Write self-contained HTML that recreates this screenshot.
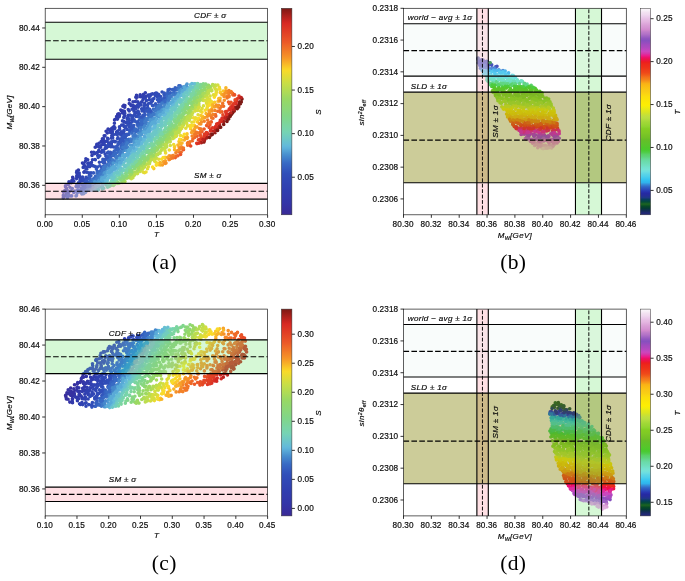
<!DOCTYPE html>
<html><head><meta charset="utf-8"><title>S-T scan: M_W and sin2theta_eff</title>
<style>
html,body{margin:0;padding:0;background:#fff;}
body{width:685px;height:581px;overflow:hidden;font-family:"Liberation Sans", sans-serif;}
svg{display:block;will-change:transform;font-family:"Liberation Sans", sans-serif;fill:#000;}
text{stroke:#000;stroke-width:0.18px;fill:#111;}
text.cap{stroke:none;fill:#000;}
</style></head><body>
<svg width="685" height="581" viewBox="0 0 685 581">
<rect width="685" height="581" fill="#fff"/>
<rect x="45.20" y="8.30" width="222.40" height="206.50" fill="#fff"/>
<g fill="none" stroke-linecap="round" stroke-width="3.60">
<path stroke="#76d4b4" d="M151.7 141.8h0M146.9 144.6h0M164.1 130.3h0M121.5 174.1h0M169.3 118.6h0M128.6 163.4h0M122.1 173.8h0M138.3 154.5h0M114.6 178.1h0M135.9 159.6h0M110.1 183.0h0M195.3 86.5h0M186.3 98.2h0M175.0 112.5h0M181.4 105.4h0M108.2 185.1h0M126.9 168.2h0M111.5 181.2h0M133.8 161.5h0M134.2 161.1h0M128.2 165.8h0M121.9 171.4h0M179.4 107.2h0M125.4 170.4h0M176.9 109.9h0M165.0 126.0h0M170.4 119.9h0M121.8 172.7h0M155.8 137.9h0M172.2 118.1h0M144.3 150.4h0M157.8 135.4h0M168.8 120.8h0M168.3 121.9h0M112.5 181.4h0M109.3 184.7h0M115.9 178.5h0M137.6 158.0h0M144.2 150.2h0M141.3 152.5h0M107.6 187.2h0M149.8 144.3h0M119.0 175.8h0M120.8 172.5h0M115.9 176.6h0M175.0 115.6h0M165.9 123.2h0M157.7 135.9h0M172.2 116.5h0M159.9 131.4h0M193.5 88.5h0M191.1 93.2h0"/>
<path stroke="#4588cc" d="M175.0 95.1h0M99.8 180.8h0M136.7 136.0h0M85.4 192.4h0M158.9 110.1h0M98.2 177.8h0M87.8 189.4h0M159.6 110.2h0M122.2 152.6h0M124.0 150.4h0M137.7 136.9h0M151.4 118.2h0M140.0 133.4h0M123.1 150.6h0M143.0 131.4h0M116.4 160.6h0M181.7 87.2h0M119.3 155.7h0M157.0 111.1h0M154.6 113.9h0M165.8 102.1h0M171.7 98.5h0M126.0 147.5h0M113.8 161.2h0M145.3 129.2h0M162.1 107.5h0M164.8 104.5h0M151.2 120.4h0M99.3 177.9h0M124.7 148.6h0M144.0 124.5h0M119.6 157.5h0M102.8 175.0h0M89.3 190.2h0M143.4 127.2h0M104.7 172.2h0M144.7 125.8h0M87.2 190.6h0M91.9 186.9h0M122.5 151.6h0M83.6 193.7h0M116.1 161.4h0M141.6 127.0h0M103.1 173.7h0M141.0 130.6h0M117.1 157.7h0M137.5 136.0h0M101.0 174.6h0M165.2 103.3h0M144.0 127.1h0M182.8 87.6h0M152.4 117.7h0M112.4 163.2h0M120.2 155.7h0M90.9 186.5h0M155.3 114.7h0M167.5 102.9h0M176.8 93.1h0M168.2 100.9h0M86.6 190.6h0M122.2 154.6h0M133.6 138.2h0M135.1 138.6h0M147.3 119.9h0M126.0 147.1h0M95.3 181.1h0M157.2 113.7h0M138.4 132.5h0M102.8 172.2h0M163.6 106.9h0M95.9 179.6h0M144.4 128.8h0M95.0 183.2h0M110.5 167.3h0M112.3 164.7h0M141.3 131.2h0M109.4 167.0h0M134.9 139.3h0M127.6 147.1h0M118.7 157.1h0"/>
<path stroke="#304eb9" d="M75.0 191.1h0M113.6 147.0h0M95.3 166.6h0M147.7 107.6h0M97.4 167.0h0M129.1 126.7h0M153.9 98.5h0M111.1 146.7h0M89.7 174.3h0M142.0 111.0h0M127.1 129.5h0M123.6 133.0h0M160.6 96.6h0M135.9 116.5h0M129.4 123.8h0M124.8 134.5h0M147.2 108.7h0M151.4 101.7h0M121.3 134.4h0M134.0 119.7h0M138.2 114.9h0M130.6 123.5h0M144.4 111.5h0M83.3 180.9h0M120.3 139.5h0M132.1 121.8h0M107.6 152.7h0M78.8 186.4h0M131.8 120.8h0M137.6 116.4h0M162.1 92.0h0M115.4 141.6h0M144.4 110.3h0M158.3 99.8h0M91.0 172.7h0M96.6 167.8h0M105.9 156.2h0M118.8 142.1h0M144.3 108.3h0M89.2 175.7h0M151.0 103.3h0M139.5 114.2h0M78.4 186.8h0M73.8 192.5h0M129.4 126.8h0M71.7 195.9h0M157.5 97.1h0"/>
<path stroke="#3044b3" d="M92.5 159.7h0M68.2 195.5h0M128.3 115.4h0M87.8 163.6h0M135.7 108.9h0M139.6 103.7h0M79.4 175.8h0M128.0 116.0h0M142.1 102.0h0M112.4 134.0h0M119.5 126.9h0M72.3 188.5h0M148.2 95.1h0M85.9 168.7h0M101.4 152.3h0M98.1 152.1h0M84.4 171.7h0M79.5 175.5h0M68.0 193.2h0M89.5 165.2h0M116.5 132.0h0M86.9 168.9h0M105.5 145.6h0M141.4 102.0h0M108.1 139.2h0M89.9 166.6h0M143.0 99.4h0M134.2 108.4h0M100.6 147.2h0M132.0 109.3h0M111.8 135.8h0M122.5 120.9h0M107.6 138.2h0M136.1 106.2h0M104.2 142.1h0M91.4 162.6h0M145.3 98.1h0M123.7 121.4h0M111.4 138.1h0M70.8 190.7h0M108.6 142.8h0M97.7 155.5h0M112.3 133.1h0M104.5 144.7h0M106.1 141.2h0M138.3 107.1h0M137.9 104.7h0M87.6 166.8h0M127.1 118.5h0"/>
<path stroke="#84d684" d="M168.9 130.6h0M196.3 94.8h0M150.9 150.1h0M197.4 94.3h0M187.6 104.3h0M171.4 126.6h0M143.5 157.9h0M164.3 134.7h0M121.3 178.3h0M120.9 178.8h0M178.4 117.9h0M188.9 102.1h0M136.9 163.7h0M128.0 171.9h0M178.5 116.5h0M113.4 185.4h0M195.1 96.1h0M161.3 140.1h0M167.8 131.9h0M168.0 131.1h0M138.7 162.2h0M193.3 98.1h0M134.6 166.9h0M145.1 157.6h0M152.4 149.0h0M148.6 153.1h0M136.1 165.0h0M199.3 91.5h0M127.6 172.3h0M177.8 118.2h0"/>
<path stroke="#8cd776" d="M165.9 136.4h0M167.3 134.6h0M200.7 93.0h0M160.8 142.4h0M137.2 166.4h0M152.4 151.8h0M182.7 114.4h0M132.1 170.4h0M150.2 154.2h0M134.8 168.4h0M178.9 119.9h0M117.8 183.5h0M130.7 171.8h0M192.4 101.8h0M152.7 150.0h0M145.1 159.2h0M156.1 148.0h0M125.0 176.7h0M171.1 129.7h0M172.0 130.4h0M185.4 112.4h0M194.6 98.5h0M194.1 99.7h0M158.4 144.8h0M204.6 87.7h0M177.2 122.5h0M183.6 114.2h0M158.5 144.8h0M147.9 156.2h0M136.0 167.3h0M129.2 173.2h0M201.4 90.3h0M156.1 147.0h0M201.8 90.2h0"/>
<path stroke="#313bac" d="M68.3 184.5h0M116.8 116.5h0M78.4 170.1h0M106.1 131.3h0M64.9 190.6h0M72.0 180.3h0M76.9 171.0h0M135.8 97.2h0M102.4 138.9h0M82.5 163.1h0M66.4 188.2h0M107.3 133.0h0M124.9 105.5h0M122.5 112.4h0M121.6 111.0h0M136.5 95.4h0M71.3 182.4h0M63.4 192.1h0M108.1 129.0h0M115.4 119.2h0M119.7 114.5h0M69.0 181.8h0M124.7 107.3h0M95.2 147.2h0M104.2 135.8h0M117.7 114.4h0M91.6 152.2h0M122.7 110.9h0M124.4 111.4h0M140.2 94.7h0M116.6 116.6h0M136.5 98.1h0M114.6 119.9h0M73.1 178.7h0M137.1 97.3h0M129.3 103.6h0"/>
<path stroke="#c7de47" d="M143.1 168.2h0M197.5 107.4h0M207.0 94.8h0M179.2 132.5h0M140.4 169.6h0M132.9 177.7h0M214.1 86.7h0M215.4 85.0h0M189.6 119.3h0M190.8 117.4h0M165.5 147.2h0M172.9 138.6h0M156.4 158.3h0M215.4 86.0h0M140.2 171.4h0M195.2 110.6h0M164.8 148.4h0M134.1 175.4h0M190.5 114.7h0M211.1 90.8h0M180.2 130.2h0M199.2 106.5h0M174.0 138.0h0M131.3 178.7h0M192.2 114.6h0M211.3 89.5h0M142.6 169.2h0M208.5 93.5h0M207.0 96.8h0M176.7 135.6h0M205.2 96.6h0M174.7 136.3h0M192.7 112.7h0M203.2 100.5h0M178.9 132.7h0M166.6 146.9h0M183.6 125.0h0M130.6 178.3h0M153.7 159.7h0M154.2 159.4h0M165.0 147.6h0M190.5 116.3h0M170.0 141.8h0M149.5 163.8h0M189.2 120.5h0M137.6 173.6h0"/>
<path stroke="#7dd596" d="M162.9 135.8h0M180.8 110.9h0M136.9 161.6h0M194.9 92.9h0M191.4 98.2h0M198.4 88.4h0M174.5 120.2h0M180.1 112.3h0M186.6 102.7h0M152.0 147.2h0M154.2 145.3h0M184.0 107.5h0M153.8 144.1h0M193.6 94.6h0M159.1 138.6h0M115.2 182.8h0M134.4 164.6h0M200.5 84.6h0M117.7 179.1h0M199.6 85.9h0M119.8 177.9h0M179.2 113.6h0M168.7 127.1h0M178.1 113.2h0M171.2 124.6h0M183.1 108.9h0M173.7 119.8h0M192.4 95.0h0M148.9 150.6h0M151.4 145.9h0M138.1 161.0h0M169.7 125.2h0M188.9 99.3h0M146.6 152.4h0M181.4 109.0h0M162.2 135.2h0M118.3 178.8h0M144.3 155.1h0M140.2 159.3h0M156.8 141.5h0"/>
<path stroke="#3561c0" d="M121.5 144.4h0M109.4 156.1h0M174.4 90.6h0M77.2 193.1h0M121.0 142.7h0M148.8 112.7h0M158.8 105.1h0M133.7 128.3h0M79.0 190.8h0M126.2 135.5h0M110.4 157.5h0M176.7 88.6h0M129.0 134.2h0M89.4 177.3h0M114.3 151.0h0M153.3 105.6h0M160.7 101.0h0M165.8 95.0h0M89.3 177.8h0M138.0 122.5h0M172.4 89.6h0M147.6 110.7h0M103.4 166.6h0M116.9 148.5h0M97.3 171.4h0M169.6 94.0h0M113.4 154.0h0M162.2 99.0h0M167.8 92.4h0M110.3 156.8h0M151.0 111.0h0M86.2 182.8h0M116.0 148.5h0M133.0 130.8h0M130.2 129.8h0M103.8 163.3h0M107.7 157.7h0M78.5 191.2h0M164.2 100.5h0M178.9 85.9h0M139.4 119.7h0M170.4 92.9h0M167.0 94.3h0M121.2 146.5h0M117.0 149.8h0M141.5 119.0h0M115.6 155.4h0M137.2 124.0h0M137.7 125.5h0M113.5 152.6h0M118.1 148.6h0M175.2 87.7h0M160.3 101.4h0M83.6 186.5h0M140.4 124.5h0M139.4 123.5h0M133.5 130.1h0M129.8 132.1h0M118.9 149.5h0M81.4 188.1h0M80.4 189.9h0M125.8 139.1h0M112.9 155.8h0M84.2 184.9h0M90.1 178.7h0M173.7 90.0h0M86.0 182.5h0M144.7 114.6h0M144.2 117.6h0M142.8 119.0h0M108.3 155.7h0M128.8 134.4h0"/>
<path stroke="#386ac4" d="M87.5 185.2h0M98.9 174.0h0M125.3 140.7h0M99.3 171.9h0M108.8 162.0h0M129.0 139.6h0M113.2 154.7h0M106.9 164.9h0M166.3 99.1h0M141.2 122.0h0M89.5 182.4h0M103.4 169.7h0M135.5 132.1h0M93.0 179.3h0M127.2 139.9h0M117.9 152.2h0M76.5 195.6h0M132.0 133.2h0M95.5 176.2h0M156.1 106.2h0M97.5 173.8h0M80.5 192.3h0M134.9 131.2h0M161.3 102.3h0M94.0 178.3h0M124.9 143.5h0M152.7 112.9h0M153.5 109.3h0M135.2 130.4h0M148.1 114.8h0M145.2 118.4h0M115.5 153.1h0M137.1 130.3h0M131.1 140.0h0M163.5 101.7h0M125.0 142.3h0M177.1 89.4h0M149.2 116.0h0M83.7 188.4h0M83.3 190.3h0M149.0 115.3h0M139.0 127.0h0M141.5 124.7h0M123.2 145.4h0M85.9 184.7h0M143.3 122.6h0M135.9 129.0h0M97.1 173.3h0M164.8 101.7h0M86.1 187.6h0M165.2 98.4h0M110.9 160.0h0M91.9 181.3h0M167.6 97.6h0M99.2 172.6h0M156.3 107.9h0M129.3 141.6h0M158.3 105.5h0M141.3 120.3h0M144.5 120.2h0M173.0 93.2h0M138.0 130.1h0M167.2 96.4h0M152.4 114.9h0M122.1 148.6h0M165.6 97.9h0M124.5 143.4h0M110.6 159.3h0M85.1 188.8h0M95.2 177.3h0M128.8 139.2h0M89.9 181.4h0M107.8 160.1h0M128.0 143.0h0M101.2 169.7h0M180.1 85.8h0M173.7 92.5h0M119.8 151.6h0M90.3 181.3h0M149.4 114.1h0M121.3 148.0h0M155.6 109.7h0M129.0 140.9h0M76.0 195.9h0M174.0 93.0h0"/>
<path stroke="#3357bd" d="M117.9 145.3h0M115.9 146.9h0M127.8 134.4h0M121.4 141.2h0M143.0 115.4h0M123.4 135.8h0M110.4 153.8h0M102.5 161.7h0M87.9 178.5h0M105.2 159.6h0M101.3 167.0h0M86.9 180.9h0M168.1 89.9h0M99.8 165.8h0M125.3 136.9h0M102.9 159.3h0M149.7 109.3h0M150.5 111.2h0M126.9 134.2h0M86.2 180.4h0M102.6 162.0h0M144.8 114.7h0M90.9 175.8h0M77.7 189.7h0M164.0 94.6h0M121.9 137.4h0M123.9 137.6h0M85.4 181.9h0M133.8 125.5h0M159.0 98.5h0M157.5 99.8h0M141.7 116.7h0M118.0 144.1h0M164.2 97.5h0M158.7 101.7h0M131.5 128.4h0M130.9 124.7h0M104.2 161.0h0M125.7 136.0h0M146.2 111.1h0M93.5 172.9h0M160.6 99.8h0M164.3 93.0h0M148.3 111.0h0M96.4 169.0h0M155.6 103.7h0M122.9 141.0h0M108.4 152.1h0M152.4 105.6h0M107.1 157.6h0M104.7 162.7h0M137.4 121.7h0M110.4 152.2h0M169.7 89.3h0M119.3 143.6h0M82.3 185.0h0M129.6 130.1h0M132.0 127.0h0M139.7 117.0h0M134.9 121.3h0M121.8 139.2h0"/>
<path stroke="#b2db54" d="M131.4 175.6h0M208.9 89.1h0M194.0 108.8h0M167.1 143.1h0M153.9 156.5h0M189.5 114.1h0M125.0 181.5h0M138.2 170.1h0M194.0 107.8h0M137.2 171.3h0M212.7 84.5h0M201.6 98.2h0M142.1 166.9h0M167.2 142.6h0M132.8 175.1h0M205.9 93.7h0M172.5 136.2h0M148.6 161.2h0M183.1 123.1h0M206.8 92.1h0M151.1 159.3h0M210.4 87.0h0M201.3 99.0h0M170.1 139.8h0M203.0 96.5h0M183.8 122.5h0M184.6 119.5h0M187.4 116.6h0M198.9 100.9h0M150.7 160.0h0M162.2 148.1h0M196.8 104.9h0"/>
<path stroke="#921d18" d="M230.0 116.3h0M204.0 142.1h0M239.2 102.0h0M215.3 130.7h0M238.0 105.0h0M236.0 107.9h0M216.1 130.2h0M234.3 111.1h0M212.0 134.2h0M215.1 132.8h0M220.0 127.5h0M211.1 135.1h0"/>
<path stroke="#71cdbe" d="M166.6 118.8h0M157.2 132.1h0M157.4 136.1h0M182.1 102.0h0M135.3 156.0h0M170.9 116.4h0M126.6 165.1h0M122.6 170.3h0M131.7 162.0h0M140.1 150.3h0M137.8 155.7h0M187.8 94.9h0M161.6 127.1h0M191.6 89.4h0M119.3 174.3h0M107.9 185.3h0M153.3 138.5h0M130.1 163.3h0M188.2 93.0h0M143.2 149.1h0M131.6 160.3h0M145.3 146.7h0M164.7 122.2h0M141.8 148.5h0M184.4 96.6h0M102.2 188.9h0M126.5 165.9h0M159.8 130.4h0M158.7 130.9h0M176.3 108.6h0M134.5 159.2h0M184.2 99.1h0M185.1 97.3h0M154.7 134.7h0M123.4 170.2h0M177.0 105.5h0M174.7 110.0h0M189.0 94.2h0M158.0 130.0h0M123.0 168.7h0M157.8 133.2h0M105.9 185.0h0M165.7 124.4h0M181.0 103.1h0M189.9 91.0h0M103.8 188.3h0M151.3 141.3h0M166.3 121.4h0M159.0 133.0h0M195.5 83.9h0M151.2 139.3h0M172.1 113.9h0M186.5 96.1h0M183.0 99.9h0M165.8 119.6h0M119.0 172.9h0M182.6 100.2h0M117.3 174.0h0M145.1 147.0h0M165.9 121.3h0M145.4 145.0h0M160.8 130.4h0M194.4 84.2h0M163.4 125.1h0M138.3 153.4h0M149.3 145.1h0M191.6 88.9h0M171.1 118.5h0M129.0 164.4h0M169.4 116.9h0M160.3 129.0h0"/>
<path stroke="#95d868" d="M190.3 107.6h0M122.2 181.1h0M172.3 131.9h0M174.5 129.1h0M142.2 162.9h0M159.2 147.1h0M154.3 152.3h0M144.6 160.9h0M146.0 160.2h0M132.0 172.8h0M165.9 138.8h0M205.1 89.9h0M127.9 176.8h0M192.2 105.7h0M208.3 85.4h0M198.2 98.3h0M158.0 148.4h0M196.2 100.0h0M144.4 162.3h0M168.7 136.6h0M194.5 101.3h0M192.7 106.4h0M208.7 85.3h0M189.1 110.7h0M208.6 85.6h0M157.7 148.9h0M138.7 167.0h0M159.8 145.9h0M147.5 159.5h0M193.9 103.2h0M123.7 180.1h0M161.3 144.2h0M148.8 158.5h0M172.9 130.7h0M140.8 165.1h0M204.6 89.4h0"/>
<path stroke="#91d76f" d="M197.6 97.6h0M155.8 150.0h0M186.2 112.7h0M168.1 134.6h0M192.5 102.7h0M127.2 176.0h0M185.4 112.7h0M170.1 132.3h0M181.5 118.0h0M149.7 155.9h0M189.3 107.9h0M199.2 94.2h0M119.1 183.2h0M182.6 116.5h0M192.2 104.0h0M172.9 129.1h0M206.3 85.3h0M151.5 154.3h0M164.7 139.4h0M154.5 151.6h0M149.5 155.8h0M151.4 153.4h0M147.3 158.2h0M202.9 90.6h0M162.6 141.8h0M124.7 178.2h0M132.3 172.6h0M155.1 150.8h0M201.5 93.2h0M165.2 138.5h0M188.0 108.9h0M165.9 136.2h0"/>
<path stroke="#68c0d1" d="M144.9 140.5h0M99.6 187.0h0M109.4 177.3h0M130.6 157.4h0M125.9 161.0h0M165.6 114.8h0M160.7 120.1h0M180.0 96.2h0M143.7 141.3h0M154.4 128.4h0M112.5 175.9h0M104.3 182.9h0M149.7 137.6h0M149.2 133.4h0M97.9 188.7h0M164.7 116.8h0M166.6 111.7h0M187.1 89.6h0M113.3 173.8h0M119.1 168.6h0M148.4 137.4h0M120.8 164.3h0M147.1 134.3h0M172.6 108.7h0M133.0 153.0h0M194.2 83.7h0M182.1 92.9h0M174.8 104.9h0M148.3 136.1h0M176.1 102.2h0M96.1 189.8h0M185.5 92.7h0M147.4 134.6h0M168.8 112.1h0M153.6 128.8h0M183.4 96.1h0M110.2 176.0h0M120.7 167.9h0M107.5 180.4h0M117.9 168.9h0M168.6 114.1h0M188.6 87.7h0M179.7 99.5h0M137.6 149.0h0M112.5 175.6h0M178.7 100.5h0M140.3 144.1h0M97.8 189.1h0M107.2 178.7h0M171.0 107.4h0M125.7 160.0h0M128.0 158.6h0M149.6 134.3h0M154.1 126.6h0M187.0 90.9h0M162.1 119.6h0M147.4 137.6h0M161.7 118.2h0M131.8 153.7h0M105.7 181.1h0M190.3 84.7h0M184.4 92.4h0M143.9 141.4h0M178.0 98.5h0M142.0 144.0h0M170.4 111.2h0M190.3 87.3h0M116.7 172.1h0M169.7 107.8h0M141.1 145.4h0M150.2 136.0h0M105.4 182.9h0M162.6 118.3h0M137.1 149.1h0M185.4 91.3h0M131.9 154.2h0M155.7 129.7h0M119.6 166.7h0M135.7 149.8h0M123.6 163.0h0M168.1 113.5h0M134.8 150.0h0M160.4 122.1h0M164.6 116.5h0M134.7 152.4h0"/>
<path stroke="#ec5b28" d="M197.1 136.2h0M210.0 124.7h0M204.1 129.0h0M222.0 111.7h0M183.5 149.8h0M206.6 125.6h0M200.0 134.3h0M202.0 131.8h0M177.9 155.8h0M233.9 94.5h0M215.8 116.1h0M211.3 121.9h0M175.3 157.6h0M228.5 102.1h0M229.4 103.7h0"/>
<path stroke="#3f79c8" d="M169.6 96.4h0M91.9 182.9h0M122.9 147.5h0M160.7 107.4h0M134.2 135.5h0M168.8 100.0h0M108.9 164.7h0M113.9 160.7h0M127.2 142.9h0M130.9 139.1h0M169.8 98.5h0M103.4 167.5h0M158.5 106.5h0M146.5 119.1h0M81.9 194.0h0M98.0 176.0h0M148.2 118.2h0M93.4 180.8h0M160.6 105.1h0M96.2 179.0h0M88.2 184.6h0M90.2 186.7h0M172.9 94.9h0M102.2 171.0h0M82.1 191.7h0M150.9 115.9h0M145.2 121.0h0M144.8 121.9h0M146.1 123.3h0M100.2 173.9h0M111.4 162.6h0M168.9 98.3h0M155.2 110.8h0M104.1 168.2h0M126.6 144.4h0M178.6 89.6h0M124.9 147.1h0M148.3 117.8h0M132.0 141.0h0M153.5 114.2h0M119.0 155.9h0M106.6 168.4h0M120.5 151.9h0M115.8 157.5h0M89.9 184.4h0M112.6 159.7h0M149.0 119.8h0M120.4 153.9h0M170.9 96.4h0M116.4 156.2h0M176.5 93.6h0M170.9 97.0h0M131.4 141.5h0M162.2 103.3h0M87.9 186.3h0M105.4 166.0h0M104.5 170.4h0M110.6 162.8h0M147.0 123.2h0M134.7 134.6h0M135.3 135.8h0M158.7 108.2h0M157.5 108.5h0M126.2 148.0h0M140.4 127.7h0M89.8 184.7h0M133.1 136.0h0M105.9 166.3h0M179.3 87.4h0"/>
<path stroke="#63b9da" d="M158.6 121.9h0M144.1 138.0h0M146.7 132.9h0M117.9 167.7h0M110.7 173.6h0M135.9 148.7h0M181.7 93.0h0M177.1 98.1h0M150.2 128.8h0M145.3 137.4h0M160.1 117.7h0M176.2 101.0h0M120.9 164.1h0M166.9 108.2h0M155.8 123.8h0M141.4 142.9h0M156.4 125.5h0M155.5 126.9h0M141.9 139.1h0M180.9 95.4h0M140.3 144.7h0M168.0 109.4h0M160.5 117.8h0M130.9 153.7h0M153.2 128.9h0M174.8 101.1h0M167.2 110.5h0M108.6 175.6h0M121.8 162.6h0M149.6 129.3h0M172.2 104.3h0M118.7 164.2h0M154.0 123.9h0M180.5 94.1h0M110.0 174.1h0M162.5 114.6h0M172.5 105.3h0M98.8 185.5h0M105.4 179.9h0M175.4 100.1h0M164.5 111.1h0M165.2 114.5h0M94.4 190.1h0M115.0 170.3h0M159.2 120.6h0M131.4 151.1h0M118.3 165.5h0M104.4 180.9h0M108.7 177.9h0M136.7 145.1h0M163.5 114.3h0M155.0 125.0h0M143.5 139.9h0M138.2 145.7h0M128.2 156.0h0M124.0 159.2h0M139.8 142.9h0M121.8 160.1h0M102.1 182.7h0M103.6 181.0h0M102.2 184.7h0M191.9 83.6h0M127.7 155.6h0M151.9 129.3h0M96.1 186.6h0M187.4 87.5h0M134.2 150.4h0M173.9 102.4h0"/>
<path stroke="#f9c728" d="M197.6 121.9h0M187.0 133.8h0M202.5 116.3h0M212.3 106.8h0M212.7 102.8h0M223.2 91.0h0M208.8 105.3h0M200.8 115.6h0M158.7 164.6h0M186.9 134.5h0M174.5 147.3h0M179.0 141.5h0M190.7 128.8h0M211.9 103.9h0M165.1 157.4h0M174.5 146.5h0M153.8 168.6h0M220.2 92.6h0M198.7 119.7h0M214.7 102.2h0M181.3 139.8h0M194.3 125.3h0"/>
<path stroke="#a7da5b" d="M172.3 135.0h0M183.9 119.6h0M176.8 128.8h0M169.8 138.4h0M188.6 114.5h0M156.3 154.2h0M166.0 142.2h0M163.6 144.8h0M200.6 99.1h0M130.8 175.9h0M134.9 172.1h0M201.8 96.9h0M174.1 130.8h0M141.1 166.8h0M179.6 125.0h0M202.0 95.7h0M200.3 100.3h0M151.3 157.6h0M168.3 140.1h0M143.8 165.0h0M173.1 133.1h0M151.3 156.7h0M191.0 110.8h0M185.3 117.4h0M203.1 93.7h0M204.3 93.3h0M207.7 89.8h0M198.3 100.2h0M190.6 111.5h0M129.0 177.6h0M163.8 144.8h0M194.8 105.3h0M179.0 125.1h0M137.9 170.0h0M191.8 109.1h0M198.8 101.5h0M177.2 129.5h0"/>
<path stroke="#bcdd4d" d="M132.0 176.9h0M144.6 166.9h0M160.0 152.1h0M160.1 153.3h0M151.3 159.6h0M170.0 141.7h0M146.6 164.3h0M161.8 149.4h0M157.9 153.7h0M182.8 125.1h0M195.7 107.3h0M206.4 95.5h0M161.2 150.6h0M182.0 125.6h0M179.5 128.1h0M186.2 120.9h0M141.2 168.5h0M162.9 148.9h0M185.4 121.5h0M187.2 117.7h0M157.7 154.7h0M187.9 118.5h0M155.6 155.8h0M202.9 99.1h0M165.6 146.9h0M189.4 115.2h0M147.1 163.9h0M149.9 161.7h0M135.1 174.3h0M212.9 85.1h0M178.8 130.5h0M175.3 133.5h0M177.7 132.1h0M165.8 144.6h0M208.7 90.9h0M211.9 90.8h0M175.9 132.4h0M175.2 135.3h0M198.9 103.9h0M166.6 145.9h0M187.3 119.0h0M208.3 92.5h0"/>
<path stroke="#ee6928" d="M220.2 112.1h0M189.3 144.1h0M187.7 145.2h0M232.6 93.3h0M199.7 132.6h0M194.7 137.4h0M176.1 156.1h0M192.5 140.7h0M232.8 94.8h0M209.5 122.5h0M192.9 138.7h0M207.9 123.3h0M217.7 111.2h0M201.0 130.7h0M181.2 152.0h0M232.9 94.9h0M213.0 118.2h0M219.2 111.0h0M223.6 106.2h0M215.4 114.6h0M179.0 152.0h0"/>
<path stroke="#fada28" d="M207.3 106.9h0M158.2 163.2h0M156.3 165.1h0M219.8 89.3h0M191.5 125.8h0M179.7 139.2h0M205.2 110.2h0M156.5 165.1h0M161.8 159.1h0M202.0 112.2h0M194.0 121.8h0M183.2 136.4h0M184.3 134.2h0M163.2 157.5h0M207.7 104.8h0M209.6 104.8h0M198.6 118.3h0M215.7 95.1h0M190.2 125.6h0M214.3 97.2h0M152.6 167.1h0M193.0 125.8h0M190.5 127.5h0"/>
<path stroke="#3041b1" d="M113.7 127.1h0M142.6 96.7h0M65.3 196.0h0M94.5 153.8h0M124.8 116.0h0M99.5 146.4h0M146.0 96.3h0M99.0 150.8h0M103.6 142.6h0M114.1 126.6h0M99.1 146.9h0M83.9 172.3h0M83.2 167.4h0M84.9 166.2h0M112.3 131.4h0M114.9 127.8h0M133.7 106.9h0M88.8 163.0h0M79.8 177.5h0M66.4 193.4h0M98.8 150.4h0M137.8 101.9h0M123.8 117.4h0M76.8 176.6h0M133.1 105.5h0M79.2 173.1h0M96.6 152.7h0M110.4 132.4h0M114.5 128.7h0M68.1 191.6h0M105.0 141.7h0M68.7 192.2h0M63.3 197.8h0M129.2 111.0h0M133.4 105.7h0M111.9 130.5h0M101.8 144.7h0M93.7 152.2h0"/>
<path stroke="#7bd5a0" d="M133.1 164.7h0M142.3 156.3h0M191.2 94.5h0M130.3 168.3h0M109.3 186.5h0M160.1 135.1h0M180.6 109.1h0M175.9 116.6h0M110.6 185.6h0M193.6 92.0h0M171.1 122.6h0M146.6 150.1h0M197.4 85.5h0M184.5 104.3h0M165.5 128.7h0M155.4 141.4h0M190.9 97.0h0M128.7 168.4h0M181.2 108.0h0M192.3 94.9h0M196.8 89.6h0M162.6 133.5h0M197.1 87.0h0M136.3 161.6h0M126.5 171.5h0M135.5 162.3h0M128.8 168.3h0M166.1 128.7h0M198.3 87.1h0M141.0 156.6h0M178.9 111.6h0M175.2 117.0h0M151.7 144.1h0M111.7 184.7h0"/>
<path stroke="#9cd961" d="M188.2 113.0h0M153.3 155.3h0M172.1 133.9h0M138.5 168.0h0M200.6 96.4h0M189.2 110.6h0M144.1 163.3h0M166.7 139.5h0M176.6 126.6h0M196.3 102.1h0M176.6 127.8h0M157.0 150.2h0M181.3 120.8h0M179.3 123.2h0M196.5 102.6h0M122.1 182.4h0M170.7 134.2h0M160.7 146.3h0M130.8 174.6h0M180.0 122.9h0M207.7 87.5h0M126.9 178.3h0M168.9 137.1h0M209.8 86.7h0"/>
<path stroke="#f8b428" d="M209.0 110.2h0M218.8 98.6h0M184.3 140.0h0M160.3 162.5h0M206.1 113.6h0M212.8 105.0h0M202.9 118.3h0M174.6 149.7h0M201.1 119.8h0M180.0 143.3h0M221.8 94.6h0M220.1 98.4h0M182.0 143.1h0M194.6 128.7h0M160.3 165.0h0M225.9 87.9h0M218.1 101.3h0M225.3 91.1h0M202.6 117.7h0M177.9 145.0h0"/>
<path stroke="#4e98d2" d="M168.6 104.1h0M150.8 122.0h0M168.2 103.9h0M100.5 181.9h0M178.9 93.0h0M101.5 177.3h0M132.8 145.2h0M184.4 87.5h0M116.5 163.3h0M150.2 119.7h0M113.3 163.0h0M126.6 150.8h0M186.4 85.7h0M147.7 126.4h0M123.0 154.5h0M104.5 172.8h0M105.4 175.6h0M94.7 181.7h0M142.1 133.1h0M98.4 181.0h0M119.4 160.9h0M106.3 171.8h0M131.5 145.5h0M91.2 189.3h0M130.0 148.9h0M162.1 109.7h0M95.3 183.0h0M112.4 168.2h0M93.1 185.8h0M117.3 161.1h0M147.2 128.3h0M130.4 145.0h0M140.1 136.1h0M98.6 181.4h0M183.7 86.7h0M134.6 141.8h0M134.1 141.4h0M158.3 116.7h0M96.0 183.0h0M145.5 130.5h0M108.7 168.9h0M157.1 116.1h0M149.3 124.9h0M186.3 85.4h0M107.9 168.7h0M140.5 134.6h0M181.1 89.8h0M187.0 84.1h0M152.2 120.1h0M161.4 111.5h0M135.8 141.8h0M158.3 114.4h0M134.1 143.9h0M166.8 106.9h0M179.8 90.8h0M137.3 139.2h0M158.5 115.0h0M90.0 189.6h0M158.0 112.9h0M141.7 134.4h0M145.0 129.6h0M154.3 119.2h0M160.4 112.1h0M143.2 131.5h0M92.2 188.9h0M148.5 123.8h0M154.3 118.0h0"/>
<path stroke="#d32722" d="M200.5 141.7h0M221.0 121.0h0M225.9 116.4h0M214.5 127.8h0M226.5 115.5h0M224.9 117.1h0M207.9 133.7h0M215.6 127.1h0M236.0 103.9h0M222.9 118.2h0M239.7 98.0h0M207.2 135.9h0M216.0 127.0h0M219.0 123.7h0M204.8 137.9h0"/>
<path stroke="#78d4aa" d="M187.3 98.3h0M193.4 90.0h0M196.0 87.9h0M148.7 146.6h0M186.5 99.8h0M113.9 181.9h0M183.0 105.7h0M161.0 133.5h0M181.3 104.9h0M143.6 152.1h0M140.6 155.5h0M162.2 132.6h0M154.5 139.6h0M116.1 179.2h0M195.4 87.4h0M168.3 123.6h0M174.9 114.3h0M112.5 183.6h0M184.3 103.3h0M197.7 83.5h0M157.3 137.7h0M147.0 148.5h0M185.5 101.8h0M178.9 110.5h0M130.5 166.7h0M179.2 109.3h0M183.3 105.0h0M177.1 112.6h0M142.7 153.1h0M132.1 164.7h0M115.8 180.2h0M165.6 127.8h0M127.4 169.4h0M169.8 123.0h0"/>
<path stroke="#59aad7" d="M145.2 133.0h0M144.4 136.4h0M109.5 172.4h0M164.1 109.3h0M120.5 162.7h0M184.6 87.5h0M140.5 139.7h0M124.5 156.9h0M114.2 168.2h0M111.8 167.9h0M115.0 167.5h0M143.9 132.1h0M109.8 170.3h0M133.6 148.0h0M105.8 176.0h0M151.9 123.4h0M128.7 150.1h0M128.0 152.6h0M102.5 180.8h0M91.7 190.3h0M102.3 178.0h0M129.8 150.5h0M95.6 187.0h0M128.6 153.1h0M112.7 170.3h0M110.8 170.7h0M182.2 91.1h0M151.6 123.9h0M159.4 115.3h0M97.8 183.7h0M93.2 187.8h0M113.1 166.7h0M115.4 168.2h0M121.5 159.1h0M104.2 177.4h0M148.7 129.1h0M135.3 144.9h0M119.7 158.2h0M167.1 107.5h0M107.4 172.7h0M125.2 154.8h0M116.1 164.9h0M154.0 121.7h0M147.5 130.8h0M122.5 160.0h0M150.1 127.0h0M131.1 147.5h0M95.4 186.7h0M101.4 179.6h0M127.0 153.9h0M107.9 172.2h0M172.8 101.5h0M171.4 102.3h0M140.7 139.4h0M150.9 125.2h0M140.6 138.1h0M177.4 96.1h0M138.8 141.6h0M168.4 106.0h0M113.8 167.1h0M134.9 145.0h0M149.8 131.2h0M175.0 98.4h0M122.6 155.8h0M131.2 148.4h0M128.1 154.6h0M137.8 141.9h0M112.8 170.3h0M160.3 114.6h0M152.5 122.3h0M112.0 171.3h0M119.8 162.7h0M104.8 177.3h0M184.7 89.1h0M169.9 103.7h0M178.2 94.7h0M136.3 141.3h0M163.2 112.5h0M155.3 121.1h0M156.7 119.1h0M125.7 155.8h0M138.3 143.8h0M99.4 183.0h0M172.5 99.3h0M177.7 96.3h0M147.1 131.3h0M155.2 123.0h0"/>
<path stroke="#eddb30" d="M216.0 93.4h0M195.5 119.2h0M146.0 172.0h0M195.5 117.7h0M180.5 135.5h0M216.4 92.2h0M173.7 144.6h0M155.8 162.1h0M169.3 150.0h0M144.5 172.8h0M206.9 108.5h0M193.6 117.9h0M211.4 101.5h0M207.0 103.9h0M165.6 152.9h0M208.8 102.0h0M219.3 87.3h0"/>
<path stroke="#80d68c" d="M125.6 173.6h0M202.4 84.6h0M200.6 87.5h0M139.4 161.5h0M174.8 121.7h0M147.9 151.8h0M203.2 83.7h0M165.6 132.1h0M122.6 175.9h0M142.0 158.9h0M168.2 129.2h0M129.7 170.4h0M190.3 99.9h0M188.9 101.6h0M187.2 105.4h0M148.7 151.2h0M172.2 124.5h0M174.5 121.4h0M197.6 90.9h0M133.0 166.9h0M185.0 107.6h0M160.4 138.8h0M160.7 138.1h0M157.5 141.5h0M158.5 140.8h0M157.7 141.4h0M143.0 156.5h0M164.7 132.0h0M203.4 84.8h0M196.7 91.3h0M185.9 104.5h0M175.3 119.9h0M156.6 143.2h0M182.6 110.6h0"/>
<path stroke="#3047b5" d="M107.6 146.8h0M113.6 134.6h0M131.9 118.2h0M121.7 125.1h0M134.9 113.7h0M82.6 177.1h0M146.5 100.5h0M112.7 137.8h0M122.7 125.1h0M69.1 195.8h0M130.1 115.1h0M102.3 150.2h0M136.3 112.6h0M78.5 182.7h0M155.4 93.2h0M134.0 111.3h0M141.1 105.0h0M82.0 178.1h0M124.1 126.5h0M111.4 143.5h0M128.3 118.3h0M99.8 155.7h0M149.4 99.5h0M82.0 177.6h0M76.1 186.6h0M81.5 180.9h0M68.1 195.7h0M138.0 111.0h0M125.9 122.5h0M106.4 147.9h0M148.9 96.6h0M95.3 159.8h0M126.9 121.9h0M144.7 103.2h0M91.7 165.1h0M105.1 148.5h0M139.1 105.2h0M89.8 165.2h0M70.0 196.0h0M80.0 180.2h0M149.9 94.9h0M76.7 185.1h0M117.6 131.0h0M116.5 134.2h0M102.3 151.8h0M113.5 141.2h0M151.1 94.4h0M152.6 93.9h0M86.5 172.3h0M119.7 129.3h0M128.8 122.4h0M95.0 159.6h0M123.2 124.9h0M150.1 96.3h0"/>
<path stroke="#a8201b" d="M211.0 134.4h0M223.7 121.6h0M227.8 116.8h0M217.4 129.0h0M229.4 114.4h0M218.8 126.4h0M226.4 118.6h0M206.7 137.9h0M204.5 140.5h0M235.0 107.6h0M219.6 124.9h0M201.4 142.7h0M233.4 110.1h0M215.7 130.5h0"/>
<path stroke="#e14125" d="M231.1 106.7h0M206.3 132.6h0M198.4 139.9h0M230.2 108.3h0M233.6 103.7h0M200.8 139.2h0M204.4 134.3h0M201.9 138.0h0M225.6 111.6h0"/>
<path stroke="#7d1914" d="M212.2 134.4h0M230.1 116.2h0M241.3 102.0h0M217.6 130.5h0M236.9 107.3h0M240.4 103.8h0M240.3 102.0h0M226.8 121.3h0M231.3 114.6h0M220.7 127.3h0M237.2 108.8h0M209.5 137.5h0M227.0 121.5h0M242.0 99.1h0M239.7 103.9h0M232.6 112.9h0M223.7 124.4h0M240.0 103.9h0M238.7 106.9h0M228.7 119.0h0"/>
<path stroke="#de3825" d="M212.4 127.7h0M233.8 104.3h0M239.0 96.1h0M206.0 134.4h0M197.0 143.6h0M229.2 109.1h0M227.1 111.3h0M237.2 98.8h0M216.6 124.0h0M226.0 112.9h0M204.1 136.2h0M235.3 101.9h0M200.7 138.8h0M196.7 143.2h0M207.0 132.7h0M230.3 108.0h0M232.4 105.5h0"/>
<path stroke="#303eaf" d="M119.3 116.6h0M96.5 146.5h0M96.8 144.4h0M99.0 143.3h0M133.2 106.1h0M130.7 104.7h0M85.9 158.7h0M105.0 135.9h0M77.3 173.4h0M84.3 165.5h0M92.0 155.4h0M110.4 129.6h0M103.1 141.0h0M67.3 190.5h0M63.5 196.6h0M114.4 123.3h0M109.2 130.2h0M112.9 127.5h0M140.1 96.1h0M63.3 195.3h0M101.2 141.6h0M71.1 182.7h0M131.0 105.6h0M83.9 163.4h0M76.9 175.5h0M145.3 92.7h0M143.6 94.4h0M73.9 181.2h0M124.8 113.2h0M133.0 101.9h0M140.3 96.8h0M135.4 101.5h0M87.7 159.8h0M103.4 139.1h0M69.9 187.2h0M124.0 114.3h0M111.8 128.2h0M128.3 109.5h0M117.5 119.1h0M85.5 161.2h0M76.6 178.6h0M76.6 172.5h0"/>
<path stroke="#f7a128" d="M163.8 162.1h0M197.0 126.9h0M187.1 138.4h0M165.3 160.7h0M195.7 126.9h0M223.2 94.5h0M209.6 112.7h0M185.6 137.9h0M199.4 123.8h0M205.1 117.6h0M211.7 109.2h0M187.5 137.6h0M162.4 164.9h0M169.2 155.8h0M179.1 147.1h0M163.6 161.7h0M214.5 106.9h0M191.6 132.5h0M209.3 111.2h0M167.7 157.4h0M192.5 131.0h0"/>
<path stroke="#e0dc37" d="M209.8 99.6h0M213.4 94.9h0M185.8 128.2h0M200.3 110.9h0M206.4 102.8h0M187.6 125.9h0M191.9 122.3h0M200.9 110.4h0M216.2 90.7h0M147.6 168.8h0M158.8 159.2h0M207.4 100.6h0M143.3 172.3h0M202.1 108.4h0M216.9 89.9h0M148.3 166.8h0M198.1 114.8h0"/>
<path stroke="#6cc7c7" d="M138.3 152.2h0M148.5 139.4h0M132.6 155.1h0M152.3 136.7h0M174.2 108.4h0M168.6 114.9h0M123.7 165.1h0M142.8 147.1h0M149.1 140.8h0M169.2 114.3h0M107.1 183.4h0M140.3 150.5h0M157.6 128.6h0M165.4 118.7h0M160.6 125.3h0M111.3 178.3h0M171.9 109.0h0M153.6 132.4h0M176.6 103.9h0M171.8 112.4h0M127.6 160.8h0M192.6 87.1h0M117.7 172.4h0M115.1 173.2h0M150.9 139.7h0M159.1 125.4h0M114.4 174.3h0M102.4 186.2h0M155.0 130.9h0M174.1 109.8h0M128.0 161.8h0M147.2 141.8h0M129.5 161.3h0M120.2 169.9h0M141.6 147.1h0M158.1 125.3h0M145.4 143.4h0M186.2 92.8h0M128.8 159.9h0M184.0 94.3h0M131.0 156.9h0M133.5 157.4h0M133.2 157.4h0M151.5 134.0h0M114.2 177.3h0M179.7 102.2h0M161.6 123.6h0M180.9 99.8h0M133.9 154.7h0M101.6 187.0h0M180.1 100.8h0M154.3 134.6h0M163.9 118.6h0M147.8 140.1h0M176.6 105.4h0M167.3 116.6h0M183.8 96.6h0M173.8 107.3h0M98.4 190.1h0M153.1 134.7h0M171.3 111.0h0M139.5 149.0h0M138.3 151.6h0M143.6 148.5h0M136.9 153.2h0M156.0 132.8h0M178.3 101.6h0M191.3 86.7h0M124.9 166.8h0M160.5 125.2h0M130.5 159.6h0M113.0 179.1h0M189.6 89.5h0M143.2 146.6h0M161.5 121.6h0"/>
<path stroke="#f59128" d="M169.0 159.7h0M181.3 146.9h0M166.0 163.1h0M224.3 100.3h0M209.8 114.5h0M225.1 93.3h0M200.8 123.9h0M219.9 101.0h0M226.7 91.2h0M201.4 122.3h0M207.5 116.2h0M177.4 150.9h0M179.6 148.7h0M224.1 96.0h0M165.3 163.4h0M227.3 92.9h0M194.6 134.1h0M194.3 131.1h0M212.1 110.9h0M218.7 105.3h0M208.6 114.6h0M224.0 96.4h0M216.4 105.1h0M178.3 150.2h0M217.8 107.0h0"/>
<path stroke="#f38328" d="M194.7 134.2h0M173.0 155.6h0M192.2 136.1h0M175.9 152.8h0M228.9 93.0h0M210.8 116.0h0M169.9 159.1h0M226.9 96.4h0M204.2 121.2h0M212.9 114.6h0M228.9 90.6h0M199.4 128.5h0M173.3 155.6h0M215.0 110.5h0M228.9 93.2h0M180.8 148.5h0M170.9 158.5h0M171.1 156.0h0M231.0 91.5h0"/>
<path stroke="#88d77d" d="M186.6 107.0h0M178.3 120.8h0M203.5 86.4h0M205.8 84.1h0M190.4 103.3h0M137.1 165.3h0M185.1 109.9h0M130.7 171.4h0M176.6 121.9h0M164.0 137.3h0M176.0 123.7h0M123.7 177.7h0M154.4 148.6h0M158.8 143.1h0M125.8 176.0h0M194.1 98.2h0M174.9 125.3h0M140.1 162.6h0M152.6 150.7h0M139.0 163.5h0M120.8 180.0h0M144.0 158.6h0M203.3 87.2h0M198.8 92.9h0M187.6 107.9h0M180.6 115.8h0M141.1 161.4h0M170.3 128.9h0M178.3 118.4h0M176.0 121.8h0M183.3 113.6h0M205.0 84.2h0M114.8 184.2h0M179.9 117.4h0M126.4 175.6h0M162.3 139.7h0M173.8 126.4h0M117.8 182.4h0"/>
<path stroke="#bd241f" d="M241.2 97.5h0M230.8 112.7h0M213.4 131.0h0M221.3 121.5h0M203.0 139.6h0M224.7 118.3h0M233.1 109.4h0"/>
<path stroke="#da2f24" d="M218.0 123.5h0M210.7 129.7h0M236.5 101.2h0M226.7 114.4h0M220.3 120.2h0M198.9 143.2h0M230.3 109.8h0M222.1 118.1h0M232.3 107.3h0M210.4 131.0h0M221.3 120.0h0M220.0 121.9h0M215.9 126.2h0"/>
<path stroke="#304bb7" d="M110.5 146.4h0M124.0 130.3h0M79.3 184.6h0M86.1 177.4h0M121.3 131.9h0M124.0 131.0h0M113.6 141.3h0M79.7 183.4h0M155.3 95.6h0M125.6 127.4h0M144.6 105.4h0M118.9 134.0h0M156.4 94.9h0M134.7 114.7h0M88.7 172.8h0M105.1 154.0h0M107.7 146.5h0M99.4 162.2h0M138.4 112.4h0M152.7 99.3h0M133.0 116.1h0M131.8 115.8h0M144.2 106.6h0M132.3 117.6h0M125.8 126.4h0M158.4 94.3h0M147.5 105.0h0M128.1 122.0h0M152.5 100.9h0M98.3 157.4h0M103.8 151.6h0M117.0 134.6h0M119.0 133.4h0M83.3 179.6h0M111.5 145.6h0M120.8 134.0h0M128.0 124.3h0M117.5 138.6h0M158.7 94.8h0M67.5 197.4h0M111.4 141.8h0M108.5 144.6h0M141.7 108.7h0M93.4 165.9h0M148.8 103.3h0M98.6 156.9h0M114.7 141.6h0M129.2 120.2h0M156.5 93.1h0M118.1 137.9h0"/>
<path stroke="#f17628" d="M190.0 141.7h0M183.4 148.1h0M196.5 132.2h0M173.0 158.0h0M195.6 134.4h0M187.5 143.4h0M188.0 142.6h0M197.5 133.0h0M229.0 96.7h0M221.4 106.4h0M211.7 117.9h0M229.1 95.9h0M188.4 143.4h0M220.0 108.6h0M231.3 92.4h0M227.1 97.9h0M222.7 103.4h0M207.7 120.1h0M201.1 129.1h0"/>
<path stroke="#e95227" d="M231.0 102.2h0M180.6 154.5h0M209.1 127.4h0M200.7 135.8h0M234.6 94.9h0"/>
<path stroke="#d4dd3f" d="M182.6 126.7h0M207.5 98.0h0M197.6 110.4h0M181.6 128.5h0M175.9 136.5h0M186.7 123.4h0M198.8 107.4h0M170.3 145.5h0M204.9 100.3h0M154.5 161.1h0M165.0 150.8h0M195.1 111.0h0M215.0 88.6h0M203.5 105.7h0M210.1 96.1h0M217.8 85.0h0"/>
<path stroke="#3239aa" d="M120.8 110.0h0M64.1 191.7h0M122.9 106.2h0M65.5 185.8h0M118.8 113.7h0M72.7 177.3h0M123.8 105.2h0M65.5 186.7h0M129.4 99.9h0M68.0 184.4h0"/>
<path stroke="#e54926" d="M190.7 146.0h0M235.1 99.9h0M222.9 114.8h0"/>
</g>
<clipPath id="c1"><rect x="45.20" y="22.26" width="222.40" height="36.97"/></clipPath>
<g clip-path="url(#c1)">
<rect x="44.20" y="21.26" width="224.40" height="38.97" fill="#d6f8d6"/>
</g>
<clipPath id="c2"><rect x="45.20" y="183.33" width="222.40" height="15.73"/></clipPath>
<g clip-path="url(#c2)">
<rect x="44.20" y="182.33" width="224.40" height="17.73" fill="#ffe0e5"/>
<g fill="none" stroke-linecap="round" stroke-width="3.60">
<path stroke="#8280c7" d="M75.0 191.1h0M78.8 186.4h0M78.4 186.8h0M73.8 192.5h0M71.7 195.9h0"/>
<path stroke="#8276bc" d="M68.3 184.5h0M64.9 190.6h0M66.4 188.2h0M71.3 182.4h0M63.4 192.1h0M69.0 181.8h0"/>
<path stroke="#858bca" d="M87.5 185.2h0M89.5 182.4h0M76.5 195.6h0M80.5 192.3h0M83.7 188.4h0M83.3 190.3h0M85.9 184.7h0M86.1 187.6h0M85.1 188.8h0M76.0 195.9h0"/>
<path stroke="#929dcb" d="M85.4 192.4h0M87.8 189.4h0M89.3 190.2h0M87.2 190.6h0M91.9 186.9h0M83.6 193.7h0M90.9 186.5h0M86.6 190.6h0M95.0 183.2h0"/>
<path stroke="#8a94cb" d="M91.9 182.9h0M81.9 194.0h0M88.2 184.6h0M90.2 186.7h0M82.1 191.7h0M89.9 184.4h0M87.9 186.3h0M89.8 184.7h0"/>
<path stroke="#98bccb" d="M99.6 187.0h0M104.3 182.9h0M97.9 188.7h0M96.1 189.8h0M97.8 189.1h0M105.4 182.9h0"/>
<path stroke="#837fc2" d="M68.2 195.5h0M72.3 188.5h0M68.0 193.2h0M70.8 190.7h0"/>
<path stroke="#8388c9" d="M77.2 193.1h0M79.0 190.8h0M86.2 182.8h0M78.5 191.2h0M83.6 186.5h0M81.4 188.1h0M80.4 189.9h0M84.2 184.9h0M86.0 182.5h0"/>
<path stroke="#9acca6" d="M109.3 186.5h0M110.6 185.6h0M111.7 184.7h0"/>
<path stroke="#9ca5ca" d="M100.5 181.9h0M94.7 181.7h0M91.2 189.3h0M95.3 183.0h0M93.1 185.8h0M96.0 183.0h0M90.0 189.6h0M92.2 188.9h0"/>
<path stroke="#807bbe" d="M65.3 196.0h0M66.4 193.4h0M68.1 191.6h0M68.7 192.2h0M63.3 197.8h0"/>
<path stroke="#8382c7" d="M79.3 184.6h0M79.7 183.4h0M67.5 197.4h0"/>
<path stroke="#8fc2bc" d="M107.9 185.3h0M102.2 188.9h0M105.9 185.0h0M103.8 188.3h0"/>
<path stroke="#97cbae" d="M113.9 181.9h0M112.5 183.6h0"/>
<path stroke="#90bec4" d="M107.1 183.4h0M102.4 186.2h0M101.6 187.0h0M98.4 190.1h0"/>
<path stroke="#8776be" d="M64.1 191.7h0M65.5 185.8h0M65.5 186.7h0M68.0 184.4h0"/>
<path stroke="#8280c4" d="M69.1 195.8h0M78.5 182.7h0M76.1 186.6h0M68.1 195.7h0M70.0 196.0h0M76.7 185.1h0"/>
<path stroke="#94cab5" d="M110.1 183.0h0M108.2 185.1h0M109.3 184.7h0M107.6 187.2h0"/>
<path stroke="#a9aeca" d="M91.7 190.3h0M95.6 187.0h0M97.8 183.7h0M93.2 187.8h0M95.4 186.7h0M99.4 183.0h0"/>
<path stroke="#9fcea0" d="M115.2 182.8h0"/>
<path stroke="#b0d590" d="M117.8 183.5h0"/>
<path stroke="#b5d68d" d="M119.1 183.2h0"/>
<path stroke="#8078bb" d="M67.3 190.5h0M63.5 196.6h0M63.3 195.3h0M71.1 182.7h0M69.9 187.2h0"/>
<path stroke="#bdd899" d="M122.1 182.4h0"/>
<path stroke="#a7d294" d="M113.4 185.4h0"/>
<path stroke="#8285c8" d="M77.7 189.7h0M85.4 181.9h0M82.3 185.0h0"/>
<path stroke="#a5b8cd" d="M98.8 185.5h0M94.4 190.1h0M102.1 182.7h0M102.2 184.7h0M96.1 186.6h0"/>
<path stroke="#acd492" d="M114.8 184.2h0M117.8 182.4h0"/>
</g>
</g>
<path d="M45.20 22.26H267.60" stroke="#000" stroke-width="1.15"/>
<path d="M45.20 59.24H267.60" stroke="#000" stroke-width="1.15"/>
<path d="M45.20 183.33H267.60" stroke="#000" stroke-width="1.15"/>
<path d="M45.20 199.07H267.60" stroke="#000" stroke-width="1.15"/>
<path d="M45.20 40.75H267.60" stroke="#000" stroke-width="1.15" stroke-dasharray="5.6 2.3"/>
<path d="M45.20 191.20H267.60" stroke="#000" stroke-width="1.15" stroke-dasharray="5.6 2.3"/>
<rect x="45.20" y="8.30" width="222.40" height="206.50" fill="none" stroke="#1a1a1a" stroke-width="0.7"/>
<path d="M45.20 214.80v3.00" stroke="#000" stroke-width="0.8"/>
<text x="44.85" y="226.70" font-size="8.2" text-anchor="middle" letter-spacing="0.12">0.00</text>
<path d="M82.27 214.80v3.00" stroke="#000" stroke-width="0.8"/>
<text x="81.92" y="226.70" font-size="8.2" text-anchor="middle" letter-spacing="0.12">0.05</text>
<path d="M119.33 214.80v3.00" stroke="#000" stroke-width="0.8"/>
<text x="118.98" y="226.70" font-size="8.2" text-anchor="middle" letter-spacing="0.12">0.10</text>
<path d="M156.40 214.80v3.00" stroke="#000" stroke-width="0.8"/>
<text x="156.05" y="226.70" font-size="8.2" text-anchor="middle" letter-spacing="0.12">0.15</text>
<path d="M193.47 214.80v3.00" stroke="#000" stroke-width="0.8"/>
<text x="193.12" y="226.70" font-size="8.2" text-anchor="middle" letter-spacing="0.12">0.20</text>
<path d="M230.53 214.80v3.00" stroke="#000" stroke-width="0.8"/>
<text x="230.18" y="226.70" font-size="8.2" text-anchor="middle" letter-spacing="0.12">0.25</text>
<path d="M267.60 214.80v3.00" stroke="#000" stroke-width="0.8"/>
<text x="267.25" y="226.70" font-size="8.2" text-anchor="middle" letter-spacing="0.12">0.30</text>
<path d="M45.20 185.30h-3.00" stroke="#000" stroke-width="0.8"/>
<text x="40.00" y="188.10" font-size="8.2" text-anchor="end" letter-spacing="0.12">80.36</text>
<path d="M45.20 145.97h-3.00" stroke="#000" stroke-width="0.8"/>
<text x="40.00" y="148.77" font-size="8.2" text-anchor="end" letter-spacing="0.12">80.38</text>
<path d="M45.20 106.63h-3.00" stroke="#000" stroke-width="0.8"/>
<text x="40.00" y="109.43" font-size="8.2" text-anchor="end" letter-spacing="0.12">80.40</text>
<path d="M45.20 67.30h-3.00" stroke="#000" stroke-width="0.8"/>
<text x="40.00" y="70.10" font-size="8.2" text-anchor="end" letter-spacing="0.12">80.42</text>
<path d="M45.20 27.97h-3.00" stroke="#000" stroke-width="0.8"/>
<text x="40.00" y="30.77" font-size="8.2" text-anchor="end" letter-spacing="0.12">80.44</text>
<text x="156.40" y="236.90" font-size="8" text-anchor="middle" font-style="italic">T</text>
<text x="12.20" y="112.40" font-size="8" text-anchor="middle" font-style="italic" letter-spacing="0.3" transform="rotate(-90 12.20 112.40)">M<tspan font-size="5.4" dy="1.6">W</tspan><tspan dy="-1.6">[GeV]</tspan></text>
<text x="194.00" y="18.20" font-size="8.1" text-anchor="start" font-style="italic" letter-spacing="0.3">CDF &#177; &#963;</text>
<text x="194.00" y="177.90" font-size="8.1" text-anchor="start" font-style="italic" letter-spacing="0.3">SM &#177; &#963;</text>
<linearGradient id="cb0" x1="0" y1="0" x2="0" y2="1"><stop offset="0.0000" stop-color="#7d1914"/><stop offset="0.0104" stop-color="#8a1b16"/><stop offset="0.0208" stop-color="#981d18"/><stop offset="0.0312" stop-color="#a5201b"/><stop offset="0.0417" stop-color="#b3221d"/><stop offset="0.0521" stop-color="#c0241f"/><stop offset="0.0625" stop-color="#cd2621"/><stop offset="0.0729" stop-color="#d82a23"/><stop offset="0.0833" stop-color="#da2f24"/><stop offset="0.0938" stop-color="#dc3524"/><stop offset="0.1042" stop-color="#df3a25"/><stop offset="0.1146" stop-color="#e13f25"/><stop offset="0.1250" stop-color="#e34526"/><stop offset="0.1354" stop-color="#e54a26"/><stop offset="0.1458" stop-color="#e85027"/><stop offset="0.1562" stop-color="#ea5528"/><stop offset="0.1667" stop-color="#ec5b28"/><stop offset="0.1771" stop-color="#ee6428"/><stop offset="0.1875" stop-color="#ef6c28"/><stop offset="0.1979" stop-color="#f07428"/><stop offset="0.2083" stop-color="#f27d28"/><stop offset="0.2188" stop-color="#f38528"/><stop offset="0.2292" stop-color="#f58d28"/><stop offset="0.2396" stop-color="#f69628"/><stop offset="0.2500" stop-color="#f7a128"/><stop offset="0.2604" stop-color="#f7ad28"/><stop offset="0.2708" stop-color="#f8b928"/><stop offset="0.2812" stop-color="#f9c528"/><stop offset="0.2917" stop-color="#f9d128"/><stop offset="0.3021" stop-color="#f8da29"/><stop offset="0.3125" stop-color="#f0db2e"/><stop offset="0.3229" stop-color="#e8db33"/><stop offset="0.3333" stop-color="#e0dc37"/><stop offset="0.3438" stop-color="#d8dd3c"/><stop offset="0.3542" stop-color="#d0dd41"/><stop offset="0.3646" stop-color="#c8de46"/><stop offset="0.3750" stop-color="#c2dd4a"/><stop offset="0.3854" stop-color="#bbdc4e"/><stop offset="0.3958" stop-color="#b4dc52"/><stop offset="0.4062" stop-color="#aedb57"/><stop offset="0.4167" stop-color="#a7da5b"/><stop offset="0.4271" stop-color="#a0d95f"/><stop offset="0.4375" stop-color="#9ad863"/><stop offset="0.4479" stop-color="#96d867"/><stop offset="0.4583" stop-color="#93d86c"/><stop offset="0.4688" stop-color="#90d770"/><stop offset="0.4792" stop-color="#8ed775"/><stop offset="0.4896" stop-color="#8bd779"/><stop offset="0.5000" stop-color="#88d77d"/><stop offset="0.5104" stop-color="#85d682"/><stop offset="0.5208" stop-color="#82d686"/><stop offset="0.5312" stop-color="#80d68b"/><stop offset="0.5417" stop-color="#7ed691"/><stop offset="0.5521" stop-color="#7dd597"/><stop offset="0.5625" stop-color="#7bd59e"/><stop offset="0.5729" stop-color="#7ad5a4"/><stop offset="0.5833" stop-color="#78d4aa"/><stop offset="0.5938" stop-color="#77d4b0"/><stop offset="0.6042" stop-color="#75d2b6"/><stop offset="0.6146" stop-color="#72cebc"/><stop offset="0.6250" stop-color="#6fcac2"/><stop offset="0.6354" stop-color="#6cc6c8"/><stop offset="0.6458" stop-color="#69c2ce"/><stop offset="0.6562" stop-color="#66bed4"/><stop offset="0.6667" stop-color="#63b9da"/><stop offset="0.6771" stop-color="#5db1da"/><stop offset="0.6875" stop-color="#57a6d6"/><stop offset="0.6979" stop-color="#509bd2"/><stop offset="0.7083" stop-color="#4990cf"/><stop offset="0.7188" stop-color="#4486cc"/><stop offset="0.7292" stop-color="#407dc9"/><stop offset="0.7396" stop-color="#3c73c7"/><stop offset="0.7500" stop-color="#386ac4"/><stop offset="0.7604" stop-color="#3664c2"/><stop offset="0.7708" stop-color="#355ebf"/><stop offset="0.7812" stop-color="#3358bd"/><stop offset="0.7917" stop-color="#3153bb"/><stop offset="0.8021" stop-color="#304eb9"/><stop offset="0.8125" stop-color="#304cb7"/><stop offset="0.8229" stop-color="#3049b6"/><stop offset="0.8333" stop-color="#3047b5"/><stop offset="0.8438" stop-color="#3045b4"/><stop offset="0.8542" stop-color="#3043b2"/><stop offset="0.8646" stop-color="#3041b1"/><stop offset="0.8750" stop-color="#303fb0"/><stop offset="0.8854" stop-color="#303dae"/><stop offset="0.8958" stop-color="#313cad"/><stop offset="0.9062" stop-color="#323aac"/><stop offset="0.9167" stop-color="#3239aa"/><stop offset="0.9271" stop-color="#3337a9"/><stop offset="0.9375" stop-color="#3336a8"/><stop offset="0.9479" stop-color="#3434a6"/><stop offset="0.9583" stop-color="#3532a3"/><stop offset="0.9688" stop-color="#3630a0"/><stop offset="0.9792" stop-color="#372e9d"/><stop offset="0.9896" stop-color="#392c99"/><stop offset="1.0000" stop-color="#3a2a96"/></linearGradient>
<rect x="281.40" y="8.30" width="10.50" height="206.50" fill="url(#cb0)" stroke="#333" stroke-width="0.5"/>
<path d="M291.90 177.23h3.00" stroke="#000" stroke-width="0.8"/>
<text x="297.50" y="180.03" font-size="8.2" text-anchor="start" letter-spacing="0.12">0.05</text>
<path d="M291.90 133.65h3.00" stroke="#000" stroke-width="0.8"/>
<text x="297.50" y="136.45" font-size="8.2" text-anchor="start" letter-spacing="0.12">0.10</text>
<path d="M291.90 90.06h3.00" stroke="#000" stroke-width="0.8"/>
<text x="297.50" y="92.86" font-size="8.2" text-anchor="start" letter-spacing="0.12">0.15</text>
<path d="M291.90 46.48h3.00" stroke="#000" stroke-width="0.8"/>
<text x="297.50" y="49.28" font-size="8.2" text-anchor="start" letter-spacing="0.12">0.20</text>
<text x="321.10" y="112.05" font-size="8" text-anchor="middle" font-style="italic" transform="rotate(-90 321.10 112.05)">S</text>
<text x="164.50" y="269.20" font-size="21.5" text-anchor="middle" class='cap' letter-spacing='0.4' font-family='Liberation Serif, serif'>(a)</text>
<rect x="45.20" y="309.10" width="222.40" height="206.80" fill="#fff"/>
<g fill="none" stroke-linecap="round" stroke-width="3.60">
<path stroke="#e54926" d="M232.0 349.5h0M204.6 382.5h0M201.4 382.4h0M241.6 336.5h0M216.9 368.1h0M233.3 347.4h0M224.6 358.5h0M217.9 365.0h0M229.9 352.4h0M202.7 382.9h0M206.9 377.3h0M244.5 338.0h0M238.7 339.5h0M212.0 369.5h0M243.3 337.6h0M208.5 377.0h0M200.1 383.9h0M227.1 357.3h0M210.9 369.8h0M202.4 384.7h0M207.9 375.5h0M203.3 382.3h0M237.3 341.3h0M241.6 338.4h0M202.6 384.5h0M236.8 346.9h0M204.0 380.3h0M222.1 361.4h0"/>
<path stroke="#a7da5b" d="M165.5 365.7h0M168.8 363.6h0M191.7 334.2h0M185.5 341.4h0M141.8 399.5h0M178.8 350.8h0M143.1 398.6h0M194.1 330.3h0M180.0 349.9h0M177.7 353.9h0M162.6 372.3h0M187.3 340.1h0M162.5 371.7h0M160.6 375.6h0M188.2 339.6h0M146.5 393.9h0M171.7 359.2h0M151.0 389.8h0M195.7 328.1h0M163.8 370.7h0M156.5 380.0h0M150.3 388.0h0"/>
<path stroke="#da2f24" d="M237.4 360.5h0M239.5 352.2h0M232.7 357.8h0M226.1 366.5h0M234.0 357.4h0M244.5 348.8h0M222.6 370.0h0M224.4 369.8h0M211.7 383.2h0M226.4 366.3h0M213.6 380.6h0M224.5 368.3h0M233.4 357.2h0M216.5 379.3h0M214.8 380.9h0M240.7 350.0h0M231.5 363.3h0M229.5 365.4h0M228.3 363.5h0"/>
<path stroke="#3044b3" d="M88.2 394.7h0M97.8 381.2h0M86.1 402.7h0M110.3 359.6h0M108.4 366.3h0M97.0 384.3h0M125.8 340.7h0M96.8 385.4h0M105.6 367.7h0M82.7 404.6h0M103.1 373.5h0M113.8 354.9h0M96.8 377.1h0M112.3 361.1h0M123.3 343.1h0M94.0 384.9h0M107.0 369.0h0M88.1 399.0h0M108.2 362.6h0M100.2 375.8h0M92.9 386.7h0M115.7 355.5h0M104.0 370.5h0M117.0 352.3h0M93.2 388.8h0M106.3 370.3h0M104.7 368.9h0M104.4 373.4h0M101.2 375.8h0M121.6 344.7h0M112.9 358.5h0"/>
<path stroke="#7dd596" d="M134.8 388.8h0M139.5 381.1h0M153.8 361.7h0M150.9 366.2h0M127.4 398.9h0M142.7 377.5h0M161.9 350.6h0M155.4 358.7h0M147.1 370.8h0M139.1 381.2h0M177.8 328.8h0M154.7 360.6h0M164.5 348.3h0M168.8 340.4h0M125.3 403.2h0M164.1 346.6h0M125.9 401.1h0M156.2 359.2h0M148.9 367.0h0M135.1 387.9h0M157.3 357.6h0M129.8 395.7h0M159.4 353.8h0M150.3 364.5h0M137.4 383.4h0M156.7 355.9h0M165.9 343.0h0M134.2 388.5h0M149.7 368.9h0M146.2 372.4h0M178.1 328.4h0"/>
<path stroke="#3357bd" d="M140.2 336.0h0M134.1 348.1h0M134.0 347.2h0M126.9 356.2h0M137.2 344.6h0M127.8 356.4h0M108.3 382.5h0M130.2 352.0h0M96.0 402.9h0M119.0 369.3h0M95.5 406.2h0M138.7 338.3h0M101.8 395.8h0M111.8 375.9h0M105.3 390.0h0M125.4 359.4h0M120.6 364.4h0M127.9 354.9h0M131.6 350.9h0M96.7 403.2h0M103.3 394.7h0M102.9 387.4h0M125.1 361.3h0M103.8 389.9h0M102.6 391.9h0M133.5 342.9h0M91.9 407.1h0M109.8 382.6h0M126.8 353.0h0M122.0 363.6h0M119.1 370.2h0M142.4 335.0h0M102.6 394.5h0M108.4 386.1h0M137.8 340.1h0M128.5 354.8h0M123.0 362.8h0M140.0 337.9h0M122.6 360.6h0M138.0 340.0h0M107.9 386.7h0M133.5 346.9h0M112.9 375.7h0M111.2 380.4h0M114.1 375.9h0M97.0 400.9h0M139.1 336.3h0M120.2 364.6h0M111.1 378.5h0M117.8 373.7h0"/>
<path stroke="#f17628" d="M231.5 332.4h0M194.3 377.2h0M229.6 338.0h0M224.7 340.5h0M208.7 358.7h0M188.0 386.2h0M186.1 384.5h0M197.9 373.9h0M195.7 378.9h0M186.7 390.0h0M200.6 368.8h0M196.9 377.8h0M181.2 391.1h0M207.0 359.4h0M198.2 373.9h0M217.1 348.8h0M228.3 339.1h0M189.6 382.5h0M186.6 387.5h0M223.5 343.7h0M207.0 365.5h0M183.8 388.0h0M212.7 355.7h0M190.3 382.1h0M185.7 390.3h0M207.0 360.8h0M187.6 387.9h0"/>
<path stroke="#4e98d2" d="M138.4 357.5h0M105.5 406.8h0M142.9 352.5h0M114.2 392.2h0M137.0 358.3h0M139.9 350.9h0M157.5 330.5h0M104.3 406.8h0M148.9 341.3h0M115.3 389.3h0M127.1 374.3h0M105.0 406.5h0M151.5 337.7h0M141.9 352.0h0M147.3 342.8h0M125.3 374.9h0M128.3 370.3h0M125.5 372.3h0M151.6 339.0h0M120.6 385.0h0M145.0 346.9h0M117.2 386.8h0M108.0 402.3h0M124.6 375.5h0M138.8 352.7h0M133.4 361.9h0M135.0 363.0h0M144.3 349.7h0M129.8 368.0h0M122.5 378.3h0M133.0 364.8h0M152.9 337.8h0M155.8 331.7h0M135.1 360.4h0M153.7 334.0h0M118.2 386.5h0M137.9 355.3h0M153.2 335.7h0M109.3 398.6h0M129.4 367.4h0M145.1 345.1h0M125.5 378.2h0M108.2 400.3h0M139.2 353.6h0M122.8 379.0h0M132.0 364.9h0M136.1 360.8h0M142.5 346.3h0M115.7 390.0h0M129.0 370.0h0M105.4 405.6h0M142.6 349.7h0"/>
<path stroke="#3f79c8" d="M116.5 379.4h0M138.6 348.0h0M140.1 348.0h0M147.9 337.4h0M127.9 366.9h0M130.9 359.1h0M123.4 370.6h0M106.8 395.7h0M104.0 401.8h0M110.5 388.8h0M125.2 368.1h0M106.9 394.4h0M102.3 405.0h0M101.4 406.2h0M135.1 355.5h0M118.7 379.3h0M140.7 343.8h0M117.4 380.6h0M101.9 402.2h0M111.6 390.3h0M106.6 397.0h0M131.4 360.8h0M100.6 404.4h0M145.1 339.4h0M151.1 332.3h0M149.7 333.3h0M118.1 380.7h0M131.9 358.3h0M119.6 377.6h0M141.3 345.1h0M107.3 393.7h0M130.6 361.3h0M140.1 346.5h0M112.0 386.2h0M102.9 403.0h0M128.8 364.8h0M121.2 374.7h0M127.6 364.7h0M114.6 385.6h0"/>
<path stroke="#76d4b4" d="M129.9 388.0h0M133.1 379.4h0M146.2 361.0h0M142.7 368.7h0M150.4 354.2h0M171.7 329.4h0M141.9 369.3h0M166.4 334.0h0M129.8 385.6h0M162.1 341.3h0M148.1 361.1h0M147.4 361.4h0M135.7 378.9h0M137.1 375.6h0M153.1 353.8h0M167.8 334.7h0M159.4 344.9h0M136.3 377.5h0M157.2 343.9h0M149.4 359.3h0M133.0 381.3h0M127.2 390.2h0M145.2 364.6h0M150.1 354.8h0M170.6 329.0h0M157.6 346.9h0M169.9 330.3h0M134.2 379.5h0M126.3 395.0h0M151.5 353.7h0M160.5 342.0h0M159.2 343.3h0M145.0 364.0h0M130.0 387.5h0M172.5 328.7h0M119.5 401.1h0M155.7 350.5h0M149.8 357.0h0M142.1 368.7h0M153.2 350.5h0M139.8 373.3h0M141.0 370.8h0"/>
<path stroke="#3561c0" d="M115.6 376.7h0M126.8 358.1h0M96.3 402.8h0M97.6 404.8h0M133.6 352.1h0M142.0 339.2h0M102.2 399.1h0M144.0 335.9h0M99.8 398.5h0M111.6 382.7h0M117.3 371.7h0M114.4 381.3h0M122.7 366.2h0M105.4 391.6h0M102.9 397.9h0M135.1 347.9h0M117.2 372.9h0M127.9 357.8h0M95.9 405.8h0M120.3 372.1h0M110.3 382.2h0M95.2 406.2h0M113.2 381.1h0M110.2 384.6h0M97.8 403.7h0M135.6 349.5h0M143.4 334.0h0M138.3 341.5h0M131.5 355.3h0M134.9 346.8h0M144.7 332.4h0M114.9 374.7h0M119.6 367.9h0M132.1 350.6h0M113.9 377.9h0M129.8 351.7h0M139.6 339.1h0M101.3 399.0h0M121.6 365.5h0M100.6 401.0h0M125.2 363.5h0M118.8 372.8h0M105.3 393.2h0"/>
<path stroke="#3047b5" d="M93.5 393.7h0M125.9 348.8h0M125.4 341.1h0M117.7 357.5h0M112.2 363.8h0M95.8 389.1h0M95.0 389.4h0M125.0 344.8h0M100.9 381.1h0M97.6 386.3h0M96.7 387.7h0M95.9 390.7h0M86.0 406.2h0M100.5 382.4h0M110.1 370.7h0M92.1 391.8h0M91.9 393.7h0M106.0 374.5h0M128.0 339.9h0M118.7 353.5h0M130.8 337.0h0M116.8 354.4h0M109.1 368.4h0M90.8 395.7h0M85.1 403.3h0M131.8 336.0h0M128.2 339.5h0M128.6 337.9h0M102.8 377.0h0M100.1 381.0h0M99.3 384.4h0M116.7 353.8h0M102.6 381.0h0M123.5 345.1h0M102.5 384.3h0M103.5 379.0h0M92.3 395.2h0"/>
<path stroke="#91d76f" d="M152.0 377.7h0M167.7 357.0h0M187.0 330.8h0M157.3 369.4h0M166.9 358.7h0M168.6 355.8h0M145.3 387.0h0M164.0 360.7h0M189.9 329.4h0M139.5 395.5h0M179.9 340.0h0M171.6 350.6h0M151.2 379.2h0M186.5 331.7h0M179.7 341.0h0M134.7 402.1h0M184.9 334.2h0M150.3 381.0h0M144.6 386.7h0M146.0 386.3h0M170.2 352.0h0M167.7 355.7h0M160.4 366.6h0M151.1 379.1h0"/>
<path stroke="#f38328" d="M219.1 341.6h0M182.8 384.6h0M187.9 380.2h0M226.3 337.4h0M196.8 370.8h0M204.5 358.3h0M180.5 389.4h0M217.7 345.5h0M182.9 391.6h0M215.5 351.0h0M190.4 377.4h0M204.3 363.9h0M222.6 342.8h0M201.3 362.9h0M187.2 382.5h0M179.1 391.8h0M225.3 337.6h0M202.7 366.7h0M201.6 365.8h0M208.0 357.0h0M228.5 334.2h0"/>
<path stroke="#b2db54" d="M149.1 393.6h0M175.7 358.4h0M153.0 388.7h0M165.5 371.9h0M194.2 336.2h0M144.1 397.3h0M161.7 379.0h0M145.0 399.1h0M154.0 386.6h0M167.8 366.6h0M170.1 364.9h0M196.2 329.8h0M169.5 365.3h0M185.9 344.3h0M182.8 347.6h0M199.6 326.6h0M194.1 334.9h0M175.9 354.4h0M195.6 333.9h0M168.8 366.5h0M198.6 329.0h0M192.3 337.6h0M146.8 397.8h0M202.4 324.6h0M153.0 386.2h0M182.5 349.8h0M182.3 348.6h0M178.3 355.3h0"/>
<path stroke="#3336a8" d="M100.9 353.3h0M92.6 368.2h0M72.5 398.8h0M103.5 351.9h0M90.3 368.2h0M83.5 377.3h0M83.5 383.4h0M96.3 359.3h0M96.3 360.4h0M87.3 372.2h0M100.2 355.6h0M99.0 358.8h0M83.3 381.7h0M77.6 391.3h0M76.7 390.2h0M78.8 387.8h0M86.3 376.4h0M74.4 393.9h0M89.1 369.0h0M100.6 358.0h0"/>
<path stroke="#88d77d" d="M142.8 385.2h0M185.6 327.0h0M144.0 383.5h0M143.9 383.9h0M131.2 402.2h0M132.2 400.5h0M152.9 369.8h0M139.3 388.0h0M186.9 327.2h0M162.7 357.2h0M165.5 354.5h0M168.2 350.0h0M159.4 362.2h0M176.3 341.6h0M172.0 344.8h0M172.0 344.8h0M132.0 399.2h0M153.6 370.1h0M134.9 396.3h0M138.1 392.9h0M171.1 347.6h0M176.9 337.5h0M163.3 357.3h0M174.2 343.4h0M149.4 376.6h0"/>
<path stroke="#303eaf" d="M107.9 356.5h0M111.4 351.4h0M90.8 380.8h0M88.0 390.0h0M110.9 356.7h0M84.3 390.8h0M111.9 350.9h0M97.4 373.5h0M104.2 360.4h0M113.1 348.6h0M101.2 366.9h0M86.8 387.4h0M82.1 397.3h0M89.3 383.4h0M79.6 403.7h0M103.9 363.1h0M84.8 394.2h0M116.8 342.2h0M114.2 346.3h0M92.5 379.4h0M96.8 373.7h0M91.1 384.5h0M86.1 390.1h0M98.6 370.4h0M109.5 355.7h0M95.1 373.4h0M86.7 390.0h0M82.0 398.6h0M105.1 361.3h0M92.8 379.2h0M105.6 357.3h0"/>
<path stroke="#8cd776" d="M166.9 354.0h0M187.6 327.4h0M190.1 324.8h0M162.7 359.9h0M173.5 344.5h0M147.3 382.6h0M163.8 356.7h0M185.3 330.3h0M170.9 347.4h0M147.7 381.9h0M174.0 344.7h0M161.0 364.9h0M180.4 338.0h0M175.6 344.4h0M179.7 337.4h0M155.7 369.2h0M139.2 393.1h0M139.5 390.5h0M163.2 361.4h0M173.6 346.6h0M176.7 342.4h0M180.8 337.9h0M152.7 374.1h0"/>
<path stroke="#de3825" d="M237.5 352.4h0M243.0 345.8h0M213.8 377.5h0M224.1 364.4h0M210.0 380.6h0M230.7 357.2h0M231.7 359.5h0M225.8 363.7h0M235.5 352.2h0M215.7 372.9h0M238.0 351.3h0M229.2 359.0h0M231.7 355.4h0M209.8 382.6h0M245.3 341.1h0M218.6 369.7h0M239.4 348.2h0M234.3 354.2h0M217.1 373.7h0M228.8 359.5h0M207.5 384.5h0M212.6 377.1h0M217.5 373.0h0M217.1 374.6h0M218.7 371.4h0M211.1 380.6h0M241.5 347.9h0M219.3 371.4h0M223.1 367.4h0M227.3 362.7h0M227.2 359.9h0M239.3 348.2h0M213.9 377.4h0M210.2 383.7h0"/>
<path stroke="#6cc7c7" d="M144.9 358.1h0M131.6 375.9h0M123.8 389.4h0M124.7 388.6h0M134.4 372.0h0M112.5 407.2h0M137.1 368.1h0M163.7 332.2h0M138.5 368.2h0M160.6 336.7h0M119.8 395.0h0M129.0 380.9h0M162.0 334.9h0M160.9 335.8h0M135.9 372.0h0M120.6 394.0h0M166.8 328.5h0M114.9 401.7h0M146.9 357.3h0M161.4 338.1h0M139.5 365.9h0M118.1 398.6h0M155.0 345.4h0M127.9 383.6h0M129.6 380.9h0M116.6 399.0h0M125.2 387.0h0M157.7 341.2h0M141.5 366.6h0M153.4 346.5h0M133.9 376.2h0M116.2 400.1h0M118.8 396.0h0M122.8 392.8h0M128.0 383.6h0M143.3 359.5h0M130.6 380.6h0M133.5 375.5h0M150.4 352.3h0M138.8 367.9h0M116.3 401.3h0M127.4 384.4h0M146.3 357.4h0M142.7 362.7h0M113.1 406.8h0M141.9 364.3h0M132.8 377.8h0"/>
<path stroke="#71cdbe" d="M121.6 397.2h0M156.4 343.1h0M129.9 382.7h0M123.5 392.0h0M126.6 388.7h0M139.4 369.5h0M127.3 387.3h0M163.7 335.7h0M139.9 370.5h0M122.8 392.6h0M120.5 398.6h0M154.9 347.3h0M132.7 378.7h0M148.9 358.2h0M149.2 355.7h0M122.7 397.2h0M124.4 390.5h0M168.9 330.4h0M115.8 406.2h0M167.1 331.3h0M163.2 336.5h0M158.0 345.7h0M161.2 339.5h0M130.4 382.6h0M117.3 403.6h0M153.4 349.5h0M115.3 404.8h0M158.7 341.5h0M157.3 345.5h0M131.7 381.2h0M142.9 366.1h0M145.8 360.9h0M137.8 371.7h0M168.6 332.5h0M135.0 375.2h0M165.3 334.0h0M116.0 403.6h0M121.0 395.6h0M154.9 349.4h0M166.3 335.6h0M137.5 373.5h0M119.5 400.5h0M121.8 394.9h0M165.6 330.7h0M150.1 354.3h0M152.3 350.2h0"/>
<path stroke="#e0dc37" d="M201.2 337.3h0M206.2 332.5h0M202.9 336.4h0M167.1 379.4h0M181.8 363.0h0M157.8 395.2h0M173.0 371.6h0M176.0 369.9h0M204.9 334.0h0M161.8 388.3h0M168.4 378.3h0M194.1 348.7h0M153.6 397.9h0M178.0 370.9h0M163.8 385.7h0M185.0 361.4h0M200.9 339.2h0M196.5 344.3h0M185.6 358.0h0M166.9 382.7h0M205.3 335.8h0M194.8 346.6h0M171.5 381.1h0M208.9 330.3h0M190.2 351.6h0"/>
<path stroke="#f9c728" d="M169.9 390.4h0M173.3 383.4h0M183.4 373.8h0M168.7 387.9h0M175.8 382.4h0M214.1 333.7h0M198.7 353.9h0M179.5 375.6h0M187.4 368.8h0M185.5 370.6h0M207.0 342.5h0M218.1 330.4h0M190.6 359.3h0M194.6 359.1h0M188.7 364.5h0M219.6 328.8h0M193.0 359.2h0M215.7 331.2h0M177.3 380.9h0M179.8 378.8h0M193.7 358.6h0M160.4 398.2h0M159.6 399.8h0M168.1 394.4h0"/>
<path stroke="#e14125" d="M233.8 351.5h0M236.6 349.9h0M206.7 380.3h0M220.8 368.3h0M213.2 373.4h0M224.9 359.1h0M237.1 344.5h0M210.4 375.8h0M223.3 364.5h0M213.1 371.0h0M208.4 382.7h0M241.9 342.0h0M239.7 343.0h0M218.0 367.0h0M227.2 358.5h0M240.9 343.4h0M210.6 377.9h0M214.8 375.0h0M232.1 353.2h0M234.3 349.7h0M218.6 366.3h0M220.2 365.8h0M242.3 344.9h0M210.7 373.7h0M243.3 340.9h0M242.6 341.4h0M209.6 378.1h0M220.3 364.5h0M240.3 345.7h0M215.6 371.3h0M209.1 380.6h0M212.3 375.4h0"/>
<path stroke="#eddb30" d="M162.8 390.8h0M205.5 336.9h0M209.8 329.9h0M161.7 393.8h0M173.2 375.2h0M176.3 373.3h0M199.6 343.5h0M157.6 399.1h0M191.5 353.7h0M191.1 353.1h0M211.0 331.8h0M167.0 385.2h0M154.4 400.6h0M210.1 330.8h0M164.9 387.8h0M157.3 397.1h0M166.5 384.1h0M173.0 380.1h0M184.0 363.0h0M178.1 370.5h0M206.4 336.2h0M180.0 366.2h0"/>
<path stroke="#68c0d1" d="M125.5 380.6h0M157.9 337.2h0M157.7 338.1h0M130.6 376.9h0M134.8 370.3h0M121.6 390.3h0M122.3 388.6h0M151.0 348.8h0M155.6 340.1h0M124.1 385.9h0M158.1 337.4h0M142.6 357.8h0M151.4 346.7h0M145.8 353.7h0M137.0 366.5h0M159.4 336.1h0M151.9 343.7h0M126.4 382.5h0M109.7 407.6h0M146.2 354.4h0M152.3 347.5h0M111.7 404.8h0M155.7 342.1h0M155.6 341.8h0M115.7 398.8h0M141.9 361.3h0M116.3 396.0h0M136.9 368.2h0M144.4 359.6h0M135.8 369.8h0M113.6 403.1h0M150.4 347.2h0M148.0 351.7h0M125.1 386.6h0M154.3 341.6h0M161.9 330.9h0M140.2 361.7h0M159.7 335.3h0M153.2 344.1h0M147.7 348.3h0M124.3 384.5h0M142.0 359.5h0M131.8 372.7h0M164.0 330.8h0M135.9 366.3h0M167.9 327.2h0M160.4 332.2h0M119.0 393.8h0M123.4 387.1h0M157.3 339.4h0M160.4 334.3h0M129.4 378.9h0M163.4 330.4h0M118.5 396.0h0M164.6 327.6h0M117.7 395.4h0"/>
<path stroke="#78d4aa" d="M118.5 405.9h0M123.2 397.9h0M156.3 353.5h0M166.7 337.4h0M137.0 378.5h0M165.3 339.2h0M151.1 361.0h0M126.6 392.8h0M145.3 367.3h0M145.2 368.6h0M126.7 392.8h0M149.8 361.0h0M165.6 338.3h0M147.3 366.2h0M174.3 328.8h0M120.8 403.0h0M169.8 330.6h0M157.4 350.0h0M141.4 373.3h0M163.9 343.8h0M125.3 395.1h0M144.8 366.0h0M161.5 343.5h0M138.5 377.4h0M153.3 353.6h0M157.6 349.8h0M148.7 364.6h0M130.6 387.6h0M139.8 374.8h0M164.6 341.2h0M153.2 357.5h0M139.2 375.5h0M136.9 378.7h0M131.1 388.2h0M121.9 400.3h0M171.0 333.3h0M122.1 400.5h0M160.7 346.6h0M154.2 355.4h0"/>
<path stroke="#313bac" d="M92.0 378.9h0M111.8 348.3h0M85.8 383.5h0M111.3 347.2h0M84.3 389.8h0M78.5 398.7h0M77.4 400.7h0M77.5 399.2h0M81.0 395.9h0M114.2 345.2h0M100.2 368.5h0M82.3 391.6h0M87.6 382.9h0M102.6 361.1h0M100.8 357.6h0M109.0 348.2h0M101.2 365.5h0M105.8 355.9h0M93.9 376.6h0M101.0 364.0h0M94.9 376.7h0M107.5 350.7h0"/>
<path stroke="#3434a6" d="M76.9 387.6h0M80.1 382.5h0M69.1 392.9h0M81.4 378.6h0M92.5 363.8h0M71.9 395.7h0M87.8 369.9h0M92.7 365.4h0M77.7 382.6h0M72.4 398.9h0M69.8 402.1h0M73.9 393.2h0M84.2 373.5h0M74.3 395.4h0M95.8 360.3h0"/>
<path stroke="#fada28" d="M175.8 374.6h0M185.4 362.9h0M177.0 376.8h0M208.8 334.4h0M183.9 367.5h0M190.2 361.0h0M168.4 386.6h0M183.4 370.0h0M199.7 347.3h0M175.2 378.8h0M163.9 390.8h0M210.0 332.0h0M163.7 393.2h0M172.2 382.5h0M183.5 365.7h0M217.4 329.0h0M162.3 393.7h0M212.1 334.3h0"/>
<path stroke="#f7a128" d="M221.4 334.5h0M182.1 381.7h0M178.9 384.6h0M180.3 384.2h0M206.7 349.0h0M189.1 372.9h0M185.6 377.5h0M223.3 328.2h0M193.2 365.1h0M170.9 395.7h0M201.2 355.4h0M210.6 343.3h0M204.2 353.1h0M193.8 367.7h0M175.9 386.0h0M206.8 351.2h0M209.7 347.8h0M213.6 342.8h0M221.0 334.2h0M214.4 341.7h0M191.1 370.1h0M188.1 371.3h0M177.1 385.4h0M190.9 366.8h0M222.0 332.5h0M188.1 372.2h0M179.9 383.1h0M183.8 381.3h0M197.2 364.8h0"/>
<path stroke="#304eb9" d="M107.6 382.9h0M136.8 337.6h0M119.5 365.5h0M137.8 335.6h0M130.0 346.8h0M111.4 371.9h0M121.3 359.2h0M97.0 398.0h0M126.3 351.7h0M122.5 357.2h0M107.1 380.3h0M129.0 346.9h0M97.5 393.4h0M92.5 405.7h0M117.9 366.8h0M114.3 370.4h0M100.5 391.7h0M92.4 402.6h0M128.3 348.6h0M128.8 346.2h0M126.8 351.7h0M101.7 390.6h0M116.4 368.4h0M128.9 348.8h0M109.8 378.0h0M105.2 383.0h0M99.4 389.9h0M131.7 343.2h0M116.9 364.4h0M109.5 376.1h0M122.7 356.2h0M116.1 368.5h0M104.9 383.1h0M135.9 340.3h0M121.1 359.1h0M90.9 405.0h0M130.4 345.1h0M132.4 344.9h0M115.4 371.9h0M108.6 380.2h0M127.9 350.5h0M94.7 397.7h0M121.5 361.7h0M121.2 362.8h0M109.9 375.6h0"/>
<path stroke="#95d868" d="M155.4 375.1h0M188.4 333.2h0M137.0 401.5h0M159.2 368.2h0M184.1 337.8h0M188.8 331.0h0M143.1 390.8h0M158.3 373.7h0M192.5 325.7h0M156.3 373.3h0M193.9 327.9h0M179.9 343.0h0M160.2 371.2h0M151.1 380.6h0M173.9 350.6h0M153.5 377.3h0M189.4 334.1h0M142.1 394.1h0M153.2 378.5h0M173.8 351.0h0M171.4 354.2h0"/>
<path stroke="#63b9da" d="M139.0 363.0h0M147.6 348.2h0M113.6 401.1h0M158.9 330.5h0M151.6 344.7h0M147.3 351.5h0M144.3 353.6h0M155.9 336.1h0M127.5 377.6h0M110.7 404.5h0M113.6 396.9h0M161.6 331.8h0M150.0 342.1h0M129.4 374.7h0M137.8 362.9h0M155.6 339.7h0M123.6 384.0h0M116.5 393.3h0M128.9 378.2h0M120.0 389.2h0M146.5 352.9h0M112.4 399.9h0M136.7 362.9h0M112.9 401.6h0M145.9 348.8h0M162.5 329.6h0M113.6 396.9h0M157.3 335.1h0M142.9 355.3h0M159.6 331.5h0M122.5 385.7h0M126.0 380.9h0M118.8 390.1h0M107.2 406.3h0M137.8 362.4h0M109.6 405.1h0M132.9 370.9h0M139.7 358.9h0"/>
<path stroke="#c7de47" d="M175.4 365.0h0M182.8 356.7h0M158.2 386.0h0M158.3 390.1h0M204.2 328.9h0M206.1 328.7h0M150.9 396.9h0M157.3 390.0h0M196.0 337.0h0M184.8 353.8h0M151.7 394.6h0M187.3 349.3h0M160.8 383.1h0M202.6 331.1h0M189.8 344.3h0M190.1 346.8h0M160.6 386.7h0M202.1 328.4h0M160.6 383.3h0M159.5 384.2h0M200.4 334.8h0M156.3 388.1h0M181.7 353.6h0M147.8 400.0h0M201.7 330.2h0M171.8 366.8h0M204.2 328.6h0M177.4 359.2h0M179.1 357.7h0M194.8 339.5h0"/>
<path stroke="#3041b1" d="M118.5 346.4h0M118.8 341.5h0M98.8 376.7h0M80.5 404.4h0M85.4 397.2h0M116.1 348.6h0M83.1 398.7h0M117.7 350.3h0M108.4 359.5h0M88.9 391.0h0M117.0 349.8h0M124.6 338.9h0M81.9 402.6h0M119.4 344.3h0M112.7 353.5h0M85.5 399.2h0M101.6 374.3h0M95.6 379.5h0M98.1 378.9h0M107.5 363.5h0M89.8 387.8h0M110.8 359.3h0M90.8 387.9h0M88.2 393.4h0M120.6 346.2h0M91.2 383.8h0M102.4 368.6h0M86.3 392.4h0M89.6 390.2h0"/>
<path stroke="#4588cc" d="M149.6 337.2h0M154.8 331.7h0M129.6 364.2h0M143.7 344.2h0M151.4 337.4h0M125.8 370.5h0M155.5 330.0h0M135.6 356.5h0M117.3 384.7h0M111.0 393.6h0M109.1 395.7h0M151.3 332.4h0M138.9 350.7h0M121.8 380.6h0M122.5 375.4h0M121.1 375.9h0M135.9 354.7h0M152.6 332.1h0M139.1 350.2h0M127.8 367.9h0M152.2 333.9h0M144.9 343.2h0M125.8 372.0h0M109.4 393.7h0M143.2 345.6h0M133.7 358.5h0M123.0 372.7h0M105.0 401.4h0M147.2 335.7h0M104.5 403.4h0M126.5 370.2h0M131.0 363.5h0M138.8 350.6h0M119.3 381.0h0M118.8 383.7h0M123.6 376.6h0M151.0 334.2h0M134.0 356.3h0M113.5 390.5h0M112.5 387.8h0M136.7 353.6h0M147.5 343.1h0M127.8 366.8h0M146.5 340.7h0M105.4 400.9h0M111.5 391.9h0M115.2 386.9h0"/>
<path stroke="#7bd5a0" d="M140.6 377.6h0M132.4 387.6h0M135.1 382.6h0M154.0 357.0h0M175.5 329.0h0M143.4 372.2h0M174.1 331.7h0M129.4 395.1h0M121.1 404.2h0M175.8 329.8h0M169.0 335.5h0M151.1 361.2h0M149.4 365.6h0M167.4 338.3h0M120.9 403.8h0M169.9 337.5h0M161.7 346.3h0M167.6 341.6h0M173.6 333.8h0M147.1 368.0h0M151.8 357.9h0M135.6 382.2h0M176.7 326.7h0M160.7 348.5h0M148.4 368.2h0M143.1 372.9h0M172.0 334.4h0M158.9 352.1h0M131.0 391.6h0M153.1 359.0h0"/>
<path stroke="#84d684" d="M150.1 372.6h0M156.6 365.5h0M144.9 380.5h0M153.7 366.2h0M147.9 375.5h0M166.0 349.9h0M137.7 389.7h0M155.6 363.3h0M163.4 353.6h0M140.9 383.7h0M161.0 356.3h0M152.3 370.7h0M163.8 353.7h0M165.4 352.0h0M156.3 362.8h0M133.6 398.9h0M151.5 371.4h0M132.6 397.0h0"/>
<path stroke="#386ac4" d="M128.8 360.8h0M147.5 334.4h0M112.3 384.3h0M109.7 391.6h0M138.0 345.9h0M129.8 360.9h0M138.0 348.6h0M109.5 386.5h0M114.9 379.0h0M122.8 370.4h0M143.6 337.9h0M107.0 392.1h0M144.2 339.4h0M137.8 345.2h0M148.2 333.2h0M107.7 392.0h0M134.5 352.2h0M100.1 401.1h0M145.4 336.3h0M109.2 387.0h0M99.2 405.1h0M104.2 397.1h0M141.8 341.3h0M118.8 376.0h0M115.6 380.6h0M120.4 373.8h0M146.2 334.6h0M113.8 383.4h0M130.4 357.1h0M141.9 339.5h0M106.1 395.7h0M140.7 342.9h0M127.5 360.8h0M143.6 337.7h0M131.5 357.2h0M131.9 351.9h0M102.3 400.6h0M108.4 387.9h0M120.7 371.9h0M109.3 390.0h0M125.5 365.9h0M128.9 361.3h0M135.8 351.8h0M145.7 333.9h0M141.1 340.6h0M133.8 354.5h0"/>
<path stroke="#d4dd3f" d="M163.2 383.8h0M201.2 335.6h0M158.7 387.9h0M181.9 357.5h0M154.9 391.4h0M196.3 342.7h0M185.5 356.0h0M198.8 337.6h0M178.3 361.7h0M196.5 343.2h0M152.1 397.3h0M205.6 327.1h0M205.5 332.1h0M154.2 398.7h0M169.3 374.8h0M177.4 366.7h0M180.1 358.9h0M151.8 400.0h0M169.1 375.7h0M195.1 343.6h0M189.0 352.4h0M153.5 394.8h0M181.0 358.6h0M188.4 351.7h0M150.5 401.0h0M156.1 394.4h0M176.6 365.4h0M175.4 369.0h0M184.4 357.6h0M177.2 365.6h0"/>
<path stroke="#3239aa" d="M72.3 401.4h0M104.9 351.9h0M101.9 357.2h0M79.4 393.8h0M79.3 396.0h0M97.7 362.9h0M72.5 402.8h0M89.6 373.8h0M79.5 391.2h0M84.5 386.6h0M93.2 371.1h0M94.8 369.9h0M96.6 366.7h0M100.2 362.8h0M77.6 397.1h0M103.3 352.1h0M104.4 351.8h0M90.6 377.2h0M87.6 381.2h0M85.8 383.0h0M109.4 346.6h0M75.6 397.1h0M79.1 394.5h0M96.0 368.7h0M108.3 348.4h0M82.6 388.4h0M96.9 365.6h0"/>
<path stroke="#59aad7" d="M135.0 362.7h0M116.7 391.6h0M144.3 351.8h0M136.7 360.7h0M111.1 396.6h0M134.4 366.5h0M127.8 375.2h0M120.5 384.8h0M142.3 353.7h0M125.6 373.3h0M131.9 369.2h0M108.3 404.7h0M151.7 342.8h0M146.3 344.5h0M148.0 344.6h0M139.4 355.6h0M117.8 386.8h0M111.8 398.0h0M121.0 386.9h0M108.0 406.2h0M115.3 392.0h0M156.2 332.6h0M138.8 355.8h0M111.0 402.6h0M145.8 348.3h0M156.1 333.4h0M129.6 373.2h0M110.1 398.4h0M144.3 350.2h0M135.4 361.0h0M122.9 380.9h0M152.3 341.3h0M132.6 368.6h0M118.1 389.8h0M123.1 378.3h0M148.1 345.4h0M113.8 393.9h0M130.8 371.8h0M122.5 382.4h0M110.2 399.9h0M109.3 404.3h0M113.6 395.5h0"/>
<path stroke="#ec5b28" d="M230.1 342.8h0M197.5 382.5h0M225.0 348.8h0M220.4 356.9h0M215.0 362.1h0M234.6 338.0h0M215.6 360.9h0M224.1 348.6h0M228.1 344.9h0M218.3 356.9h0M194.5 384.3h0M204.4 370.9h0"/>
<path stroke="#9cd961" d="M184.8 338.2h0M159.6 371.9h0M172.8 353.9h0M192.2 332.0h0M162.6 367.1h0M164.3 367.8h0M145.7 393.5h0M193.4 329.1h0M183.0 341.6h0M188.7 335.6h0M136.2 403.2h0M180.8 342.9h0M139.0 403.1h0M137.4 400.4h0M192.4 330.9h0M148.4 387.8h0M175.6 350.8h0M146.1 390.0h0M149.4 386.4h0M157.4 375.5h0M147.7 390.3h0M168.8 360.3h0"/>
<path stroke="#304bb7" d="M101.5 386.6h0M96.7 396.9h0M126.9 342.8h0M101.8 378.4h0M133.0 339.8h0M112.3 367.7h0M119.6 355.6h0M104.6 381.2h0M100.3 385.0h0M124.9 348.3h0M120.6 354.2h0M119.2 360.0h0M123.5 350.8h0M96.0 396.2h0M127.9 344.6h0M117.1 362.7h0M90.0 396.5h0M99.1 393.5h0M125.1 349.0h0M133.1 336.0h0M129.5 343.8h0M133.5 339.5h0M105.3 377.6h0M88.7 404.6h0M105.4 382.4h0M97.4 394.7h0M111.6 368.4h0M118.3 357.2h0M94.8 399.0h0M114.0 365.5h0"/>
<path stroke="#d32722" d="M238.6 363.2h0M223.7 374.0h0M230.7 371.4h0M246.4 349.2h0M235.1 361.6h0M233.4 367.3h0M237.7 355.6h0M245.6 350.3h0M235.6 363.4h0M232.7 363.1h0M231.3 367.8h0M246.6 352.0h0M244.7 347.5h0M238.2 358.8h0M244.6 348.8h0M236.5 358.4h0M220.6 375.0h0M216.7 381.2h0M237.1 357.2h0M217.2 378.1h0M227.1 368.6h0M232.4 362.0h0M233.1 366.1h0M228.0 366.6h0M230.1 365.8h0M238.6 359.6h0M216.2 380.0h0M245.5 346.2h0M221.2 378.7h0M242.6 354.3h0M226.1 367.4h0M230.4 362.6h0M224.0 373.5h0"/>
<path stroke="#80d68c" d="M182.1 326.8h0M167.8 345.7h0M138.1 385.7h0M166.4 346.9h0M151.1 369.3h0M127.8 400.2h0M153.5 364.5h0M180.7 327.4h0M169.8 342.9h0M158.2 359.3h0M178.0 331.6h0M145.0 376.4h0M183.1 325.5h0M142.1 380.9h0M174.1 337.8h0M142.7 379.4h0M138.3 387.3h0M163.4 349.8h0M137.9 386.5h0M154.3 365.5h0M159.1 355.7h0M169.8 343.6h0M134.2 391.7h0M168.0 344.5h0M161.4 352.9h0M146.5 373.9h0"/>
<path stroke="#e95227" d="M216.2 362.2h0M228.4 352.4h0M228.1 351.7h0M213.0 365.4h0M231.5 345.0h0M234.6 343.4h0M235.2 342.8h0M240.7 335.9h0M224.1 355.7h0M200.0 385.1h0M200.2 381.9h0M221.2 358.7h0M241.5 334.8h0M213.6 365.7h0M229.2 348.2h0M204.6 376.4h0"/>
<path stroke="#f59128" d="M190.9 375.8h0M186.0 379.2h0M223.9 334.1h0M183.1 382.6h0M197.7 367.6h0M211.6 348.5h0M192.4 370.1h0M176.1 391.9h0M188.3 378.7h0M203.4 358.5h0M228.2 330.6h0M215.8 339.1h0M181.2 387.0h0M210.2 350.1h0M171.1 395.3h0M197.7 364.5h0M200.8 359.7h0M184.9 378.7h0M212.6 345.4h0M204.9 355.7h0"/>
<path stroke="#f8b428" d="M196.2 356.4h0M166.1 395.2h0M192.0 364.3h0M216.8 334.6h0M223.6 330.1h0M178.1 385.6h0M209.2 346.4h0M201.5 351.9h0M218.4 333.6h0M161.7 399.3h0M209.4 343.0h0M215.9 336.8h0M173.8 389.1h0M200.9 351.9h0M168.7 396.2h0M203.8 352.2h0M167.7 392.4h0M176.1 386.1h0M210.5 344.9h0"/>
<path stroke="#bcdd4d" d="M182.5 352.0h0M184.4 347.5h0M147.6 397.3h0M183.9 349.8h0M149.3 395.6h0M182.9 350.8h0M197.5 333.1h0M172.4 365.2h0M147.2 401.0h0M189.4 343.7h0M193.3 340.3h0M145.3 402.0h0M172.3 363.1h0M190.2 341.4h0M175.7 356.9h0M203.1 325.6h0M156.4 385.4h0M195.3 333.7h0"/>
<path stroke="#ee6928" d="M237.5 332.4h0M234.3 334.3h0M210.1 364.8h0M218.5 351.9h0M236.3 333.5h0M235.6 335.4h0M214.5 356.2h0M192.1 381.1h0M222.7 351.8h0M231.2 338.0h0M207.0 367.1h0M216.6 353.7h0M191.1 383.5h0M214.4 359.1h0M206.9 367.9h0"/>
<path stroke="#bd241f" d="M244.5 357.9h0M243.7 355.3h0M227.4 375.0h0M226.9 374.2h0M225.9 370.6h0M242.0 358.0h0M235.6 364.7h0M245.2 356.0h0M225.0 373.3h0M240.6 361.8h0M231.9 366.9h0M223.3 377.3h0M234.1 368.8h0M233.6 369.3h0M244.2 354.7h0M241.7 355.3h0"/>
<path stroke="#382d9b" d="M66.9 392.9h0M70.5 394.5h0M65.6 395.4h0M65.7 396.0h0M66.0 397.1h0M70.7 388.0h0"/>
<path stroke="#3631a1" d="M70.4 395.1h0M74.5 384.7h0M80.9 381.0h0M83.0 376.2h0M67.7 393.8h0M68.2 389.9h0M68.1 399.2h0M85.6 371.5h0M83.1 374.1h0M70.1 393.6h0M74.1 391.0h0M77.3 384.1h0M72.2 395.1h0M66.4 398.9h0M72.4 393.0h0M70.8 391.1h0M82.4 377.1h0M73.8 388.7h0"/>
</g>
<clipPath id="c3"><rect x="45.20" y="339.85" width="222.40" height="33.81"/></clipPath>
<g clip-path="url(#c3)">
<rect x="44.20" y="338.85" width="224.40" height="35.81" fill="#d6f8d6"/>
<g fill="none" stroke-linecap="round" stroke-width="3.60">
<path stroke="#cd8440" d="M232.0 349.5h0M216.9 368.1h0M233.3 347.4h0M224.6 358.5h0M217.9 365.0h0M229.9 352.4h0M238.7 339.5h0M212.0 369.5h0M227.1 357.3h0M210.9 369.8h0M237.3 341.3h0M241.6 338.4h0M236.8 346.9h0M222.1 361.4h0"/>
<path stroke="#97d681" d="M165.5 365.7h0M168.8 363.6h0M185.5 341.4h0M178.8 350.8h0M180.0 349.9h0M177.7 353.9h0M162.6 372.3h0M187.3 340.1h0M162.5 371.7h0M188.2 339.6h0M171.7 359.2h0M163.8 370.7h0"/>
<path stroke="#bb623b" d="M237.4 360.5h0M239.5 352.2h0M232.7 357.8h0M226.1 366.5h0M234.0 357.4h0M244.5 348.8h0M222.6 370.0h0M224.4 369.8h0M226.4 366.3h0M224.5 368.3h0M233.4 357.2h0M240.7 350.0h0M231.5 363.3h0M229.5 365.4h0M228.3 363.5h0"/>
<path stroke="#62aeb9" d="M138.4 357.5h0M142.9 352.5h0M137.0 358.3h0M139.9 350.9h0M148.9 341.3h0M127.1 374.3h0M141.9 352.0h0M147.3 342.8h0M125.3 374.9h0M128.3 370.3h0M125.5 372.3h0M151.6 339.0h0M145.0 346.9h0M138.8 352.7h0M133.4 361.9h0M135.0 363.0h0M144.3 349.7h0M129.8 368.0h0M133.0 364.8h0M135.1 360.4h0M137.9 355.3h0M129.4 367.4h0M145.1 345.1h0M139.2 353.6h0M132.0 364.9h0M136.1 360.8h0M142.5 346.3h0M129.0 370.0h0M142.6 349.7h0"/>
<path stroke="#3c86c7" d="M134.1 348.1h0M134.0 347.2h0M126.9 356.2h0M137.2 344.6h0M127.8 356.4h0M130.2 352.0h0M119.0 369.3h0M138.7 338.3h0M125.4 359.4h0M120.6 364.4h0M127.9 354.9h0M131.6 350.9h0M125.1 361.3h0M133.5 342.9h0M126.8 353.0h0M122.0 363.6h0M119.1 370.2h0M137.8 340.1h0M128.5 354.8h0M123.0 362.8h0M122.6 360.6h0M138.0 340.0h0M133.5 346.9h0M120.2 364.6h0M117.8 373.7h0"/>
<path stroke="#d4ac41" d="M219.1 341.6h0M196.8 370.8h0M204.5 358.3h0M217.7 345.5h0M215.5 351.0h0M204.3 363.9h0M222.6 342.8h0M201.3 362.9h0M202.7 366.7h0M201.6 365.8h0M208.0 357.0h0"/>
<path stroke="#4465b1" d="M100.9 353.3h0M92.6 368.2h0M103.5 351.9h0M90.3 368.2h0M96.3 359.3h0M96.3 360.4h0M87.3 372.2h0M100.2 355.6h0M99.0 358.8h0M89.1 369.0h0M100.6 358.0h0"/>
<path stroke="#4669b0" d="M107.9 356.5h0M111.4 351.4h0M110.9 356.7h0M111.9 350.9h0M97.4 373.5h0M104.2 360.4h0M113.1 348.6h0M101.2 366.9h0M103.9 363.1h0M116.8 342.2h0M114.2 346.3h0M96.8 373.7h0M98.6 370.4h0M109.5 355.7h0M95.1 373.4h0M105.1 361.3h0M105.6 357.3h0"/>
<path stroke="#8ad47c" d="M166.9 354.0h0M162.7 359.9h0M173.5 344.5h0M163.8 356.7h0M170.9 347.4h0M174.0 344.7h0M161.0 364.9h0M175.6 344.4h0M155.7 369.2h0M163.2 361.4h0M173.6 346.6h0M176.7 342.4h0M152.7 374.1h0"/>
<path stroke="#c26f3b" d="M237.5 352.4h0M243.0 345.8h0M224.1 364.4h0M230.7 357.2h0M231.7 359.5h0M225.8 363.7h0M235.5 352.2h0M215.7 372.9h0M238.0 351.3h0M229.2 359.0h0M231.7 355.4h0M245.3 341.1h0M218.6 369.7h0M239.4 348.2h0M234.3 354.2h0M217.1 373.7h0M228.8 359.5h0M217.5 373.0h0M217.1 374.6h0M218.7 371.4h0M241.5 347.9h0M219.3 371.4h0M223.1 367.4h0M227.3 362.7h0M227.2 359.9h0M239.3 348.2h0"/>
<path stroke="#7bc4b1" d="M144.9 358.1h0M134.4 372.0h0M137.1 368.1h0M138.5 368.2h0M135.9 372.0h0M146.9 357.3h0M161.4 338.1h0M139.5 365.9h0M155.0 345.4h0M157.7 341.2h0M141.5 366.6h0M153.4 346.5h0M143.3 359.5h0M150.4 352.3h0M138.8 367.9h0M146.3 357.4h0M142.7 362.7h0M141.9 364.3h0"/>
<path stroke="#398dc8" d="M126.8 358.1h0M133.6 352.1h0M142.0 339.2h0M117.3 371.7h0M122.7 366.2h0M135.1 347.9h0M117.2 372.9h0M127.9 357.8h0M120.3 372.1h0M135.6 349.5h0M138.3 341.5h0M131.5 355.3h0M134.9 346.8h0M114.9 374.7h0M119.6 367.9h0M132.1 350.6h0M129.8 351.7h0M139.6 339.1h0M121.6 365.5h0M125.2 363.5h0M118.8 372.8h0"/>
<path stroke="#ca7a3e" d="M233.8 351.5h0M236.6 349.9h0M220.8 368.3h0M213.2 373.4h0M224.9 359.1h0M237.1 344.5h0M223.3 364.5h0M213.1 371.0h0M241.9 342.0h0M239.7 343.0h0M218.0 367.0h0M227.2 358.5h0M240.9 343.4h0M214.8 375.0h0M232.1 353.2h0M234.3 349.7h0M218.6 366.3h0M220.2 365.8h0M242.3 344.9h0M210.7 373.7h0M243.3 340.9h0M242.6 341.4h0M220.3 364.5h0M240.3 345.7h0M215.6 371.3h0M212.3 375.4h0"/>
<path stroke="#4678bd" d="M125.9 348.8h0M125.4 341.1h0M117.7 357.5h0M112.2 363.8h0M125.0 344.8h0M110.1 370.7h0M106.0 374.5h0M128.0 339.9h0M118.7 353.5h0M116.8 354.4h0M109.1 368.4h0M128.2 339.5h0M116.7 353.8h0M123.5 345.1h0"/>
<path stroke="#d5e949" d="M175.8 374.6h0M185.4 362.9h0M183.9 367.5h0M190.2 361.0h0M183.4 370.0h0M199.7 347.3h0M183.5 365.7h0"/>
<path stroke="#4668b0" d="M111.8 348.3h0M111.3 347.2h0M114.2 345.2h0M100.2 368.5h0M102.6 361.1h0M100.8 357.6h0M109.0 348.2h0M101.2 365.5h0M105.8 355.9h0M101.0 364.0h0M107.5 350.7h0"/>
<path stroke="#8fd67d" d="M155.4 375.1h0M159.2 368.2h0M158.3 373.7h0M156.3 373.3h0M179.9 343.0h0M160.2 371.2h0M173.9 350.6h0M173.8 351.0h0M171.4 354.2h0"/>
<path stroke="#87beb5" d="M139.0 363.0h0M147.6 348.2h0M151.6 344.7h0M147.3 351.5h0M144.3 353.6h0M150.0 342.1h0M129.4 374.7h0M137.8 362.9h0M155.6 339.7h0M146.5 352.9h0M136.7 362.9h0M145.9 348.8h0M142.9 355.3h0M137.8 362.4h0M132.9 370.9h0M139.7 358.9h0"/>
<path stroke="#a4d36e" d="M175.4 365.0h0M182.8 356.7h0M184.8 353.8h0M187.3 349.3h0M189.8 344.3h0M190.1 346.8h0M181.7 353.6h0M171.8 366.8h0M177.4 359.2h0M179.1 357.7h0M194.8 339.5h0"/>
<path stroke="#456cb3" d="M118.5 346.4h0M118.8 341.5h0M116.1 348.6h0M117.7 350.3h0M108.4 359.5h0M117.0 349.8h0M124.6 338.9h0M119.4 344.3h0M112.7 353.5h0M101.6 374.3h0M107.5 363.5h0M110.8 359.3h0M120.6 346.2h0M102.4 368.6h0"/>
<path stroke="#8cd57a" d="M167.7 357.0h0M157.3 369.4h0M166.9 358.7h0M168.6 355.8h0M164.0 360.7h0M179.9 340.0h0M171.6 350.6h0M179.7 341.0h0M170.2 352.0h0M167.7 355.7h0M160.4 366.6h0"/>
<path stroke="#85d382" d="M150.1 372.6h0M156.6 365.5h0M153.7 366.2h0M166.0 349.9h0M155.6 363.3h0M163.4 353.6h0M161.0 356.3h0M152.3 370.7h0M163.8 353.7h0M165.4 352.0h0M156.3 362.8h0M151.5 371.4h0"/>
<path stroke="#3593c8" d="M128.8 360.8h0M138.0 345.9h0M129.8 360.9h0M138.0 348.6h0M122.8 370.4h0M144.2 339.4h0M137.8 345.2h0M134.5 352.2h0M141.8 341.3h0M120.4 373.8h0M130.4 357.1h0M141.9 339.5h0M140.7 342.9h0M127.5 360.8h0M131.5 357.2h0M131.9 351.9h0M120.7 371.9h0M125.5 365.9h0M128.9 361.3h0M135.8 351.8h0M141.1 340.6h0M133.8 354.5h0"/>
<path stroke="#3e7ec4" d="M119.5 365.5h0M130.0 346.8h0M111.4 371.9h0M121.3 359.2h0M126.3 351.7h0M122.5 357.2h0M129.0 346.9h0M117.9 366.8h0M114.3 370.4h0M128.3 348.6h0M128.8 346.2h0M126.8 351.7h0M116.4 368.4h0M128.9 348.8h0M131.7 343.2h0M116.9 364.4h0M122.7 356.2h0M116.1 368.5h0M135.9 340.3h0M121.1 359.1h0M130.4 345.1h0M132.4 344.9h0M115.4 371.9h0M127.9 350.5h0M121.5 361.7h0M121.2 362.8h0"/>
<path stroke="#7ed09d" d="M156.3 353.5h0M165.3 339.2h0M151.1 361.0h0M145.3 367.3h0M145.2 368.6h0M149.8 361.0h0M165.6 338.3h0M147.3 366.2h0M157.4 350.0h0M141.4 373.3h0M163.9 343.8h0M144.8 366.0h0M161.5 343.5h0M153.3 353.6h0M157.6 349.8h0M148.7 364.6h0M139.8 374.8h0M164.6 341.2h0M153.2 357.5h0M160.7 346.6h0M154.2 355.4h0"/>
<path stroke="#4768b1" d="M104.9 351.9h0M101.9 357.2h0M97.7 362.9h0M89.6 373.8h0M93.2 371.1h0M94.8 369.9h0M96.6 366.7h0M100.2 362.8h0M103.3 352.1h0M104.4 351.8h0M109.4 346.6h0M96.0 368.7h0M108.3 348.4h0M96.9 365.6h0"/>
<path stroke="#81b5b4" d="M135.0 362.7h0M144.3 351.8h0M136.7 360.7h0M134.4 366.5h0M127.8 375.2h0M142.3 353.7h0M125.6 373.3h0M131.9 369.2h0M151.7 342.8h0M146.3 344.5h0M148.0 344.6h0M139.4 355.6h0M138.8 355.8h0M145.8 348.3h0M129.6 373.2h0M144.3 350.2h0M135.4 361.0h0M152.3 341.3h0M132.6 368.6h0M148.1 345.4h0M130.8 371.8h0"/>
<path stroke="#82d28f" d="M153.8 361.7h0M150.9 366.2h0M161.9 350.6h0M155.4 358.7h0M147.1 370.8h0M154.7 360.6h0M164.5 348.3h0M168.8 340.4h0M164.1 346.6h0M156.2 359.2h0M148.9 367.0h0M157.3 357.6h0M159.4 353.8h0M150.3 364.5h0M156.7 355.9h0M165.9 343.0h0M149.7 368.9h0M146.2 372.4h0"/>
<path stroke="#d39142" d="M230.1 342.8h0M225.0 348.8h0M220.4 356.9h0M215.0 362.1h0M215.6 360.9h0M224.1 348.6h0M228.1 344.9h0M218.3 356.9h0M204.4 370.9h0"/>
<path stroke="#47a8c1" d="M129.6 364.2h0M143.7 344.2h0M125.8 370.5h0M135.6 356.5h0M138.9 350.7h0M122.5 375.4h0M135.9 354.7h0M139.1 350.2h0M127.8 367.9h0M144.9 343.2h0M125.8 372.0h0M143.2 345.6h0M133.7 358.5h0M123.0 372.7h0M126.5 370.2h0M131.0 363.5h0M138.8 350.6h0M134.0 356.3h0M136.7 353.6h0M147.5 343.1h0M127.8 366.8h0M146.5 340.7h0"/>
<path stroke="#92d680" d="M184.8 338.2h0M159.6 371.9h0M172.8 353.9h0M162.6 367.1h0M164.3 367.8h0M183.0 341.6h0M180.8 342.9h0M175.6 350.8h0M157.4 375.5h0M168.8 360.3h0"/>
<path stroke="#9dd57d" d="M175.7 358.4h0M165.5 371.9h0M167.8 366.6h0M170.1 364.9h0M169.5 365.3h0M185.9 344.3h0M182.8 347.6h0M175.9 354.4h0M168.8 366.5h0M182.5 349.8h0M182.3 348.6h0M178.3 355.3h0"/>
<path stroke="#b45d3a" d="M238.6 363.2h0M223.7 374.0h0M230.7 371.4h0M246.4 349.2h0M235.1 361.6h0M233.4 367.3h0M237.7 355.6h0M245.6 350.3h0M235.6 363.4h0M232.7 363.1h0M231.3 367.8h0M246.6 352.0h0M244.7 347.5h0M238.2 358.8h0M244.6 348.8h0M236.5 358.4h0M220.6 375.0h0M237.1 357.2h0M227.1 368.6h0M232.4 362.0h0M233.1 366.1h0M228.0 366.6h0M230.1 365.8h0M238.6 359.6h0M245.5 346.2h0M242.6 354.3h0M226.1 367.4h0M230.4 362.6h0M224.0 373.5h0"/>
<path stroke="#7dd0a5" d="M146.2 361.0h0M142.7 368.7h0M150.4 354.2h0M141.9 369.3h0M162.1 341.3h0M148.1 361.1h0M147.4 361.4h0M153.1 353.8h0M159.4 344.9h0M157.2 343.9h0M149.4 359.3h0M145.2 364.6h0M150.1 354.8h0M157.6 346.9h0M151.5 353.7h0M160.5 342.0h0M159.2 343.3h0M145.0 364.0h0M155.7 350.5h0M149.8 357.0h0M142.1 368.7h0M153.2 350.5h0M139.8 373.3h0M141.0 370.8h0"/>
<path stroke="#379ec6" d="M138.6 348.0h0M140.1 348.0h0M127.9 366.9h0M130.9 359.1h0M123.4 370.6h0M125.2 368.1h0M135.1 355.5h0M140.7 343.8h0M131.4 360.8h0M145.1 339.4h0M131.9 358.3h0M141.3 345.1h0M130.6 361.3h0M140.1 346.5h0M128.8 364.8h0M121.2 374.7h0M127.6 364.7h0"/>
<path stroke="#d08c41" d="M216.2 362.2h0M228.4 352.4h0M228.1 351.7h0M213.0 365.4h0M231.5 345.0h0M234.6 343.4h0M235.2 342.8h0M224.1 355.7h0M221.2 358.7h0M213.6 365.7h0M229.2 348.2h0"/>
<path stroke="#82c2b5" d="M157.7 338.1h0M134.8 370.3h0M151.0 348.8h0M155.6 340.1h0M142.6 357.8h0M151.4 346.7h0M145.8 353.7h0M137.0 366.5h0M151.9 343.7h0M146.2 354.4h0M152.3 347.5h0M155.7 342.1h0M155.6 341.8h0M141.9 361.3h0M136.9 368.2h0M144.4 359.6h0M135.8 369.8h0M150.4 347.2h0M148.0 351.7h0M154.3 341.6h0M140.2 361.7h0M153.2 344.1h0M147.7 348.3h0M142.0 359.5h0M131.8 372.7h0M135.9 366.3h0M157.3 339.4h0"/>
<path stroke="#79c8ab" d="M156.4 343.1h0M139.4 369.5h0M139.9 370.5h0M154.9 347.3h0M148.9 358.2h0M149.2 355.7h0M158.0 345.7h0M161.2 339.5h0M153.4 349.5h0M158.7 341.5h0M157.3 345.5h0M142.9 366.1h0M145.8 360.9h0M137.8 371.7h0M135.0 375.2h0M154.9 349.4h0M137.5 373.5h0M150.1 354.3h0M152.3 350.2h0"/>
<path stroke="#d4da4c" d="M183.4 373.8h0M198.7 353.9h0M187.4 368.8h0M185.5 370.6h0M207.0 342.5h0M190.6 359.3h0M194.6 359.1h0M188.7 364.5h0M193.0 359.2h0M193.7 358.6h0"/>
<path stroke="#4773b9" d="M110.3 359.6h0M108.4 366.3h0M125.8 340.7h0M105.6 367.7h0M103.1 373.5h0M113.8 354.9h0M112.3 361.1h0M123.3 343.1h0M107.0 369.0h0M108.2 362.6h0M115.7 355.5h0M104.0 370.5h0M117.0 352.3h0M106.3 370.3h0M104.7 368.9h0M104.4 373.4h0M121.6 344.7h0M112.9 358.5h0"/>
<path stroke="#d5ce4b" d="M196.2 356.4h0M192.0 364.3h0M209.2 346.4h0M201.5 351.9h0M209.4 343.0h0M200.9 351.9h0M203.8 352.2h0M210.5 344.9h0"/>
<path stroke="#83d287" d="M167.8 345.7h0M166.4 346.9h0M151.1 369.3h0M153.5 364.5h0M169.8 342.9h0M158.2 359.3h0M163.4 349.8h0M154.3 365.5h0M159.1 355.7h0M169.8 343.6h0M168.0 344.5h0M161.4 352.9h0M146.5 373.9h0"/>
<path stroke="#a0d377" d="M182.5 352.0h0M184.4 347.5h0M183.9 349.8h0M182.9 350.8h0M172.4 365.2h0M189.4 343.7h0M193.3 340.3h0M172.3 363.1h0M190.2 341.4h0M175.7 356.9h0"/>
<path stroke="#acd163" d="M181.9 357.5h0M196.3 342.7h0M185.5 356.0h0M178.3 361.7h0M196.5 343.2h0M169.3 374.8h0M177.4 366.7h0M180.1 358.9h0M195.1 343.6h0M189.0 352.4h0M181.0 358.6h0M188.4 351.7h0M176.6 365.4h0M175.4 369.0h0M184.4 357.6h0M177.2 365.6h0"/>
<path stroke="#d5c145" d="M206.7 349.0h0M189.1 372.9h0M193.2 365.1h0M201.2 355.4h0M210.6 343.3h0M204.2 353.1h0M193.8 367.7h0M206.8 351.2h0M209.7 347.8h0M213.6 342.8h0M214.4 341.7h0M191.1 370.1h0M188.1 371.3h0M190.9 366.8h0M188.1 372.2h0M197.2 364.8h0"/>
<path stroke="#a75c3a" d="M244.5 357.9h0M243.7 355.3h0M227.4 375.0h0M226.9 374.2h0M225.9 370.6h0M242.0 358.0h0M235.6 364.7h0M245.2 356.0h0M225.0 373.3h0M240.6 361.8h0M231.9 366.9h0M234.1 368.8h0M233.6 369.3h0M244.2 354.7h0M241.7 355.3h0"/>
<path stroke="#d4a342" d="M224.7 340.5h0M208.7 358.7h0M197.9 373.9h0M200.6 368.8h0M207.0 359.4h0M198.2 373.9h0M217.1 348.8h0M228.3 339.1h0M223.5 343.7h0M207.0 365.5h0M212.7 355.7h0M207.0 360.8h0"/>
<path stroke="#457bc2" d="M126.9 342.8h0M133.0 339.8h0M112.3 367.7h0M119.6 355.6h0M124.9 348.3h0M120.6 354.2h0M119.2 360.0h0M123.5 350.8h0M127.9 344.6h0M117.1 362.7h0M125.1 349.0h0M129.5 343.8h0M133.5 339.5h0M111.6 368.4h0M118.3 357.2h0M114.0 365.5h0"/>
<path stroke="#88d47f" d="M152.9 369.8h0M162.7 357.2h0M165.5 354.5h0M168.2 350.0h0M159.4 362.2h0M176.3 341.6h0M172.0 344.8h0M172.0 344.8h0M153.6 370.1h0M171.1 347.6h0M163.3 357.3h0M174.2 343.4h0"/>
<path stroke="#7fd195" d="M154.0 357.0h0M143.4 372.2h0M151.1 361.2h0M149.4 365.6h0M167.4 338.3h0M161.7 346.3h0M167.6 341.6h0M147.1 368.0h0M151.8 357.9h0M160.7 348.5h0M148.4 368.2h0M143.1 372.9h0M158.9 352.1h0M153.1 359.0h0"/>
<path stroke="#bbd659" d="M181.8 363.0h0M173.0 371.6h0M176.0 369.9h0M194.1 348.7h0M178.0 370.9h0M185.0 361.4h0M200.9 339.2h0M196.5 344.3h0M185.6 358.0h0M194.8 346.6h0M190.2 351.6h0"/>
<path stroke="#c8df4b" d="M173.2 375.2h0M176.3 373.3h0M199.6 343.5h0M191.5 353.7h0M191.1 353.1h0M184.0 363.0h0M178.1 370.5h0M180.0 366.2h0"/>
<path stroke="#3e61af" d="M92.5 363.8h0M87.8 369.9h0M92.7 365.4h0M84.2 373.5h0M95.8 360.3h0"/>
<path stroke="#d49c42" d="M210.1 364.8h0M218.5 351.9h0M214.5 356.2h0M222.7 351.8h0M207.0 367.1h0M216.6 353.7h0M214.4 359.1h0M206.9 367.9h0"/>
<path stroke="#d6b442" d="M197.7 367.6h0M211.6 348.5h0M192.4 370.1h0M203.4 358.5h0M215.8 339.1h0M210.2 350.1h0M197.7 364.5h0M200.8 359.7h0M212.6 345.4h0M204.9 355.7h0"/>
<path stroke="#405ea9" d="M85.6 371.5h0M83.1 374.1h0"/>
</g>
</g>
<clipPath id="c4"><rect x="45.20" y="487.13" width="222.40" height="14.39"/></clipPath>
<g clip-path="url(#c4)">
<rect x="44.20" y="486.13" width="224.40" height="16.39" fill="#ffe0e5"/>
</g>
<path d="M45.20 339.85H267.60" stroke="#000" stroke-width="1.15"/>
<path d="M45.20 373.66H267.60" stroke="#000" stroke-width="1.15"/>
<path d="M45.20 487.13H267.60" stroke="#000" stroke-width="1.15"/>
<path d="M45.20 501.51H267.60" stroke="#000" stroke-width="1.15"/>
<path d="M45.20 356.75H267.60" stroke="#000" stroke-width="1.15" stroke-dasharray="5.6 2.3"/>
<path d="M45.20 494.32H267.60" stroke="#000" stroke-width="1.15" stroke-dasharray="5.6 2.3"/>
<rect x="45.20" y="309.10" width="222.40" height="206.80" fill="none" stroke="#1a1a1a" stroke-width="0.7"/>
<path d="M45.20 515.90v3.00" stroke="#000" stroke-width="0.8"/>
<text x="44.85" y="527.80" font-size="8.2" text-anchor="middle" letter-spacing="0.12">0.10</text>
<path d="M76.97 515.90v3.00" stroke="#000" stroke-width="0.8"/>
<text x="76.62" y="527.80" font-size="8.2" text-anchor="middle" letter-spacing="0.12">0.15</text>
<path d="M108.74 515.90v3.00" stroke="#000" stroke-width="0.8"/>
<text x="108.39" y="527.80" font-size="8.2" text-anchor="middle" letter-spacing="0.12">0.20</text>
<path d="M140.51 515.90v3.00" stroke="#000" stroke-width="0.8"/>
<text x="140.16" y="527.80" font-size="8.2" text-anchor="middle" letter-spacing="0.12">0.25</text>
<path d="M172.29 515.90v3.00" stroke="#000" stroke-width="0.8"/>
<text x="171.94" y="527.80" font-size="8.2" text-anchor="middle" letter-spacing="0.12">0.30</text>
<path d="M204.06 515.90v3.00" stroke="#000" stroke-width="0.8"/>
<text x="203.71" y="527.80" font-size="8.2" text-anchor="middle" letter-spacing="0.12">0.35</text>
<path d="M235.83 515.90v3.00" stroke="#000" stroke-width="0.8"/>
<text x="235.48" y="527.80" font-size="8.2" text-anchor="middle" letter-spacing="0.12">0.40</text>
<path d="M267.60 515.90v3.00" stroke="#000" stroke-width="0.8"/>
<text x="267.25" y="527.80" font-size="8.2" text-anchor="middle" letter-spacing="0.12">0.45</text>
<path d="M45.20 488.93h-3.00" stroke="#000" stroke-width="0.8"/>
<text x="40.00" y="491.73" font-size="8.2" text-anchor="end" letter-spacing="0.12">80.36</text>
<path d="M45.20 452.96h-3.00" stroke="#000" stroke-width="0.8"/>
<text x="40.00" y="455.76" font-size="8.2" text-anchor="end" letter-spacing="0.12">80.38</text>
<path d="M45.20 417.00h-3.00" stroke="#000" stroke-width="0.8"/>
<text x="40.00" y="419.80" font-size="8.2" text-anchor="end" letter-spacing="0.12">80.40</text>
<path d="M45.20 381.03h-3.00" stroke="#000" stroke-width="0.8"/>
<text x="40.00" y="383.83" font-size="8.2" text-anchor="end" letter-spacing="0.12">80.42</text>
<path d="M45.20 345.07h-3.00" stroke="#000" stroke-width="0.8"/>
<text x="40.00" y="347.87" font-size="8.2" text-anchor="end" letter-spacing="0.12">80.44</text>
<path d="M45.20 309.10h-3.00" stroke="#000" stroke-width="0.8"/>
<text x="40.00" y="311.90" font-size="8.2" text-anchor="end" letter-spacing="0.12">80.46</text>
<text x="156.40" y="537.90" font-size="8" text-anchor="middle" font-style="italic">T</text>
<text x="12.20" y="413.00" font-size="8" text-anchor="middle" font-style="italic" letter-spacing="0.3" transform="rotate(-90 12.20 413.00)">M<tspan font-size="5.4" dy="1.6">W</tspan><tspan dy="-1.6">[GeV]</tspan></text>
<text x="108.70" y="336.20" font-size="8.1" text-anchor="start" font-style="italic" letter-spacing="0.3">CDF &#177; &#963;</text>
<text x="108.70" y="482.20" font-size="8.1" text-anchor="start" font-style="italic" letter-spacing="0.3">SM &#177; &#963;</text>
<linearGradient id="cb2" x1="0" y1="0" x2="0" y2="1"><stop offset="0.0000" stop-color="#7d1914"/><stop offset="0.0104" stop-color="#8a1b16"/><stop offset="0.0208" stop-color="#981d18"/><stop offset="0.0312" stop-color="#a5201b"/><stop offset="0.0417" stop-color="#b3221d"/><stop offset="0.0521" stop-color="#c0241f"/><stop offset="0.0625" stop-color="#cd2621"/><stop offset="0.0729" stop-color="#d82a23"/><stop offset="0.0833" stop-color="#da2f24"/><stop offset="0.0938" stop-color="#dc3524"/><stop offset="0.1042" stop-color="#df3a25"/><stop offset="0.1146" stop-color="#e13f25"/><stop offset="0.1250" stop-color="#e34526"/><stop offset="0.1354" stop-color="#e54a26"/><stop offset="0.1458" stop-color="#e85027"/><stop offset="0.1562" stop-color="#ea5528"/><stop offset="0.1667" stop-color="#ec5b28"/><stop offset="0.1771" stop-color="#ee6428"/><stop offset="0.1875" stop-color="#ef6c28"/><stop offset="0.1979" stop-color="#f07428"/><stop offset="0.2083" stop-color="#f27d28"/><stop offset="0.2188" stop-color="#f38528"/><stop offset="0.2292" stop-color="#f58d28"/><stop offset="0.2396" stop-color="#f69628"/><stop offset="0.2500" stop-color="#f7a128"/><stop offset="0.2604" stop-color="#f7ad28"/><stop offset="0.2708" stop-color="#f8b928"/><stop offset="0.2812" stop-color="#f9c528"/><stop offset="0.2917" stop-color="#f9d128"/><stop offset="0.3021" stop-color="#f8da29"/><stop offset="0.3125" stop-color="#f0db2e"/><stop offset="0.3229" stop-color="#e8db33"/><stop offset="0.3333" stop-color="#e0dc37"/><stop offset="0.3438" stop-color="#d8dd3c"/><stop offset="0.3542" stop-color="#d0dd41"/><stop offset="0.3646" stop-color="#c8de46"/><stop offset="0.3750" stop-color="#c2dd4a"/><stop offset="0.3854" stop-color="#bbdc4e"/><stop offset="0.3958" stop-color="#b4dc52"/><stop offset="0.4062" stop-color="#aedb57"/><stop offset="0.4167" stop-color="#a7da5b"/><stop offset="0.4271" stop-color="#a0d95f"/><stop offset="0.4375" stop-color="#9ad863"/><stop offset="0.4479" stop-color="#96d867"/><stop offset="0.4583" stop-color="#93d86c"/><stop offset="0.4688" stop-color="#90d770"/><stop offset="0.4792" stop-color="#8ed775"/><stop offset="0.4896" stop-color="#8bd779"/><stop offset="0.5000" stop-color="#88d77d"/><stop offset="0.5104" stop-color="#85d682"/><stop offset="0.5208" stop-color="#82d686"/><stop offset="0.5312" stop-color="#80d68b"/><stop offset="0.5417" stop-color="#7ed691"/><stop offset="0.5521" stop-color="#7dd597"/><stop offset="0.5625" stop-color="#7bd59e"/><stop offset="0.5729" stop-color="#7ad5a4"/><stop offset="0.5833" stop-color="#78d4aa"/><stop offset="0.5938" stop-color="#77d4b0"/><stop offset="0.6042" stop-color="#75d2b6"/><stop offset="0.6146" stop-color="#72cebc"/><stop offset="0.6250" stop-color="#6fcac2"/><stop offset="0.6354" stop-color="#6cc6c8"/><stop offset="0.6458" stop-color="#69c2ce"/><stop offset="0.6562" stop-color="#66bed4"/><stop offset="0.6667" stop-color="#63b9da"/><stop offset="0.6771" stop-color="#5db1da"/><stop offset="0.6875" stop-color="#57a6d6"/><stop offset="0.6979" stop-color="#509bd2"/><stop offset="0.7083" stop-color="#4990cf"/><stop offset="0.7188" stop-color="#4486cc"/><stop offset="0.7292" stop-color="#407dc9"/><stop offset="0.7396" stop-color="#3c73c7"/><stop offset="0.7500" stop-color="#386ac4"/><stop offset="0.7604" stop-color="#3664c2"/><stop offset="0.7708" stop-color="#355ebf"/><stop offset="0.7812" stop-color="#3358bd"/><stop offset="0.7917" stop-color="#3153bb"/><stop offset="0.8021" stop-color="#304eb9"/><stop offset="0.8125" stop-color="#304cb7"/><stop offset="0.8229" stop-color="#3049b6"/><stop offset="0.8333" stop-color="#3047b5"/><stop offset="0.8438" stop-color="#3045b4"/><stop offset="0.8542" stop-color="#3043b2"/><stop offset="0.8646" stop-color="#3041b1"/><stop offset="0.8750" stop-color="#303fb0"/><stop offset="0.8854" stop-color="#303dae"/><stop offset="0.8958" stop-color="#313cad"/><stop offset="0.9062" stop-color="#323aac"/><stop offset="0.9167" stop-color="#3239aa"/><stop offset="0.9271" stop-color="#3337a9"/><stop offset="0.9375" stop-color="#3336a8"/><stop offset="0.9479" stop-color="#3434a6"/><stop offset="0.9583" stop-color="#3532a3"/><stop offset="0.9688" stop-color="#3630a0"/><stop offset="0.9792" stop-color="#372e9d"/><stop offset="0.9896" stop-color="#392c99"/><stop offset="1.0000" stop-color="#3a2a96"/></linearGradient>
<rect x="281.40" y="309.10" width="10.50" height="206.80" fill="url(#cb2)" stroke="#333" stroke-width="0.5"/>
<path d="M291.90 508.41h3.00" stroke="#000" stroke-width="0.8"/>
<text x="297.50" y="511.21" font-size="8.2" text-anchor="start" letter-spacing="0.12">0.00</text>
<path d="M291.90 479.37h3.00" stroke="#000" stroke-width="0.8"/>
<text x="297.50" y="482.17" font-size="8.2" text-anchor="start" letter-spacing="0.12">0.05</text>
<path d="M291.90 450.33h3.00" stroke="#000" stroke-width="0.8"/>
<text x="297.50" y="453.13" font-size="8.2" text-anchor="start" letter-spacing="0.12">0.10</text>
<path d="M291.90 421.30h3.00" stroke="#000" stroke-width="0.8"/>
<text x="297.50" y="424.10" font-size="8.2" text-anchor="start" letter-spacing="0.12">0.15</text>
<path d="M291.90 392.26h3.00" stroke="#000" stroke-width="0.8"/>
<text x="297.50" y="395.06" font-size="8.2" text-anchor="start" letter-spacing="0.12">0.20</text>
<path d="M291.90 363.22h3.00" stroke="#000" stroke-width="0.8"/>
<text x="297.50" y="366.02" font-size="8.2" text-anchor="start" letter-spacing="0.12">0.25</text>
<path d="M291.90 334.19h3.00" stroke="#000" stroke-width="0.8"/>
<text x="297.50" y="336.99" font-size="8.2" text-anchor="start" letter-spacing="0.12">0.30</text>
<text x="321.10" y="413.00" font-size="8" text-anchor="middle" font-style="italic" transform="rotate(-90 321.10 413.00)">S</text>
<text x="164.30" y="569.90" font-size="21.5" text-anchor="middle" class='cap' letter-spacing='0.4' font-family='Liberation Serif, serif'>(c)</text>
<rect x="403.50" y="8.30" width="222.80" height="206.50" fill="#fff"/>
<g fill="none" stroke-linecap="round" stroke-width="3.60">
<path stroke="#fbd611" d="M510.1 113.8h0M555.6 115.2h0M543.9 115.4h0M506.6 114.1h0M555.6 116.5h0M539.3 115.8h0M525.4 113.9h0M522.3 114.5h0M520.2 113.3h0"/>
<path stroke="#ed241a" d="M542.6 126.8h0M541.6 126.3h0M536.2 127.3h0M551.9 128.0h0M557.0 128.0h0M530.2 126.4h0M521.0 127.0h0M553.5 127.5h0M516.5 126.7h0M557.4 128.1h0M549.4 128.0h0M538.9 127.1h0M557.6 128.3h0M514.3 126.6h0M549.9 128.1h0M525.6 126.7h0M542.6 127.8h0M552.0 126.5h0M514.8 126.6h0M543.7 128.4h0"/>
<path stroke="#44cbee" d="M508.1 74.2h0M502.9 73.0h0M489.9 74.2h0M501.5 74.4h0M497.0 74.3h0M495.7 74.5h0M487.9 73.9h0M490.9 74.2h0M504.0 74.2h0M495.1 74.3h0M504.6 75.9h0M483.4 73.8h0"/>
<path stroke="#4bca2c" d="M524.1 87.4h0M507.0 87.1h0M514.9 88.2h0M492.9 86.8h0M508.1 86.8h0M518.3 87.2h0M535.2 88.2h0M491.8 86.5h0M498.6 86.1h0M491.7 86.5h0M526.0 87.6h0M532.4 88.5h0"/>
<path stroke="#a84bbf" d="M541.9 134.9h0M522.0 134.1h0M552.7 135.1h0M544.3 134.9h0M542.8 135.3h0M521.1 134.4h0M557.3 135.0h0M524.5 134.1h0"/>
<path stroke="#f7a817" d="M515.6 119.1h0M542.4 120.8h0M514.6 119.6h0M553.2 120.6h0M524.6 119.1h0M521.8 119.5h0M526.4 120.1h0M512.4 119.2h0M523.8 119.9h0M549.9 120.5h0M528.4 119.6h0"/>
<path stroke="#c9e233" d="M526.3 104.9h0M526.2 106.7h0M544.7 106.4h0M512.5 105.7h0M530.6 106.3h0M516.7 104.8h0M506.5 106.1h0M546.6 107.4h0M532.9 106.6h0M541.4 106.7h0M515.9 105.6h0M534.3 105.8h0M528.6 106.9h0M538.1 106.3h0M541.7 106.0h0"/>
<path stroke="#e5bbe2" d="M545.1 146.5h0M541.9 144.4h0M548.8 145.8h0M545.0 145.4h0M546.2 145.8h0M534.6 145.5h0M542.2 145.7h0M545.7 146.3h0M539.9 146.0h0M537.8 147.8h0"/>
<path stroke="#84ce23" d="M499.7 95.6h0M524.4 97.8h0M517.6 98.5h0M539.4 99.6h0M512.7 97.2h0M538.9 98.0h0M536.7 97.8h0M499.2 95.9h0M548.7 99.1h0M498.3 96.4h0M516.1 96.9h0M515.4 98.8h0M515.1 99.2h0M529.2 98.5h0M538.8 97.7h0M531.1 97.9h0M506.2 97.7h0M532.9 97.5h0M534.4 96.6h0M530.4 95.5h0M546.6 98.0h0"/>
<path stroke="#6adba5" d="M524.0 83.7h0M497.4 81.5h0M505.9 81.9h0M513.4 83.0h0M519.4 83.4h0M527.1 84.1h0M510.4 82.6h0M497.1 81.7h0M505.4 82.6h0M493.0 80.8h0M487.7 81.1h0"/>
<path stroke="#9dd735" d="M544.2 101.5h0M523.4 99.8h0M529.4 102.8h0M508.0 100.1h0M510.8 100.9h0M527.3 102.4h0M524.9 100.9h0M530.4 102.4h0M537.9 101.4h0M532.8 100.7h0M534.3 100.9h0M518.4 101.5h0M548.9 101.5h0M527.1 100.5h0M520.1 101.5h0M538.5 101.4h0M509.2 101.9h0M533.0 101.4h0M522.2 100.2h0M512.9 101.1h0M504.8 99.2h0M543.3 101.5h0M504.3 101.3h0M550.0 101.9h0M497.8 99.4h0M542.9 103.1h0M527.4 101.1h0M510.8 100.9h0M497.9 100.8h0M507.4 101.0h0M505.6 100.8h0"/>
<path stroke="#f9ce15" d="M507.6 116.9h0M521.8 115.5h0M531.3 116.0h0M549.2 116.1h0M554.0 117.1h0M519.2 116.1h0M510.2 116.2h0M528.9 116.3h0M538.7 117.4h0M541.4 116.2h0M525.3 115.7h0M514.9 116.0h0M508.3 115.7h0M523.3 115.7h0"/>
<path stroke="#ee0f76" d="M516.2 128.6h0M523.6 129.4h0M554.8 130.2h0M546.6 129.7h0M540.6 129.9h0M533.5 129.8h0M548.6 130.3h0M553.2 130.4h0M521.9 128.5h0M528.0 129.9h0M544.0 131.0h0M552.5 131.1h0M538.9 130.0h0M539.0 129.5h0M519.9 129.1h0M518.4 128.3h0M538.5 129.8h0M521.9 129.3h0M546.8 131.0h0M557.8 129.8h0"/>
<path stroke="#2c50bc" d="M492.7 68.0h0M495.6 66.8h0M488.1 67.8h0M484.6 65.3h0M495.9 66.7h0M486.8 68.6h0M483.6 67.4h0M480.3 68.3h0"/>
<path stroke="#b9de42" d="M524.4 104.6h0M522.4 105.5h0M550.3 105.1h0M535.7 105.3h0M503.8 101.1h0M546.6 104.8h0M514.9 103.6h0M527.6 104.7h0M520.2 104.5h0M501.5 102.5h0M506.0 104.9h0M551.4 106.1h0M547.9 105.4h0M505.8 104.2h0M527.8 105.0h0M508.9 105.3h0M500.0 102.7h0M522.9 104.8h0M545.4 104.5h0"/>
<path stroke="#6cddb4" d="M517.5 82.0h0M515.2 81.4h0M493.3 81.1h0M515.4 82.5h0M520.5 81.5h0M488.6 80.1h0M511.6 81.5h0M495.5 81.1h0M503.4 81.2h0M514.2 81.0h0M486.9 79.9h0M509.6 81.6h0M521.3 81.2h0M513.6 79.9h0M522.3 81.3h0"/>
<path stroke="#57d3e9" d="M506.3 74.6h0M498.0 76.4h0M499.5 76.0h0M512.1 75.4h0M508.7 75.9h0M504.0 74.4h0M486.2 75.8h0"/>
<path stroke="#e9ea15" d="M521.8 107.6h0M535.2 108.3h0M541.2 109.8h0M506.8 108.9h0M532.6 108.1h0M536.2 108.0h0M503.2 108.6h0M512.6 107.5h0M536.1 109.8h0M554.0 110.2h0M510.6 110.2h0M544.2 109.1h0"/>
<path stroke="#66bf28" d="M509.0 90.8h0M539.3 92.4h0M529.6 91.9h0M502.2 91.2h0M493.6 90.1h0M497.4 91.6h0M527.5 91.7h0M536.9 91.9h0M535.2 90.8h0M541.9 92.7h0M511.3 91.1h0"/>
<path stroke="#fbbb13" d="M543.2 119.2h0M535.7 119.2h0M526.9 117.5h0M517.1 117.6h0M519.8 117.7h0M548.3 119.4h0M531.5 117.7h0M557.1 119.8h0M533.0 119.4h0M522.8 119.1h0M554.4 119.5h0M542.0 119.7h0M541.6 118.8h0M522.2 118.7h0M511.4 116.9h0M510.2 118.1h0"/>
<path stroke="#ee2e19" d="M520.3 124.6h0M544.4 126.3h0M549.3 125.2h0M527.3 124.7h0M534.8 126.3h0M538.4 125.8h0M532.6 125.7h0M524.5 126.4h0M524.2 126.2h0M546.6 126.1h0M513.3 124.9h0M553.7 126.2h0M534.7 125.8h0M523.1 125.0h0M529.3 125.4h0M556.0 126.4h0"/>
<path stroke="#fbe00a" d="M541.5 114.0h0M512.1 114.1h0M528.1 113.5h0M516.2 114.1h0M536.7 114.1h0M545.8 115.5h0M528.9 113.8h0M520.3 113.9h0M525.9 114.0h0M539.6 113.7h0M549.6 113.6h0M514.4 113.4h0M534.3 114.2h0M541.9 114.1h0M512.8 113.8h0M552.3 115.3h0M516.1 113.7h0M530.5 114.1h0M524.1 113.7h0M538.7 114.6h0M521.4 112.6h0M548.9 113.9h0M541.6 113.7h0"/>
<path stroke="#d99fd6" d="M538.7 143.0h0M532.5 143.1h0M532.4 143.1h0M540.7 142.6h0M536.9 143.5h0"/>
<path stroke="#5ad16a" d="M494.8 84.1h0M493.6 84.2h0M498.7 84.4h0M512.1 85.5h0M490.7 84.9h0M497.6 84.9h0M524.0 85.8h0M531.2 85.2h0M510.6 85.0h0M498.7 84.2h0M501.4 84.8h0M512.5 84.0h0M501.9 85.5h0"/>
<path stroke="#61d584" d="M505.0 84.0h0M496.6 81.5h0M489.8 83.1h0M507.5 83.5h0M515.5 83.5h0M492.1 83.3h0M503.0 83.4h0M513.8 84.9h0M519.5 83.3h0M526.1 84.8h0M500.9 82.7h0M524.5 83.2h0"/>
<path stroke="#dce620" d="M549.4 108.7h0M516.8 106.8h0M505.2 106.7h0M542.0 108.4h0M530.1 108.6h0M517.5 105.9h0M509.9 107.4h0M508.4 105.7h0M506.9 106.3h0M514.4 105.9h0M548.4 107.4h0M548.5 108.2h0M510.2 108.6h0M528.9 108.7h0M553.3 108.0h0M501.8 106.7h0M531.7 107.3h0M524.0 107.7h0M537.7 107.7h0M520.5 107.0h0"/>
<path stroke="#3471cb" d="M491.7 70.4h0M495.5 68.1h0M486.1 70.4h0M498.8 69.8h0M486.6 69.0h0M503.0 70.5h0M494.8 69.2h0M501.0 71.2h0M490.6 69.1h0M481.5 68.5h0M491.7 68.2h0"/>
<path stroke="#81ca24" d="M507.1 96.0h0M519.3 96.9h0M522.1 95.6h0M495.4 95.6h0M510.1 95.6h0M496.8 93.9h0M524.6 96.4h0M497.8 94.3h0M524.8 95.3h0M519.9 96.2h0M528.4 94.3h0M523.0 97.5h0M517.1 97.2h0M527.3 95.6h0M516.3 95.4h0M503.6 95.1h0M540.1 97.8h0M542.7 96.2h0M540.7 96.5h0M508.6 95.1h0M525.4 94.7h0M544.9 98.3h0M540.6 96.0h0M506.2 95.5h0M509.0 95.5h0M512.3 96.0h0M532.2 95.7h0M530.4 94.8h0"/>
<path stroke="#73c126" d="M535.0 93.3h0M504.8 91.9h0M517.4 91.9h0M523.2 92.5h0M522.8 92.1h0M495.2 91.7h0M495.6 90.4h0M515.5 91.4h0M492.4 90.9h0M521.9 93.3h0M509.4 92.2h0M530.7 93.3h0M526.8 92.9h0M523.9 93.0h0M492.9 92.1h0"/>
<path stroke="#fbed05" d="M538.8 109.6h0M532.5 110.1h0M546.9 110.2h0M542.2 109.9h0M515.7 109.2h0M530.5 110.0h0M532.9 110.6h0M503.6 109.1h0M511.4 109.4h0M523.6 110.3h0M552.7 110.8h0M542.4 110.9h0"/>
<path stroke="#ee3619" d="M541.6 124.9h0M552.8 124.7h0M537.7 125.0h0M520.0 123.8h0M525.2 124.2h0M555.1 126.0h0M535.5 124.8h0M557.1 125.4h0M538.6 124.9h0M555.8 124.6h0M528.4 125.0h0M537.2 124.7h0M512.8 124.3h0M548.2 125.9h0"/>
<path stroke="#93d430" d="M543.8 101.2h0M546.9 100.2h0M508.0 99.3h0M532.5 99.1h0M536.5 99.9h0M516.0 98.9h0M511.3 98.4h0M540.7 100.3h0M533.5 98.8h0M500.3 98.9h0M547.0 100.0h0M534.9 99.8h0M502.4 98.5h0M519.1 98.1h0M520.4 99.1h0M526.5 99.7h0M512.6 98.7h0M506.9 99.1h0M497.0 97.6h0M513.0 101.0h0M502.1 97.9h0"/>
<path stroke="#b272c7" d="M537.4 139.7h0M526.2 138.9h0M546.0 139.4h0M558.5 141.0h0M525.3 138.5h0M552.0 139.3h0M534.5 138.7h0M542.3 140.4h0M547.3 139.7h0M536.8 139.5h0M555.5 139.9h0M533.4 139.3h0M543.7 140.8h0M549.1 139.1h0M550.0 139.8h0"/>
<path stroke="#76e3d7" d="M509.3 77.1h0M493.2 77.6h0M503.0 77.6h0M489.5 77.4h0M492.8 78.0h0M507.2 78.6h0M511.8 78.0h0M513.8 77.9h0M500.9 78.0h0M488.3 78.2h0M489.9 77.7h0M508.5 78.2h0M510.0 78.8h0M500.4 79.0h0M491.3 77.1h0"/>
<path stroke="#8650be" d="M559.2 138.2h0M540.3 137.5h0M528.4 137.1h0M554.4 138.4h0M555.4 136.7h0M545.6 136.2h0M547.6 137.3h0M557.5 137.3h0M542.2 137.0h0M554.5 137.8h0M527.2 136.7h0M544.0 137.5h0M533.8 136.2h0"/>
<path stroke="#9b60c2" d="M528.7 138.9h0M531.1 139.2h0M536.4 138.9h0M537.6 138.3h0M543.7 138.2h0M528.6 138.6h0M547.7 139.5h0M555.4 138.8h0M558.1 138.4h0M526.6 137.2h0"/>
<path stroke="#fceb04" d="M545.7 112.3h0M509.0 110.1h0M518.5 110.4h0M526.4 111.6h0M534.4 112.1h0M520.1 111.9h0M506.2 110.0h0M508.1 110.1h0M529.3 111.9h0M543.9 112.2h0M554.2 112.1h0M537.9 111.2h0M519.8 110.4h0M553.3 111.8h0M550.4 111.6h0M523.1 110.7h0M507.8 109.8h0"/>
<path stroke="#7bc526" d="M506.7 92.5h0M505.7 93.4h0M514.8 94.1h0M510.4 93.6h0M495.1 93.6h0M542.0 94.1h0M518.3 95.8h0M502.0 93.0h0M515.3 94.8h0M541.6 93.7h0M536.0 94.0h0M526.5 94.0h0M534.2 93.4h0M538.2 94.9h0M502.8 92.7h0M533.4 94.1h0M498.7 94.2h0M518.4 93.8h0"/>
<path stroke="#f05418" d="M517.8 123.0h0M523.7 122.3h0M528.7 122.6h0M539.0 122.7h0M515.4 122.1h0M552.3 122.9h0M535.7 123.2h0M545.0 123.1h0M542.6 122.5h0M530.2 122.8h0M555.9 123.1h0M518.6 122.5h0M529.9 122.8h0M527.3 122.8h0M549.0 123.8h0"/>
<path stroke="#c581cb" d="M543.6 140.8h0M544.5 140.6h0M552.1 141.1h0M551.4 141.3h0M547.7 141.0h0M533.3 140.7h0M538.7 140.8h0M547.8 141.2h0M530.4 141.2h0M539.5 141.2h0"/>
<path stroke="#4dcc3f" d="M507.8 86.3h0M492.2 84.8h0M531.4 87.3h0M520.8 86.5h0M505.2 86.3h0M514.3 86.3h0M494.7 85.5h0M528.0 87.0h0M533.3 87.4h0M529.0 86.2h0M516.7 86.4h0M523.2 86.8h0M502.7 87.4h0"/>
<path stroke="#ebcceb" d="M551.6 147.9h0M547.9 148.0h0M545.0 148.1h0M542.0 147.9h0M550.3 146.9h0M547.0 148.3h0M549.1 147.6h0"/>
<path stroke="#72e0c5" d="M498.0 78.7h0M498.6 79.7h0M510.5 80.1h0M503.4 79.6h0M517.3 79.7h0M521.2 80.7h0M494.2 79.1h0M501.9 80.0h0M491.5 79.4h0M500.5 79.6h0M487.3 78.4h0M508.6 79.6h0M507.1 80.5h0M517.4 81.1h0"/>
<path stroke="#b649bf" d="M552.8 134.8h0M539.4 133.5h0M540.1 133.7h0M552.1 133.0h0M531.4 133.7h0M534.1 134.0h0M555.8 134.0h0M552.0 133.8h0M550.8 133.7h0M525.9 133.6h0"/>
<path stroke="#fac515" d="M514.1 117.4h0M556.6 118.6h0M516.9 116.6h0M530.2 117.7h0M543.2 117.7h0M549.9 119.1h0M521.0 117.0h0M532.5 117.3h0M546.7 117.9h0M535.4 116.6h0M539.8 117.9h0M547.7 118.0h0"/>
<path stroke="#fce508" d="M517.8 112.3h0M551.5 113.2h0M520.2 112.1h0M553.8 113.6h0M543.0 112.4h0M507.6 111.8h0M528.1 112.2h0M513.6 111.7h0M537.9 112.9h0M510.6 111.9h0M518.8 112.4h0M550.6 113.6h0M532.7 112.4h0"/>
<path stroke="#252d99" d="M478.3 62.9h0M481.6 59.8h0M477.9 59.2h0M483.0 60.0h0M483.4 61.3h0M483.6 62.1h0M486.5 61.4h0M478.9 61.6h0M478.8 62.5h0M481.3 60.1h0"/>
<path stroke="#56c62b" d="M518.5 88.9h0M529.1 88.0h0M521.4 88.9h0M515.1 88.5h0M519.0 86.8h0M497.4 88.7h0M515.4 88.8h0M502.9 88.9h0M510.5 89.2h0M506.2 88.1h0M499.3 88.3h0M503.7 88.9h0M510.3 88.2h0M494.5 88.0h0"/>
<path stroke="#db2e9f" d="M529.8 130.7h0M542.4 131.7h0M524.9 129.7h0M559.1 131.7h0M532.4 130.5h0M543.7 131.7h0M530.0 131.4h0M524.0 131.1h0M523.4 132.2h0M559.0 130.8h0M535.2 130.3h0M544.1 131.7h0M536.9 131.3h0M526.9 131.2h0M518.9 130.2h0M520.8 130.4h0"/>
<path stroke="#5cc32a" d="M536.6 90.1h0M532.0 90.5h0M522.9 90.1h0M524.6 90.4h0M530.5 90.3h0M539.8 91.2h0M511.7 90.4h0M497.2 89.9h0M517.8 90.8h0M520.2 90.2h0M499.7 89.6h0M514.2 90.6h0M526.7 90.3h0M531.0 90.1h0M501.9 89.4h0M512.2 90.5h0"/>
<path stroke="#2832b1" d="M483.9 65.9h0M483.9 66.6h0M489.5 63.0h0M482.7 64.8h0M488.6 65.1h0M482.2 66.8h0M487.3 64.1h0M491.7 64.8h0M497.0 66.3h0M485.6 64.3h0M491.6 65.1h0M487.4 62.1h0M481.1 63.4h0M486.8 66.8h0M488.9 64.5h0M485.4 63.7h0M489.4 63.7h0M479.8 65.4h0"/>
<path stroke="#944dbf" d="M536.1 135.0h0M533.7 135.2h0M554.4 136.5h0M549.0 136.3h0M538.7 136.4h0M529.5 135.3h0M528.1 135.4h0M548.3 135.8h0M539.1 135.7h0M534.7 135.5h0"/>
<path stroke="#f3711b" d="M510.6 121.2h0M546.0 122.9h0M513.9 121.6h0M554.7 122.7h0M550.9 122.2h0M532.0 122.2h0M514.1 120.9h0M534.7 121.3h0M543.8 122.6h0"/>
<path stroke="#addb3c" d="M533.9 102.7h0M532.0 101.7h0M547.9 103.0h0M541.5 103.0h0M514.3 102.7h0M523.6 103.3h0M540.8 103.0h0M518.2 103.4h0M551.1 104.0h0M536.5 104.0h0M505.5 101.2h0M513.0 102.3h0M510.8 103.4h0M530.6 103.8h0M501.3 103.2h0M509.5 102.9h0M517.3 102.0h0M538.2 104.4h0M539.8 102.8h0M499.2 100.6h0"/>
<path stroke="#e0afdd" d="M535.7 144.4h0M551.9 145.0h0M549.7 144.8h0M554.8 144.1h0M553.2 146.1h0M540.8 146.0h0M538.0 145.2h0"/>
<path stroke="#34a4e4" d="M496.1 70.8h0M495.5 71.1h0M498.8 70.4h0M508.6 72.8h0M482.7 70.5h0M505.2 71.0h0M488.1 71.0h0M489.3 70.6h0M482.1 70.4h0M493.5 70.4h0"/>
<path stroke="#6cdee1" d="M513.3 75.6h0M487.5 76.8h0M489.9 75.6h0M505.3 76.4h0M496.2 76.8h0M515.5 77.6h0M493.1 76.1h0M505.8 77.5h0M486.6 75.9h0M501.1 76.3h0"/>
<path stroke="#31c0f0" d="M485.6 70.9h0M502.8 71.9h0M499.5 72.4h0M500.7 72.4h0M491.8 71.8h0M494.8 73.4h0M487.1 73.5h0M485.6 72.2h0M505.6 73.8h0"/>
<path stroke="#cc46bd" d="M534.8 131.4h0M554.3 132.5h0M527.3 132.4h0M559.2 133.7h0M528.5 132.4h0M521.4 132.3h0M538.5 132.3h0M520.5 131.6h0"/>
<path stroke="#ef4419" d="M557.1 123.6h0M546.9 123.5h0M517.0 122.7h0M512.9 122.9h0M524.6 123.1h0M518.5 123.4h0M540.7 123.9h0"/>
<path stroke="#f5891c" d="M549.5 122.0h0M528.9 119.7h0M538.7 121.1h0M534.7 121.3h0M513.3 120.0h0M517.3 119.7h0M542.8 120.9h0M547.1 121.6h0M520.0 120.6h0M532.8 121.0h0M544.2 121.1h0M522.5 121.2h0M536.6 121.0h0M509.5 119.2h0M537.8 121.3h0M531.8 120.6h0"/>
<path stroke="#d493d1" d="M553.5 143.0h0M531.7 141.0h0M553.3 142.5h0M557.1 142.9h0M558.1 141.5h0M548.9 142.7h0M534.1 141.9h0M555.3 141.4h0M532.2 141.1h0"/>
<path stroke="#ed1443" d="M533.8 128.1h0M531.8 128.7h0M516.4 128.4h0M530.0 128.6h0M527.8 128.0h0M524.3 128.5h0M547.0 128.1h0M541.1 128.0h0"/>
<path stroke="#f0d9ef" d="M543.1 148.6h0"/>
<path stroke="#1f3787" d="M478.1 58.1h0"/>
</g>
<clipPath id="c5"><rect x="403.50" y="23.71" width="73.38" height="52.42"/></clipPath>
<g clip-path="url(#c5)">
<rect x="402.50" y="22.71" width="75.38" height="54.42" fill="#f9fcfb"/>
<g fill="none" stroke-linecap="round" stroke-width="3.60">
<path stroke="#4050aa" d="M478.3 62.9h0M477.9 59.2h0"/>
<path stroke="#375aa0" d="M478.1 58.1h0"/>
</g>
</g>
<clipPath id="c6"><rect x="403.50" y="92.17" width="73.38" height="90.54"/></clipPath>
<g clip-path="url(#c6)">
<rect x="402.50" y="91.17" width="75.38" height="92.54" fill="#cccc99"/>
</g>
<clipPath id="c7"><rect x="476.88" y="8.30" width="11.42" height="15.41"/></clipPath>
<g clip-path="url(#c7)">
<rect x="475.88" y="7.30" width="13.42" height="17.41" fill="#ffe0e5"/>
</g>
<clipPath id="c8"><rect x="476.88" y="23.71" width="11.42" height="52.42"/></clipPath>
<g clip-path="url(#c8)">
<rect x="475.88" y="22.71" width="13.42" height="54.42" fill="#f9e4e8"/>
<g fill="none" stroke-linecap="round" stroke-width="3.60">
<path stroke="#99addd" d="M486.1 70.4h0M486.6 69.0h0M481.5 68.5h0"/>
<path stroke="#968bc6" d="M478.3 62.9h0M481.6 59.8h0M477.9 59.2h0M483.0 60.0h0M483.4 61.3h0M483.6 62.1h0M486.5 61.4h0M478.9 61.6h0M478.8 62.5h0M481.3 60.1h0"/>
<path stroke="#948bcd" d="M483.9 65.9h0M483.9 66.6h0M489.5 63.0h0M482.7 64.8h0M488.6 65.1h0M482.2 66.8h0M487.3 64.1h0M485.6 64.3h0M487.4 62.1h0M481.1 63.4h0M486.8 66.8h0M488.9 64.5h0M485.4 63.7h0M489.4 63.7h0M479.8 65.4h0"/>
<path stroke="#989ed6" d="M488.1 67.8h0M484.6 65.3h0M486.8 68.6h0M483.6 67.4h0M480.3 68.3h0"/>
<path stroke="#98cfe7" d="M485.6 70.9h0M487.1 73.5h0M485.6 72.2h0"/>
<path stroke="#99d4e7" d="M489.9 74.2h0M487.9 73.9h0M483.4 73.8h0"/>
<path stroke="#a2dbe0" d="M487.5 76.8h0M489.9 75.6h0M486.6 75.9h0"/>
<path stroke="#a6dcd9" d="M489.5 77.4h0M489.9 77.7h0"/>
<path stroke="#99c3e4" d="M482.7 70.5h0M488.1 71.0h0M489.3 70.6h0M482.1 70.4h0"/>
<path stroke="#9893bb" d="M478.1 58.1h0"/>
<path stroke="#9dd8e6" d="M486.2 75.8h0"/>
</g>
</g>
<clipPath id="c9"><rect x="476.88" y="76.13" width="11.42" height="16.04"/></clipPath>
<g clip-path="url(#c9)">
<rect x="475.88" y="75.13" width="13.42" height="18.04" fill="#ffe0e5"/>
<g fill="none" stroke-linecap="round" stroke-width="3.60">
<path stroke="#8dd4dc" d="M487.5 76.8h0M489.9 75.6h0M486.6 75.9h0"/>
<path stroke="#91d6d2" d="M489.5 77.4h0M488.3 78.2h0M489.9 77.7h0"/>
<path stroke="#8fd1a2" d="M489.8 83.1h0"/>
<path stroke="#90d3bc" d="M488.6 80.1h0M486.9 79.9h0"/>
<path stroke="#91d5c7" d="M487.3 78.4h0"/>
<path stroke="#86cfe1" d="M486.2 75.8h0"/>
<path stroke="#91d3b4" d="M487.7 81.1h0"/>
</g>
</g>
<clipPath id="c10"><rect x="476.88" y="92.17" width="11.42" height="90.54"/></clipPath>
<g clip-path="url(#c10)">
<rect x="475.88" y="91.17" width="13.42" height="92.54" fill="#ccb989"/>
</g>
<clipPath id="c11"><rect x="476.88" y="182.71" width="11.42" height="32.09"/></clipPath>
<g clip-path="url(#c11)">
<rect x="475.88" y="181.71" width="13.42" height="34.09" fill="#ffe0e5"/>
</g>
<clipPath id="c12"><rect x="488.30" y="23.71" width="87.17" height="52.42"/></clipPath>
<g clip-path="url(#c12)">
<rect x="487.30" y="22.71" width="89.17" height="54.42" fill="#f9fcfb"/>
<g fill="none" stroke-linecap="round" stroke-width="3.60">
<path stroke="#65d0ea" d="M508.1 74.2h0M502.9 73.0h0M489.9 74.2h0M501.5 74.4h0M497.0 74.3h0M495.7 74.5h0M487.9 73.9h0M490.9 74.2h0M504.0 74.2h0M495.1 74.3h0M504.6 75.9h0"/>
<path stroke="#4e73cb" d="M492.7 68.0h0M495.6 66.8h0M488.1 67.8h0M495.9 66.7h0M486.8 68.6h0"/>
<path stroke="#71d7e6" d="M506.3 74.6h0M498.0 76.4h0M499.5 76.0h0M512.1 75.4h0M508.7 75.9h0M504.0 74.4h0"/>
<path stroke="#508dd7" d="M491.7 70.4h0M495.5 68.1h0M498.8 69.8h0M486.6 69.0h0M503.0 70.5h0M494.8 69.2h0M501.0 71.2h0M490.6 69.1h0M491.7 68.2h0"/>
<path stroke="#88e3d8" d="M509.3 77.1h0M493.2 77.6h0M503.0 77.6h0M489.5 77.4h0M489.9 77.7h0M491.3 77.1h0"/>
<path stroke="#4db8ec" d="M496.1 70.8h0M495.5 71.1h0M498.8 70.4h0M508.6 72.8h0M505.2 71.0h0M488.1 71.0h0M489.3 70.6h0M493.5 70.4h0"/>
<path stroke="#7fdfe1" d="M513.3 75.6h0M487.5 76.8h0M489.9 75.6h0M505.3 76.4h0M496.2 76.8h0M515.5 77.6h0M493.1 76.1h0M505.8 77.5h0M486.6 75.9h0M501.1 76.3h0"/>
<path stroke="#55c9ee" d="M502.8 71.9h0M499.5 72.4h0M500.7 72.4h0M491.8 71.8h0M494.8 73.4h0M487.1 73.5h0M505.6 73.8h0"/>
<path stroke="#4652bb" d="M489.5 63.0h0M488.6 65.1h0M487.3 64.1h0M491.7 64.8h0M497.0 66.3h0M491.6 65.1h0M487.4 62.1h0M486.8 66.8h0M488.9 64.5h0M489.4 63.7h0"/>
</g>
</g>
<clipPath id="c13"><rect x="488.30" y="92.17" width="87.17" height="90.54"/></clipPath>
<g clip-path="url(#c13)">
<rect x="487.30" y="91.17" width="89.17" height="92.54" fill="#cccc99"/>
<g fill="none" stroke-linecap="round" stroke-width="3.60">
<path stroke="#cbb50b" d="M510.1 113.8h0M555.6 115.2h0M543.9 115.4h0M506.6 114.1h0M555.6 116.5h0M539.3 115.8h0M525.4 113.9h0M522.3 114.5h0M520.2 113.3h0"/>
<path stroke="#d04318" d="M542.6 126.8h0M541.6 126.3h0M536.2 127.3h0M551.9 128.0h0M557.0 128.0h0M530.2 126.4h0M521.0 127.0h0M553.5 127.5h0M516.5 126.7h0M557.4 128.1h0M549.4 128.0h0M538.9 127.1h0M557.6 128.3h0M514.3 126.6h0M549.9 128.1h0M525.6 126.7h0M542.6 127.8h0M552.0 126.5h0M514.8 126.6h0M543.7 128.4h0"/>
<path stroke="#a94492" d="M541.9 134.9h0M522.0 134.1h0M552.7 135.1h0M544.3 134.9h0M542.8 135.3h0M521.1 134.4h0M557.3 135.0h0M524.5 134.1h0"/>
<path stroke="#cb9a13" d="M515.6 119.1h0M542.4 120.8h0M514.6 119.6h0M553.2 120.6h0M524.6 119.1h0M521.8 119.5h0M526.4 120.1h0M512.4 119.2h0M523.8 119.9h0M549.9 120.5h0M528.4 119.6h0"/>
<path stroke="#aac728" d="M526.3 104.9h0M526.2 106.7h0M544.7 106.4h0M512.5 105.7h0M530.6 106.3h0M516.7 104.8h0M506.5 106.1h0M546.6 107.4h0M532.9 106.6h0M541.4 106.7h0M515.9 105.6h0M534.3 105.8h0M528.6 106.9h0M538.1 106.3h0M541.7 106.0h0"/>
<path stroke="#c6a193" d="M545.1 146.5h0M541.9 144.4h0M548.8 145.8h0M545.0 145.4h0M546.2 145.8h0M534.6 145.5h0M542.2 145.7h0M545.7 146.3h0M539.9 146.0h0M537.8 147.8h0"/>
<path stroke="#82be23" d="M499.7 95.6h0M524.4 97.8h0M517.6 98.5h0M539.4 99.6h0M512.7 97.2h0M538.9 98.0h0M536.7 97.8h0M499.2 95.9h0M548.7 99.1h0M498.3 96.4h0M516.1 96.9h0M515.4 98.8h0M515.1 99.2h0M529.2 98.5h0M538.8 97.7h0M531.1 97.9h0M506.2 97.7h0M532.9 97.5h0M534.4 96.6h0M530.4 95.5h0M546.6 98.0h0"/>
<path stroke="#90c327" d="M544.2 101.5h0M523.4 99.8h0M529.4 102.8h0M508.0 100.1h0M510.8 100.9h0M527.3 102.4h0M524.9 100.9h0M530.4 102.4h0M537.9 101.4h0M532.8 100.7h0M534.3 100.9h0M518.4 101.5h0M548.9 101.5h0M527.1 100.5h0M520.1 101.5h0M538.5 101.4h0M509.2 101.9h0M533.0 101.4h0M522.2 100.2h0M512.9 101.1h0M504.8 99.2h0M543.3 101.5h0M504.3 101.3h0M550.0 101.9h0M497.8 99.4h0M542.9 103.1h0M527.4 101.1h0M510.8 100.9h0M497.9 100.8h0M507.4 101.0h0M505.6 100.8h0"/>
<path stroke="#cbb00f" d="M507.6 116.9h0M521.8 115.5h0M531.3 116.0h0M549.2 116.1h0M554.0 117.1h0M519.2 116.1h0M510.2 116.2h0M528.9 116.3h0M538.7 117.4h0M541.4 116.2h0M525.3 115.7h0M514.9 116.0h0M508.3 115.7h0M523.3 115.7h0"/>
<path stroke="#cc344a" d="M516.2 128.6h0M523.6 129.4h0M554.8 130.2h0M546.6 129.7h0M540.6 129.9h0M533.5 129.8h0M548.6 130.3h0M553.2 130.4h0M521.9 128.5h0M528.0 129.9h0M544.0 131.0h0M552.5 131.1h0M538.9 130.0h0M539.0 129.5h0M519.9 129.1h0M518.4 128.3h0M538.5 129.8h0M521.9 129.3h0M546.8 131.0h0M557.8 129.8h0"/>
<path stroke="#a1c62a" d="M524.4 104.6h0M522.4 105.5h0M550.3 105.1h0M535.7 105.3h0M503.8 101.1h0M546.6 104.8h0M514.9 103.6h0M527.6 104.7h0M520.2 104.5h0M501.5 102.5h0M506.0 104.9h0M551.4 106.1h0M547.9 105.4h0M505.8 104.2h0M527.8 105.0h0M508.9 105.3h0M500.0 102.7h0M522.9 104.8h0M545.4 104.5h0"/>
<path stroke="#bfcb1a" d="M521.8 107.6h0M535.2 108.3h0M541.2 109.8h0M506.8 108.9h0M532.6 108.1h0M536.2 108.0h0M503.2 108.6h0M512.6 107.5h0M536.1 109.8h0M554.0 110.2h0M510.6 110.2h0M544.2 109.1h0"/>
<path stroke="#6fb325" d="M509.0 90.8h0M539.3 92.4h0M529.6 91.9h0M502.2 91.2h0M497.4 91.6h0M527.5 91.7h0M536.9 91.9h0M535.2 90.8h0M541.9 92.7h0M511.3 91.1h0"/>
<path stroke="#cca513" d="M543.2 119.2h0M535.7 119.2h0M526.9 117.5h0M517.1 117.6h0M519.8 117.7h0M548.3 119.4h0M531.5 117.7h0M557.1 119.8h0M533.0 119.4h0M522.8 119.1h0M554.4 119.5h0M542.0 119.7h0M541.6 118.8h0M522.2 118.7h0M511.4 116.9h0M510.2 118.1h0"/>
<path stroke="#ce4d17" d="M520.3 124.6h0M544.4 126.3h0M549.3 125.2h0M527.3 124.7h0M534.8 126.3h0M538.4 125.8h0M532.6 125.7h0M524.5 126.4h0M524.2 126.2h0M546.6 126.1h0M513.3 124.9h0M553.7 126.2h0M534.7 125.8h0M523.1 125.0h0M529.3 125.4h0M556.0 126.4h0"/>
<path stroke="#cbba0d" d="M541.5 114.0h0M512.1 114.1h0M528.1 113.5h0M516.2 114.1h0M536.7 114.1h0M545.8 115.5h0M528.9 113.8h0M520.3 113.9h0M525.9 114.0h0M539.6 113.7h0M549.6 113.6h0M514.4 113.4h0M534.3 114.2h0M541.9 114.1h0M512.8 113.8h0M552.3 115.3h0M516.1 113.7h0M530.5 114.1h0M524.1 113.7h0M538.7 114.6h0M521.4 112.6h0M548.9 113.9h0M541.6 113.7h0"/>
<path stroke="#c38e91" d="M538.7 143.0h0M532.5 143.1h0M532.4 143.1h0M540.7 142.6h0M536.9 143.5h0"/>
<path stroke="#b6c921" d="M549.4 108.7h0M516.8 106.8h0M505.2 106.7h0M542.0 108.4h0M530.1 108.6h0M517.5 105.9h0M509.9 107.4h0M508.4 105.7h0M506.9 106.3h0M514.4 105.9h0M548.4 107.4h0M548.5 108.2h0M510.2 108.6h0M528.9 108.7h0M553.3 108.0h0M501.8 106.7h0M531.7 107.3h0M524.0 107.7h0M537.7 107.7h0M520.5 107.0h0"/>
<path stroke="#80bb23" d="M507.1 96.0h0M519.3 96.9h0M522.1 95.6h0M495.4 95.6h0M510.1 95.6h0M496.8 93.9h0M524.6 96.4h0M497.8 94.3h0M524.8 95.3h0M519.9 96.2h0M528.4 94.3h0M523.0 97.5h0M517.1 97.2h0M527.3 95.6h0M516.3 95.4h0M503.6 95.1h0M540.1 97.8h0M542.7 96.2h0M540.7 96.5h0M508.6 95.1h0M525.4 94.7h0M544.9 98.3h0M540.6 96.0h0M506.2 95.5h0M509.0 95.5h0M512.3 96.0h0M532.2 95.7h0M530.4 94.8h0"/>
<path stroke="#78b323" d="M535.0 93.3h0M504.8 91.9h0M517.4 91.9h0M523.2 92.5h0M522.8 92.1h0M495.2 91.7h0M495.6 90.4h0M515.5 91.4h0M492.4 90.9h0M521.9 93.3h0M509.4 92.2h0M530.7 93.3h0M526.8 92.9h0M523.9 93.0h0M492.9 92.1h0"/>
<path stroke="#c8c90f" d="M538.8 109.6h0M532.5 110.1h0M546.9 110.2h0M542.2 109.9h0M515.7 109.2h0M530.5 110.0h0M532.9 110.6h0M503.6 109.1h0M511.4 109.4h0M523.6 110.3h0M552.7 110.8h0M542.4 110.9h0"/>
<path stroke="#cd5417" d="M541.6 124.9h0M552.8 124.7h0M537.7 125.0h0M520.0 123.8h0M525.2 124.2h0M555.1 126.0h0M535.5 124.8h0M557.1 125.4h0M538.6 124.9h0M555.8 124.6h0M528.4 125.0h0M537.2 124.7h0M512.8 124.3h0M548.2 125.9h0"/>
<path stroke="#89c225" d="M543.8 101.2h0M546.9 100.2h0M508.0 99.3h0M532.5 99.1h0M536.5 99.9h0M516.0 98.9h0M511.3 98.4h0M540.7 100.3h0M533.5 98.8h0M500.3 98.9h0M547.0 100.0h0M534.9 99.8h0M502.4 98.5h0M519.1 98.1h0M520.4 99.1h0M526.5 99.7h0M512.6 98.7h0M506.9 99.1h0M497.0 97.6h0M513.0 101.0h0M502.1 97.9h0"/>
<path stroke="#af6e92" d="M537.4 139.7h0M526.2 138.9h0M546.0 139.4h0M558.5 141.0h0M525.3 138.5h0M552.0 139.3h0M534.5 138.7h0M542.3 140.4h0M547.3 139.7h0M536.8 139.5h0M555.5 139.9h0M533.4 139.3h0M543.7 140.8h0M549.1 139.1h0M550.0 139.8h0"/>
<path stroke="#905395" d="M559.2 138.2h0M540.3 137.5h0M528.4 137.1h0M554.4 138.4h0M555.4 136.7h0M545.6 136.2h0M547.6 137.3h0M557.5 137.3h0M542.2 137.0h0M554.5 137.8h0M527.2 136.7h0M544.0 137.5h0M533.8 136.2h0"/>
<path stroke="#a06093" d="M528.7 138.9h0M531.1 139.2h0M536.4 138.9h0M537.6 138.3h0M543.7 138.2h0M528.6 138.6h0M547.7 139.5h0M555.4 138.8h0M558.1 138.4h0M526.6 137.2h0"/>
<path stroke="#cbc50d" d="M545.7 112.3h0M509.0 110.1h0M518.5 110.4h0M526.4 111.6h0M534.4 112.1h0M520.1 111.9h0M506.2 110.0h0M508.1 110.1h0M529.3 111.9h0M543.9 112.2h0M554.2 112.1h0M537.9 111.2h0M519.8 110.4h0M553.3 111.8h0M550.4 111.6h0M523.1 110.7h0M507.8 109.8h0"/>
<path stroke="#7bb723" d="M506.7 92.5h0M505.7 93.4h0M514.8 94.1h0M510.4 93.6h0M495.1 93.6h0M542.0 94.1h0M518.3 95.8h0M502.0 93.0h0M515.3 94.8h0M541.6 93.7h0M536.0 94.0h0M526.5 94.0h0M534.2 93.4h0M538.2 94.9h0M502.8 92.7h0M533.4 94.1h0M498.7 94.2h0M518.4 93.8h0"/>
<path stroke="#cc6815" d="M517.8 123.0h0M523.7 122.3h0M528.7 122.6h0M539.0 122.7h0M515.4 122.1h0M552.3 122.9h0M535.7 123.2h0M545.0 123.1h0M542.6 122.5h0M530.2 122.8h0M555.9 123.1h0M518.6 122.5h0M529.9 122.8h0M527.3 122.8h0M549.0 123.8h0"/>
<path stroke="#b97990" d="M543.6 140.8h0M544.5 140.6h0M552.1 141.1h0M551.4 141.3h0M547.7 141.0h0M533.3 140.7h0M538.7 140.8h0M547.8 141.2h0M530.4 141.2h0M539.5 141.2h0"/>
<path stroke="#c7ac95" d="M551.6 147.9h0M547.9 148.0h0M545.0 148.1h0M542.0 147.9h0M550.3 146.9h0M547.0 148.3h0M549.1 147.6h0"/>
<path stroke="#b43e91" d="M552.8 134.8h0M539.4 133.5h0M540.1 133.7h0M552.1 133.0h0M531.4 133.7h0M534.1 134.0h0M555.8 134.0h0M552.0 133.8h0M550.8 133.7h0M525.9 133.6h0"/>
<path stroke="#ccab12" d="M514.1 117.4h0M556.6 118.6h0M516.9 116.6h0M530.2 117.7h0M543.2 117.7h0M549.9 119.1h0M521.0 117.0h0M532.5 117.3h0M546.7 117.9h0M535.4 116.6h0M539.8 117.9h0M547.7 118.0h0"/>
<path stroke="#ccbf0c" d="M517.8 112.3h0M551.5 113.2h0M520.2 112.1h0M553.8 113.6h0M543.0 112.4h0M507.6 111.8h0M528.1 112.2h0M513.6 111.7h0M537.9 112.9h0M510.6 111.9h0M518.8 112.4h0M550.6 113.6h0M532.7 112.4h0"/>
<path stroke="#ca3375" d="M529.8 130.7h0M542.4 131.7h0M524.9 129.7h0M559.1 131.7h0M532.4 130.5h0M543.7 131.7h0M530.0 131.4h0M524.0 131.1h0M523.4 132.2h0M559.0 130.8h0M535.2 130.3h0M544.1 131.7h0M536.9 131.3h0M526.9 131.2h0M518.9 130.2h0M520.8 130.4h0"/>
<path stroke="#63b727" d="M532.0 90.5h0M524.6 90.4h0M539.8 91.2h0M511.7 90.4h0M517.8 90.8h0M514.2 90.6h0M512.2 90.5h0"/>
<path stroke="#9b4c95" d="M536.1 135.0h0M533.7 135.2h0M554.4 136.5h0M549.0 136.3h0M538.7 136.4h0M529.5 135.3h0M528.1 135.4h0M548.3 135.8h0M539.1 135.7h0M534.7 135.5h0"/>
<path stroke="#cb7913" d="M510.6 121.2h0M546.0 122.9h0M513.9 121.6h0M554.7 122.7h0M550.9 122.2h0M532.0 122.2h0M514.1 120.9h0M534.7 121.3h0M543.8 122.6h0"/>
<path stroke="#99c529" d="M533.9 102.7h0M532.0 101.7h0M547.9 103.0h0M541.5 103.0h0M514.3 102.7h0M523.6 103.3h0M540.8 103.0h0M518.2 103.4h0M551.1 104.0h0M536.5 104.0h0M505.5 101.2h0M513.0 102.3h0M510.8 103.4h0M530.6 103.8h0M501.3 103.2h0M509.5 102.9h0M517.3 102.0h0M538.2 104.4h0M539.8 102.8h0M499.2 100.6h0"/>
<path stroke="#c49992" d="M535.7 144.4h0M551.9 145.0h0M549.7 144.8h0M554.8 144.1h0M553.2 146.1h0M540.8 146.0h0M538.0 145.2h0"/>
<path stroke="#c4378e" d="M534.8 131.4h0M554.3 132.5h0M527.3 132.4h0M559.2 133.7h0M528.5 132.4h0M521.4 132.3h0M538.5 132.3h0M520.5 131.6h0"/>
<path stroke="#cd5e16" d="M557.1 123.6h0M546.9 123.5h0M517.0 122.7h0M512.9 122.9h0M524.6 123.1h0M518.5 123.4h0M540.7 123.9h0"/>
<path stroke="#ca8611" d="M549.5 122.0h0M528.9 119.7h0M538.7 121.1h0M534.7 121.3h0M513.3 120.0h0M517.3 119.7h0M542.8 120.9h0M547.1 121.6h0M520.0 120.6h0M532.8 121.0h0M544.2 121.1h0M522.5 121.2h0M536.6 121.0h0M509.5 119.2h0M537.8 121.3h0M531.8 120.6h0"/>
<path stroke="#c18590" d="M553.5 143.0h0M531.7 141.0h0M553.3 142.5h0M557.1 142.9h0M558.1 141.5h0M548.9 142.7h0M534.1 141.9h0M555.3 141.4h0M532.2 141.1h0"/>
<path stroke="#cd342b" d="M533.8 128.1h0M531.8 128.7h0M516.4 128.4h0M530.0 128.6h0M527.8 128.0h0M524.3 128.5h0M547.0 128.1h0M541.1 128.0h0"/>
<path stroke="#c9b596" d="M543.1 148.6h0"/>
</g>
</g>
<clipPath id="c14"><rect x="575.47" y="8.30" width="26.04" height="15.41"/></clipPath>
<g clip-path="url(#c14)">
<rect x="574.47" y="7.30" width="28.04" height="17.41" fill="#d6f8d6"/>
</g>
<clipPath id="c15"><rect x="575.47" y="23.71" width="26.04" height="52.42"/></clipPath>
<g clip-path="url(#c15)">
<rect x="574.47" y="22.71" width="28.04" height="54.42" fill="#daf7dc"/>
</g>
<clipPath id="c16"><rect x="575.47" y="76.13" width="26.04" height="16.04"/></clipPath>
<g clip-path="url(#c16)">
<rect x="574.47" y="75.13" width="28.04" height="18.04" fill="#d6f8d6"/>
</g>
<clipPath id="c17"><rect x="575.47" y="92.17" width="26.04" height="90.54"/></clipPath>
<g clip-path="url(#c17)">
<rect x="574.47" y="91.17" width="28.04" height="92.54" fill="#b3c880"/>
</g>
<clipPath id="c18"><rect x="575.47" y="182.71" width="26.04" height="32.09"/></clipPath>
<g clip-path="url(#c18)">
<rect x="574.47" y="181.71" width="28.04" height="34.09" fill="#d6f8d6"/>
</g>
<clipPath id="c19"><rect x="601.51" y="23.71" width="24.79" height="52.42"/></clipPath>
<g clip-path="url(#c19)">
<rect x="600.51" y="22.71" width="26.79" height="54.42" fill="#f9fcfb"/>
</g>
<clipPath id="c20"><rect x="601.51" y="92.17" width="24.79" height="90.54"/></clipPath>
<g clip-path="url(#c20)">
<rect x="600.51" y="91.17" width="26.79" height="92.54" fill="#cccc99"/>
</g>
<path d="M403.50 23.71H626.30" stroke="#000" stroke-width="1.15"/>
<path d="M403.50 76.13H626.30" stroke="#000" stroke-width="1.15"/>
<path d="M403.50 92.17H626.30" stroke="#000" stroke-width="1.15"/>
<path d="M403.50 182.71H626.30" stroke="#000" stroke-width="1.15"/>
<path d="M403.50 50.55H626.30" stroke="#000" stroke-width="1.15" stroke-dasharray="5.6 2.3"/>
<path d="M403.50 140.14H626.30" stroke="#000" stroke-width="1.15" stroke-dasharray="5.6 2.3"/>
<path d="M476.88 214.80V8.30" stroke="#000" stroke-width="1.12"/>
<path d="M488.30 214.80V8.30" stroke="#000" stroke-width="1.12"/>
<path d="M575.47 214.80V8.30" stroke="#000" stroke-width="1.12"/>
<path d="M601.51 214.80V8.30" stroke="#000" stroke-width="1.12"/>
<path d="M482.45 214.80V8.30" stroke="#000" stroke-width="0.95" stroke-dasharray="3.8 1.65"/>
<path d="M588.84 214.80V8.30" stroke="#000" stroke-width="0.95" stroke-dasharray="3.8 1.65"/>
<rect x="403.50" y="8.30" width="222.80" height="206.50" fill="none" stroke="#1a1a1a" stroke-width="0.7"/>
<path d="M403.50 214.80v3.00" stroke="#000" stroke-width="0.8"/>
<text x="403.15" y="226.70" font-size="8.2" text-anchor="middle" letter-spacing="0.12">80.30</text>
<path d="M431.35 214.80v3.00" stroke="#000" stroke-width="0.8"/>
<text x="431.00" y="226.70" font-size="8.2" text-anchor="middle" letter-spacing="0.12">80.32</text>
<path d="M459.20 214.80v3.00" stroke="#000" stroke-width="0.8"/>
<text x="458.85" y="226.70" font-size="8.2" text-anchor="middle" letter-spacing="0.12">80.34</text>
<path d="M487.05 214.80v3.00" stroke="#000" stroke-width="0.8"/>
<text x="486.70" y="226.70" font-size="8.2" text-anchor="middle" letter-spacing="0.12">80.36</text>
<path d="M514.90 214.80v3.00" stroke="#000" stroke-width="0.8"/>
<text x="514.55" y="226.70" font-size="8.2" text-anchor="middle" letter-spacing="0.12">80.38</text>
<path d="M542.75 214.80v3.00" stroke="#000" stroke-width="0.8"/>
<text x="542.40" y="226.70" font-size="8.2" text-anchor="middle" letter-spacing="0.12">80.40</text>
<path d="M570.60 214.80v3.00" stroke="#000" stroke-width="0.8"/>
<text x="570.25" y="226.70" font-size="8.2" text-anchor="middle" letter-spacing="0.12">80.42</text>
<path d="M598.45 214.80v3.00" stroke="#000" stroke-width="0.8"/>
<text x="598.10" y="226.70" font-size="8.2" text-anchor="middle" letter-spacing="0.12">80.44</text>
<path d="M626.30 214.80v3.00" stroke="#000" stroke-width="0.8"/>
<text x="625.95" y="226.70" font-size="8.2" text-anchor="middle" letter-spacing="0.12">80.46</text>
<path d="M403.50 198.92h-3.00" stroke="#000" stroke-width="0.8"/>
<text x="398.30" y="201.72" font-size="8.2" text-anchor="end" letter-spacing="0.12">0.2306</text>
<path d="M403.50 167.15h-3.00" stroke="#000" stroke-width="0.8"/>
<text x="398.30" y="169.95" font-size="8.2" text-anchor="end" letter-spacing="0.12">0.2308</text>
<path d="M403.50 135.38h-3.00" stroke="#000" stroke-width="0.8"/>
<text x="398.30" y="138.18" font-size="8.2" text-anchor="end" letter-spacing="0.12">0.2310</text>
<path d="M403.50 103.61h-3.00" stroke="#000" stroke-width="0.8"/>
<text x="398.30" y="106.41" font-size="8.2" text-anchor="end" letter-spacing="0.12">0.2312</text>
<path d="M403.50 71.84h-3.00" stroke="#000" stroke-width="0.8"/>
<text x="398.30" y="74.64" font-size="8.2" text-anchor="end" letter-spacing="0.12">0.2314</text>
<path d="M403.50 40.07h-3.00" stroke="#000" stroke-width="0.8"/>
<text x="398.30" y="42.87" font-size="8.2" text-anchor="end" letter-spacing="0.12">0.2316</text>
<path d="M403.50 8.30h-3.00" stroke="#000" stroke-width="0.8"/>
<text x="398.30" y="11.10" font-size="8.2" text-anchor="end" letter-spacing="0.12">0.2318</text>
<text x="514.90" y="238.00" font-size="8" text-anchor="middle" font-style="italic" letter-spacing="0.3">M<tspan font-size="5.4" dy="1.6">W</tspan><tspan dy="-1.6">[GeV]</tspan></text>
<text x="364.30" y="112.55" font-size="8" text-anchor="middle" font-style="italic" letter-spacing="0.35" transform="rotate(-90 364.30 112.55)">sin<tspan font-size="5" dy="-2.6">2</tspan><tspan dy="2.6">&#952;</tspan><tspan font-size="5.2" dy="1.6">eff</tspan></text>
<text x="407.80" y="19.90" font-size="8.1" text-anchor="start" font-style="italic" letter-spacing="0.3">world &#8722; avg &#177; 1&#963;</text>
<text x="410.80" y="89.10" font-size="8.1" text-anchor="start" font-style="italic" letter-spacing="0.3">SLD &#177; 1&#963;</text>
<text x="498.10" y="137.70" font-size="8.1" text-anchor="start" font-style="italic" transform="rotate(-90 498.10 137.70)" letter-spacing="0.3">SM &#177; 1&#963;</text>
<text x="611.50" y="141.30" font-size="8.1" text-anchor="start" font-style="italic" transform="rotate(-90 611.50 141.30)" letter-spacing="0.3">CDF &#177; 1&#963;</text>
<circle cx="490.2" cy="62.7" r="1.8" fill="#4a9a62"/>
<linearGradient id="cb1" x1="0" y1="0" x2="0" y2="1"><stop offset="0.0000" stop-color="#fbf7fb"/><stop offset="0.0104" stop-color="#f7eff7"/><stop offset="0.0208" stop-color="#f2e1f1"/><stop offset="0.0312" stop-color="#f0d9ef"/><stop offset="0.0417" stop-color="#ebcceb"/><stop offset="0.0521" stop-color="#e7bfe5"/><stop offset="0.0625" stop-color="#e4b7e1"/><stop offset="0.0729" stop-color="#deaadb"/><stop offset="0.0833" stop-color="#d99fd6"/><stop offset="0.0938" stop-color="#d596d3"/><stop offset="0.1042" stop-color="#d18acd"/><stop offset="0.1146" stop-color="#be7cc9"/><stop offset="0.1250" stop-color="#b272c7"/><stop offset="0.1354" stop-color="#a164c3"/><stop offset="0.1458" stop-color="#9057c0"/><stop offset="0.1562" stop-color="#8650be"/><stop offset="0.1667" stop-color="#944dbf"/><stop offset="0.1771" stop-color="#a34bbf"/><stop offset="0.1875" stop-color="#ac4bbf"/><stop offset="0.1979" stop-color="#bb49c0"/><stop offset="0.2083" stop-color="#cc46bd"/><stop offset="0.2188" stop-color="#d537a9"/><stop offset="0.2292" stop-color="#ea1d8e"/><stop offset="0.2396" stop-color="#ee1064"/><stop offset="0.2500" stop-color="#ed1443"/><stop offset="0.2604" stop-color="#ed1d1f"/><stop offset="0.2708" stop-color="#ed291a"/><stop offset="0.2812" stop-color="#ee2e19"/><stop offset="0.2917" stop-color="#ee3619"/><stop offset="0.3021" stop-color="#ee4019"/><stop offset="0.3125" stop-color="#ef4919"/><stop offset="0.3229" stop-color="#f15b19"/><stop offset="0.3333" stop-color="#f3711b"/><stop offset="0.3438" stop-color="#f4811b"/><stop offset="0.3542" stop-color="#f79819"/><stop offset="0.3646" stop-color="#f9b116"/><stop offset="0.3750" stop-color="#fbbb13"/><stop offset="0.3854" stop-color="#fac314"/><stop offset="0.3958" stop-color="#f9c916"/><stop offset="0.4062" stop-color="#f9ce15"/><stop offset="0.4167" stop-color="#fbd611"/><stop offset="0.4271" stop-color="#fbde0d"/><stop offset="0.4375" stop-color="#fbe20a"/><stop offset="0.4479" stop-color="#fce707"/><stop offset="0.4583" stop-color="#fceb04"/><stop offset="0.4688" stop-color="#fded04"/><stop offset="0.4792" stop-color="#f2ed0c"/><stop offset="0.4896" stop-color="#e5e919"/><stop offset="0.5000" stop-color="#dce620"/><stop offset="0.5104" stop-color="#cee22e"/><stop offset="0.5208" stop-color="#c1e03d"/><stop offset="0.5312" stop-color="#b9de42"/><stop offset="0.5417" stop-color="#addb3c"/><stop offset="0.5521" stop-color="#a1d837"/><stop offset="0.5625" stop-color="#9ad633"/><stop offset="0.5729" stop-color="#8fd42f"/><stop offset="0.5833" stop-color="#84ce23"/><stop offset="0.5938" stop-color="#82cb23"/><stop offset="0.6042" stop-color="#7ec826"/><stop offset="0.6146" stop-color="#78c426"/><stop offset="0.6250" stop-color="#73c126"/><stop offset="0.6354" stop-color="#68be27"/><stop offset="0.6458" stop-color="#60c129"/><stop offset="0.6562" stop-color="#5cc32a"/><stop offset="0.6667" stop-color="#56c62b"/><stop offset="0.6771" stop-color="#4ec929"/><stop offset="0.6875" stop-color="#4aca31"/><stop offset="0.6979" stop-color="#4fcd48"/><stop offset="0.7083" stop-color="#5ad16a"/><stop offset="0.7188" stop-color="#5ed47b"/><stop offset="0.7292" stop-color="#66d895"/><stop offset="0.7396" stop-color="#6adba9"/><stop offset="0.7500" stop-color="#6cddb4"/><stop offset="0.7604" stop-color="#71dfc0"/><stop offset="0.7708" stop-color="#73e2ce"/><stop offset="0.7812" stop-color="#76e3d7"/><stop offset="0.7917" stop-color="#6cdee1"/><stop offset="0.8021" stop-color="#5cd5e7"/><stop offset="0.8125" stop-color="#50d0ea"/><stop offset="0.8229" stop-color="#3fc8ef"/><stop offset="0.8333" stop-color="#31c0f0"/><stop offset="0.8438" stop-color="#30b3ec"/><stop offset="0.8542" stop-color="#3688d6"/><stop offset="0.8646" stop-color="#3165c6"/><stop offset="0.8750" stop-color="#2c50bc"/><stop offset="0.8854" stop-color="#2937b3"/><stop offset="0.8958" stop-color="#252aa3"/><stop offset="0.9062" stop-color="#252d99"/><stop offset="0.9167" stop-color="#1f3787"/><stop offset="0.9271" stop-color="#063e5a"/><stop offset="0.9375" stop-color="#044c38"/><stop offset="0.9479" stop-color="#1d6521"/><stop offset="0.9583" stop-color="#064a26"/><stop offset="0.9688" stop-color="#053a35"/><stop offset="0.9792" stop-color="#122d54"/><stop offset="0.9896" stop-color="#1f286f"/><stop offset="1.0000" stop-color="#242680"/></linearGradient>
<rect x="640.30" y="8.30" width="10.30" height="206.50" fill="url(#cb1)" stroke="#333" stroke-width="0.5"/>
<path d="M650.60 190.41h3.00" stroke="#000" stroke-width="0.8"/>
<text x="656.20" y="193.21" font-size="8.2" text-anchor="start" letter-spacing="0.12">0.05</text>
<path d="M650.60 147.48h3.00" stroke="#000" stroke-width="0.8"/>
<text x="656.20" y="150.28" font-size="8.2" text-anchor="start" letter-spacing="0.12">0.10</text>
<path d="M650.60 104.55h3.00" stroke="#000" stroke-width="0.8"/>
<text x="656.20" y="107.35" font-size="8.2" text-anchor="start" letter-spacing="0.12">0.15</text>
<path d="M650.60 61.62h3.00" stroke="#000" stroke-width="0.8"/>
<text x="656.20" y="64.42" font-size="8.2" text-anchor="start" letter-spacing="0.12">0.20</text>
<path d="M650.60 18.69h3.00" stroke="#000" stroke-width="0.8"/>
<text x="656.20" y="21.49" font-size="8.2" text-anchor="start" letter-spacing="0.12">0.25</text>
<text x="679.80" y="112.05" font-size="8" text-anchor="middle" font-style="italic" transform="rotate(-90 679.80 112.05)">T</text>
<text x="513.30" y="269.20" font-size="21.5" text-anchor="middle" class='cap' letter-spacing='0.4' font-family='Liberation Serif, serif'>(b)</text>
<rect x="403.50" y="309.10" width="222.80" height="206.80" fill="#fff"/>
<g fill="none" stroke-linecap="round" stroke-width="3.60">
<path stroke="#81ca24" d="M603.0 448.4h0M594.4 448.0h0M554.0 444.0h0M555.7 444.1h0M606.2 449.5h0M578.6 445.6h0M579.0 446.1h0M567.6 445.0h0M565.0 444.4h0M590.7 447.2h0M577.5 446.6h0M565.4 445.5h0M570.5 445.5h0M570.7 445.5h0M581.2 445.9h0M597.3 448.5h0M556.6 443.6h0M593.1 447.1h0M587.8 445.8h0M585.7 448.1h0M580.5 446.6h0M589.8 447.3h0M572.7 447.5h0M603.5 449.2h0M586.1 447.2h0"/>
<path stroke="#ed241a" d="M597.1 484.0h0M595.1 484.8h0M567.2 483.6h0M578.0 483.5h0M569.2 483.5h0M603.9 486.5h0M593.3 483.6h0M570.0 481.7h0M585.0 483.9h0M602.0 485.7h0M610.5 486.6h0M592.6 483.4h0M583.4 483.4h0M596.2 485.6h0M587.6 483.6h0M587.6 483.4h0M574.6 482.9h0M608.8 485.3h0M613.7 486.5h0"/>
<path stroke="#f5891c" d="M572.3 472.8h0M602.1 475.0h0M606.3 476.2h0M563.5 472.3h0M596.6 476.2h0M591.8 475.4h0M570.3 472.3h0M585.9 473.2h0M605.6 475.0h0M568.6 472.8h0M574.8 473.5h0M587.4 474.5h0M596.4 474.5h0M607.7 477.3h0M583.8 473.5h0M585.2 473.6h0M600.6 475.5h0M577.5 471.9h0M596.5 476.2h0M611.6 477.0h0M564.4 472.6h0M580.8 474.7h0M565.9 473.7h0M577.0 472.7h0"/>
<path stroke="#b649bf" d="M572.7 490.8h0M598.9 495.4h0M605.2 494.5h0M589.7 492.8h0M592.0 493.8h0M590.4 492.5h0M596.3 494.6h0M582.4 493.4h0M605.2 495.0h0M579.6 493.0h0M584.7 492.4h0M590.4 493.9h0M611.0 494.9h0M579.7 493.2h0M577.8 492.7h0M600.3 494.4h0M576.8 491.3h0M602.7 495.1h0"/>
<path stroke="#8650be" d="M592.1 497.5h0M602.7 499.1h0M596.1 498.0h0M603.2 498.4h0M610.1 499.6h0M599.0 499.4h0M592.2 498.0h0M586.3 497.6h0"/>
<path stroke="#56c62b" d="M603.9 440.8h0M585.0 438.8h0M603.4 440.7h0M572.8 438.1h0M566.9 437.0h0M592.3 440.1h0M567.1 436.5h0M578.1 438.4h0M569.4 437.1h0M589.5 440.2h0M587.8 440.0h0M553.4 435.8h0M564.0 436.8h0M558.2 435.9h0M600.6 440.6h0M554.9 437.0h0M562.3 436.9h0M557.2 436.0h0"/>
<path stroke="#fce508" d="M563.1 461.8h0M589.8 464.0h0M584.3 463.9h0M578.3 463.4h0M607.2 467.3h0M595.3 464.9h0M561.8 462.2h0M570.8 463.5h0M604.2 465.8h0M586.8 464.1h0M607.0 465.9h0M570.3 462.1h0M560.7 462.4h0M586.8 464.1h0M597.8 465.7h0M581.1 462.9h0M559.3 460.6h0M602.7 466.4h0M603.7 465.3h0"/>
<path stroke="#e9ea15" d="M561.1 458.1h0M588.2 459.3h0M585.1 460.5h0M558.2 457.7h0M563.7 458.2h0M604.9 461.7h0M608.1 461.8h0M565.9 458.6h0M588.8 460.4h0M581.5 460.3h0M571.7 459.9h0M574.9 460.5h0M571.6 458.0h0M606.5 462.4h0M605.1 461.4h0M575.7 458.8h0M574.6 458.6h0M579.0 460.4h0M571.4 458.4h0M594.2 460.8h0M590.5 460.3h0M555.8 457.1h0M556.3 456.9h0M594.0 460.7h0M566.3 458.9h0M602.3 461.4h0"/>
<path stroke="#b272c7" d="M591.0 501.6h0M606.6 503.6h0M587.8 500.8h0M581.6 500.0h0M606.7 503.5h0M600.0 504.0h0M596.9 502.2h0M582.9 500.0h0M583.5 500.7h0M585.2 500.8h0M601.3 502.8h0M588.4 501.6h0"/>
<path stroke="#4dcc3f" d="M561.2 433.5h0M599.4 438.4h0M562.2 433.9h0M587.3 437.4h0M578.5 436.6h0M575.5 434.8h0M592.3 436.1h0M572.9 435.2h0M555.6 433.3h0M563.8 434.5h0M576.4 434.7h0M599.4 437.6h0M578.1 434.9h0M587.3 435.2h0M596.9 437.1h0M582.0 435.4h0M595.1 435.4h0M552.8 433.2h0M579.6 435.4h0M571.1 434.7h0M582.8 434.9h0M558.8 433.7h0M554.5 433.2h0M551.2 433.1h0"/>
<path stroke="#fbd611" d="M598.4 468.1h0M602.1 468.8h0M583.3 467.8h0M589.2 467.4h0M602.9 469.4h0M560.6 464.6h0M581.4 466.8h0M578.5 465.9h0M588.1 466.9h0M579.7 465.9h0M566.5 465.4h0M577.2 465.4h0M584.8 467.2h0M606.2 469.1h0"/>
<path stroke="#9dd735" d="M591.7 452.0h0M599.5 453.2h0M567.5 450.6h0M576.8 451.5h0M601.0 455.1h0M557.4 448.5h0M608.1 453.0h0M582.4 451.9h0M593.9 452.6h0M568.1 448.9h0M588.0 452.9h0M597.1 454.2h0M602.1 453.3h0M567.7 449.4h0M555.0 448.2h0M563.5 450.1h0M560.5 449.6h0M586.6 451.2h0M570.4 450.1h0"/>
<path stroke="#b9de42" d="M605.2 458.1h0M561.9 453.3h0M590.2 455.0h0M574.4 454.8h0M584.0 455.0h0M608.0 457.7h0M574.1 454.0h0M557.6 454.3h0M565.6 454.3h0M594.8 456.0h0M571.7 453.6h0M588.1 454.9h0M569.8 454.1h0M555.7 453.1h0M594.6 457.3h0M603.9 456.5h0M569.6 453.2h0M564.3 453.3h0"/>
<path stroke="#9b60c2" d="M588.3 498.1h0M593.4 500.5h0M599.6 500.9h0M580.2 499.4h0M606.3 501.9h0M604.0 501.5h0M606.2 499.6h0M586.1 499.5h0M596.3 500.1h0M595.7 499.9h0M602.0 501.5h0M600.9 499.3h0M604.1 501.4h0M591.1 500.2h0M600.4 500.8h0M587.4 499.8h0M603.2 501.0h0"/>
<path stroke="#93d430" d="M578.5 449.8h0M558.2 447.4h0M586.8 449.2h0M594.1 451.5h0M573.2 450.0h0M558.8 448.8h0M589.5 451.1h0M600.3 451.6h0M580.7 449.3h0M590.1 451.3h0M599.1 450.4h0M563.3 448.8h0M601.9 450.9h0M605.9 452.0h0M607.2 451.4h0M576.5 448.5h0M573.6 449.3h0M590.0 449.5h0M591.6 450.6h0M576.0 449.8h0M556.9 447.7h0M570.5 448.9h0M598.6 451.2h0M577.7 450.0h0M604.5 451.9h0M585.7 450.7h0"/>
<path stroke="#73c126" d="M585.0 444.0h0M571.0 441.9h0M577.9 442.8h0M592.1 443.9h0M592.4 444.7h0M557.0 441.1h0M606.3 446.1h0M605.5 445.3h0M580.7 444.1h0M603.1 445.9h0M599.3 445.5h0M556.0 440.4h0M605.2 444.4h0M569.9 442.9h0M570.2 441.4h0M552.3 440.8h0M595.5 445.0h0M563.3 440.5h0"/>
<path stroke="#dce620" d="M571.2 456.0h0M559.4 456.7h0M563.8 457.4h0M581.9 459.3h0M571.7 456.8h0M608.8 461.1h0M577.6 457.9h0M599.0 460.1h0M601.6 458.8h0M594.6 459.3h0M604.0 460.4h0M596.4 460.1h0"/>
<path stroke="#fceb04" d="M569.4 460.4h0M597.8 464.0h0M574.9 462.4h0M585.0 463.2h0M610.5 465.0h0M556.4 459.2h0M598.3 463.9h0M589.0 463.2h0M607.7 464.7h0M602.1 464.1h0M556.5 460.0h0M593.1 463.5h0M582.5 463.6h0M570.8 461.9h0M560.6 460.0h0M565.5 461.3h0M593.7 462.4h0M579.2 462.0h0M575.7 461.4h0M565.7 461.7h0M606.3 464.1h0M600.7 464.1h0"/>
<path stroke="#addb3c" d="M567.0 451.8h0M571.7 452.7h0M608.9 455.7h0M559.4 450.7h0M560.8 452.1h0M586.8 455.0h0M600.7 454.0h0M592.2 453.3h0M577.1 453.4h0M596.9 455.7h0M596.2 453.1h0M609.5 454.9h0M569.8 451.9h0M584.9 452.6h0M578.7 452.4h0M605.4 455.5h0M585.5 452.9h0M572.7 452.6h0M589.3 454.6h0M601.8 455.8h0M599.3 455.5h0M582.2 453.7h0M560.2 451.2h0M567.5 452.7h0M607.6 456.1h0M583.0 454.7h0M605.9 455.1h0M579.0 452.7h0M564.6 451.5h0M563.4 451.3h0M596.3 454.5h0M557.4 451.1h0M579.8 454.2h0M554.5 451.6h0"/>
<path stroke="#84ce23" d="M579.4 447.4h0M552.9 446.2h0M584.4 448.4h0M588.8 448.7h0M563.2 446.3h0M553.9 446.0h0M565.7 446.5h0M558.8 446.1h0M581.2 448.5h0M595.7 449.1h0M604.6 449.7h0M571.8 446.6h0M559.5 446.7h0M580.0 447.9h0M570.6 446.1h0M604.6 449.7h0M600.9 449.0h0M565.1 445.8h0M592.8 448.6h0M572.2 447.7h0M567.6 446.2h0"/>
<path stroke="#cc46bd" d="M604.9 494.3h0M597.3 492.6h0M584.9 491.0h0M588.4 491.0h0M610.1 492.9h0M571.1 489.5h0M601.6 493.1h0M573.9 490.9h0M587.3 491.7h0M581.6 491.9h0M576.7 490.4h0M589.9 490.0h0M586.6 491.3h0M594.4 492.9h0M596.4 492.7h0M572.4 489.0h0M602.1 493.0h0M592.8 491.2h0M579.5 490.6h0M608.5 493.9h0M580.3 489.6h0M578.9 491.7h0M574.3 490.9h0M606.6 492.8h0M604.8 493.1h0M583.4 491.2h0"/>
<path stroke="#ee2e19" d="M589.2 482.2h0M579.0 480.7h0M581.1 481.0h0M584.4 481.8h0M585.3 482.0h0M583.2 482.5h0M609.3 484.3h0M587.8 482.2h0M613.0 484.6h0M609.7 485.7h0M594.4 483.8h0M578.5 482.3h0M605.7 484.4h0M574.6 480.7h0M603.6 484.1h0M608.7 485.2h0M592.1 482.7h0M565.8 481.7h0M572.9 481.2h0M572.1 482.2h0M576.4 482.1h0M580.5 483.0h0M566.5 480.8h0M604.1 483.8h0"/>
<path stroke="#f9ce15" d="M592.9 469.3h0M612.5 471.6h0M586.0 467.6h0M567.2 466.1h0M603.3 469.2h0M558.6 466.1h0M574.0 467.5h0M585.9 469.5h0M597.3 469.4h0M576.6 467.3h0M568.7 465.7h0M609.5 470.4h0M607.6 469.5h0M577.8 467.8h0M592.2 469.5h0M601.2 469.4h0M576.0 467.1h0M572.7 467.6h0M596.2 470.0h0M579.6 467.4h0M598.2 469.5h0M587.9 469.9h0M612.7 471.1h0M599.8 470.1h0"/>
<path stroke="#944dbf" d="M605.6 498.2h0M596.4 497.6h0M587.0 495.4h0M577.7 494.7h0M581.1 494.6h0M608.3 498.8h0M579.7 495.4h0M584.0 496.4h0M600.2 498.2h0M577.8 496.1h0M593.2 496.2h0M582.3 496.3h0M589.5 497.4h0M597.1 497.2h0M583.7 495.6h0M579.6 496.4h0"/>
<path stroke="#ef4419" d="M565.9 476.3h0M602.2 478.6h0M580.3 479.8h0M594.0 479.8h0M579.5 478.4h0M590.5 479.7h0M567.9 476.2h0M586.2 478.5h0M601.5 480.3h0M583.7 479.3h0M563.9 476.5h0M576.9 479.2h0M602.4 480.0h0M584.8 478.1h0M563.5 475.5h0M572.2 478.3h0M591.1 478.5h0M613.8 481.6h0M598.4 479.7h0M598.6 480.4h0M570.4 477.8h0M604.7 479.8h0M576.8 476.5h0M612.2 481.2h0M566.0 477.3h0M589.6 479.6h0M597.6 478.4h0"/>
<path stroke="#fbbb13" d="M564.6 469.2h0M602.1 473.1h0M582.0 471.2h0M609.6 473.9h0M603.3 472.5h0M588.8 471.1h0M611.5 474.4h0M579.7 470.2h0M613.0 473.2h0M600.0 473.3h0M577.7 469.8h0M562.7 469.3h0M584.4 471.5h0M608.7 472.9h0M605.5 472.5h0M583.7 470.9h0M580.7 470.6h0M560.2 469.2h0M572.9 469.6h0M602.1 472.3h0M609.1 473.0h0"/>
<path stroke="#44cbee" d="M572.1 419.8h0M561.4 419.1h0M583.7 422.2h0M576.9 420.2h0M581.9 420.8h0M558.4 418.9h0M556.8 420.3h0M556.6 418.8h0M573.3 421.6h0M579.7 421.4h0M565.6 420.6h0"/>
<path stroke="#6cdee1" d="M577.9 424.0h0M575.5 424.0h0M584.4 425.5h0M568.7 423.4h0M583.1 425.6h0M563.5 423.4h0M576.4 424.1h0M575.8 424.5h0M572.8 424.3h0M553.9 422.1h0M552.5 422.2h0M556.1 422.3h0M580.1 423.9h0M555.9 422.1h0M560.5 423.1h0M562.3 422.7h0"/>
<path stroke="#c9e233" d="M605.4 457.9h0M585.3 456.4h0M570.4 456.3h0M588.0 456.9h0M608.6 459.6h0M592.0 458.1h0M599.4 459.2h0M567.8 456.2h0M578.7 456.1h0M590.0 458.2h0M583.4 457.8h0M588.8 456.4h0M565.9 455.2h0M588.1 456.5h0M572.8 456.5h0M580.9 457.1h0M598.9 458.3h0M603.4 458.6h0M560.2 454.7h0M608.5 458.7h0M577.4 455.5h0M596.7 459.3h0M579.1 456.6h0M568.7 456.8h0M563.8 455.4h0M585.9 456.6h0"/>
<path stroke="#f05418" d="M569.9 474.9h0M600.7 478.2h0M598.2 478.8h0M584.9 477.1h0M608.6 480.1h0M611.5 478.4h0M610.5 480.4h0M606.4 478.7h0M586.8 477.4h0M581.7 475.8h0M573.2 475.6h0M583.1 477.1h0M575.3 475.2h0"/>
<path stroke="#34a4e4" d="M553.2 415.6h0M552.3 416.2h0M569.1 418.1h0M558.7 416.7h0M564.5 416.8h0M554.9 416.4h0M572.6 419.0h0M558.4 417.0h0M552.5 416.7h0M563.0 417.1h0"/>
<path stroke="#6adba5" d="M564.0 429.9h0M562.7 429.6h0M598.4 433.2h0M562.3 429.6h0M590.3 431.4h0M578.9 430.9h0M595.1 433.2h0M557.0 429.4h0M598.1 433.3h0M574.4 430.7h0M568.3 429.9h0M556.2 429.1h0M583.1 431.4h0M585.1 431.3h0M583.5 431.5h0M551.4 429.4h0M585.2 431.6h0M561.6 430.1h0M558.6 427.9h0M588.2 431.9h0M579.4 429.5h0M580.6 431.6h0M573.2 429.8h0"/>
<path stroke="#ed1443" d="M585.4 486.6h0M592.0 487.1h0M613.6 488.8h0M576.3 485.7h0M598.4 487.0h0M586.0 486.6h0M595.0 488.2h0M601.3 488.0h0M604.9 487.0h0M590.2 487.0h0M569.1 484.3h0M595.6 485.8h0M600.8 487.2h0M575.3 485.9h0M603.6 487.3h0M613.6 488.8h0M585.0 487.0h0M608.4 487.0h0M609.5 488.7h0M579.1 484.4h0M582.7 485.7h0M606.8 488.7h0M575.0 484.8h0M572.5 485.3h0"/>
<path stroke="#57d3e9" d="M562.7 419.8h0M569.2 421.2h0M566.6 420.8h0M551.4 420.6h0M555.1 421.6h0M575.6 421.2h0M557.8 420.9h0M570.9 422.5h0M582.6 423.6h0M552.1 420.2h0M561.1 420.8h0M569.6 422.0h0M553.9 420.7h0M575.6 422.3h0M584.9 422.8h0M565.5 420.9h0M572.8 423.3h0M588.5 423.8h0M566.4 421.9h0"/>
<path stroke="#fbed05" d="M609.3 464.5h0M598.2 462.3h0M593.3 462.4h0M596.6 461.8h0M566.8 459.6h0M583.5 461.4h0M610.5 463.7h0M563.4 458.7h0M569.4 459.5h0M586.0 461.1h0M591.1 461.5h0M608.4 462.6h0M574.3 459.9h0M583.7 460.8h0M579.2 460.4h0M577.6 461.3h0"/>
<path stroke="#2832b1" d="M571.6 413.5h0M558.8 411.5h0M576.4 414.2h0M556.5 413.8h0M556.3 411.9h0M559.0 413.1h0M575.0 414.9h0M558.7 413.4h0M562.5 413.6h0M567.8 414.4h0M566.5 414.7h0M550.3 411.8h0M551.6 411.8h0"/>
<path stroke="#5ad16a" d="M551.2 431.9h0M585.2 433.7h0M598.0 435.0h0M568.4 433.5h0M549.9 431.0h0M583.5 434.5h0M568.8 433.1h0M559.4 432.0h0M565.7 433.3h0M590.7 435.0h0M566.3 431.9h0M576.1 433.8h0M580.1 433.8h0M557.2 432.5h0M585.8 435.8h0"/>
<path stroke="#f7a817" d="M573.2 472.0h0M607.2 474.4h0M599.6 474.4h0M610.3 474.9h0M605.8 474.0h0M591.8 472.8h0M594.9 473.5h0M568.8 471.1h0M573.0 470.4h0M576.1 471.3h0M567.3 471.5h0M565.8 470.3h0M589.3 472.7h0M562.3 470.5h0M589.7 473.2h0M564.0 471.3h0M566.5 470.9h0M580.7 472.3h0M598.6 473.1h0"/>
<path stroke="#7bc526" d="M561.7 442.3h0M568.8 443.8h0M563.3 444.1h0M590.5 445.9h0M566.8 442.4h0M575.7 444.3h0M573.0 443.9h0M561.1 443.6h0M597.9 446.0h0M573.7 443.8h0M599.5 445.8h0M604.4 445.5h0M562.4 442.5h0M584.6 446.0h0M576.7 444.0h0M581.6 445.6h0M599.5 447.2h0M601.6 446.9h0M595.7 446.8h0M585.9 445.5h0M574.6 443.6h0"/>
<path stroke="#ee3619" d="M598.4 482.9h0M609.4 482.2h0M600.5 481.7h0M564.4 478.5h0M605.0 481.7h0M570.2 480.1h0M610.3 483.9h0M569.3 478.8h0M576.6 480.3h0M592.8 480.9h0M584.0 480.3h0M590.3 481.1h0M584.5 481.6h0M595.3 481.0h0M575.0 479.7h0M612.8 483.2h0M607.6 483.6h0M579.6 479.9h0M573.6 478.6h0M565.5 478.7h0M571.5 480.4h0M610.8 482.6h0M592.9 480.6h0M570.0 479.6h0"/>
<path stroke="#2c50bc" d="M564.5 414.3h0M577.6 417.0h0M570.6 415.3h0M554.1 414.1h0M560.7 415.2h0M579.5 417.2h0M560.3 415.1h0M563.3 415.4h0M563.9 415.0h0M578.7 415.5h0M573.8 416.0h0M553.2 413.1h0M550.1 413.1h0"/>
<path stroke="#5cc32a" d="M559.8 437.7h0M551.8 436.4h0M550.9 437.0h0M575.9 439.8h0M563.1 438.2h0M561.2 438.2h0M555.2 438.3h0M601.8 442.0h0M571.5 439.4h0M598.0 441.3h0M574.2 438.8h0M564.8 438.9h0M565.6 438.9h0M560.1 438.2h0M587.3 441.5h0"/>
<path stroke="#fac515" d="M576.4 469.3h0M590.6 471.1h0M598.3 470.8h0M569.3 468.3h0M595.2 471.1h0M560.8 468.5h0M593.4 471.3h0M574.1 469.0h0M584.2 469.2h0M570.6 467.7h0M563.0 467.6h0M596.1 471.1h0M579.9 469.5h0M561.7 467.5h0M596.7 471.7h0M567.6 468.4h0M561.9 468.4h0"/>
<path stroke="#4bca2c" d="M589.9 438.3h0M594.3 438.4h0M574.8 436.6h0M552.3 435.0h0M584.0 438.4h0M573.1 435.3h0M594.7 438.4h0M560.6 435.1h0M595.8 438.8h0M580.2 437.3h0M602.2 437.8h0M567.9 435.3h0M556.0 434.1h0M591.9 437.7h0M580.8 437.3h0M573.2 438.0h0M602.1 438.5h0M599.9 438.4h0M567.5 435.7h0M577.9 437.0h0M570.2 436.6h0M595.7 439.0h0M585.9 438.3h0"/>
<path stroke="#165c25" d="M559.4 404.8h0M555.3 402.8h0M563.7 406.4h0M552.3 406.7h0M557.2 404.5h0M559.3 404.5h0M553.6 405.6h0M561.3 404.8h0"/>
<path stroke="#ee0f76" d="M605.3 489.6h0M568.5 485.7h0M598.2 489.6h0M579.7 486.9h0M588.7 487.5h0M610.1 490.3h0M595.2 490.7h0M571.4 487.6h0M609.2 490.8h0M600.2 488.9h0M592.2 488.6h0M602.5 490.2h0M593.0 487.6h0M611.3 489.5h0M578.0 487.4h0M583.8 486.9h0M573.5 485.7h0M570.9 487.6h0M585.9 487.1h0M596.4 488.5h0M569.2 486.3h0M573.4 486.7h0M578.2 487.1h0"/>
<path stroke="#61d584" d="M560.0 430.3h0M554.2 430.4h0M592.9 434.3h0M578.6 431.7h0M565.6 431.2h0M587.0 433.0h0M577.5 432.5h0M559.4 431.7h0M568.4 430.6h0M593.9 432.9h0M581.2 431.3h0M552.6 430.6h0M553.9 429.6h0M551.6 430.0h0M570.8 431.4h0M589.5 432.9h0M579.6 432.7h0M573.4 432.3h0M551.1 428.7h0M571.7 431.3h0M590.2 434.7h0"/>
<path stroke="#fbe00a" d="M565.4 465.0h0M611.3 467.8h0M584.9 466.3h0M589.9 466.8h0M562.9 464.8h0M597.2 466.1h0M591.9 465.5h0M566.2 464.0h0M608.8 468.0h0M564.6 464.1h0M594.8 467.4h0M608.2 467.7h0M562.5 463.4h0M565.2 464.6h0M599.8 466.0h0M596.7 467.3h0M572.9 464.2h0M595.2 465.4h0M579.8 464.9h0M574.0 464.8h0M611.6 467.8h0M558.2 463.3h0M570.9 464.0h0"/>
<path stroke="#31c0f0" d="M579.3 420.5h0M576.4 419.4h0M560.6 418.5h0M553.3 417.7h0M574.9 419.5h0M551.1 417.7h0M578.3 420.5h0M566.2 418.8h0M570.0 419.2h0M558.4 418.3h0"/>
<path stroke="#f3711b" d="M588.2 476.5h0M572.0 473.2h0M612.8 478.0h0M579.4 475.0h0M590.7 476.6h0M569.4 474.5h0M599.5 477.2h0M584.3 475.4h0M570.2 474.6h0M593.6 476.2h0M613.4 478.8h0M593.9 476.5h0M577.5 474.5h0M576.9 474.7h0M605.6 477.5h0M583.0 474.7h0M604.9 478.2h0M567.7 473.9h0"/>
<path stroke="#c581cb" d="M597.5 503.5h0M594.0 503.7h0M606.2 504.4h0M594.8 503.7h0M591.0 502.6h0"/>
<path stroke="#3471cb" d="M565.0 415.2h0M571.6 416.6h0M551.5 414.1h0M573.4 416.7h0M579.8 417.6h0M571.7 416.6h0M568.6 417.3h0M549.7 414.1h0"/>
<path stroke="#66bf28" d="M568.0 440.1h0M597.9 443.6h0M598.0 442.7h0M602.1 443.7h0M574.2 440.9h0M558.0 440.3h0M593.2 441.9h0M566.6 440.2h0M594.9 443.7h0M590.4 441.9h0M559.3 440.1h0M582.7 442.5h0M556.7 439.9h0M593.5 442.4h0M581.7 442.6h0M575.4 441.4h0M562.7 439.5h0M595.0 442.1h0M594.6 443.7h0M587.9 443.2h0M585.0 442.7h0M567.1 440.6h0M586.0 442.2h0M603.4 443.4h0M569.6 439.7h0"/>
<path stroke="#db2e9f" d="M599.0 491.1h0M573.1 488.4h0M594.3 489.6h0M570.3 488.8h0M589.9 488.6h0M581.3 489.0h0M610.2 491.2h0M594.0 490.3h0M582.5 489.0h0M599.2 490.8h0M598.7 492.3h0M575.5 487.9h0M586.5 489.6h0M603.4 491.1h0"/>
<path stroke="#034449" d="M569.7 408.7h0M565.2 409.5h0M554.8 405.3h0M554.2 407.4h0M563.5 408.0h0M561.5 406.8h0M563.0 407.3h0M557.9 408.3h0M559.3 405.8h0M554.3 407.6h0M563.8 405.9h0"/>
<path stroke="#d493d1" d="M597.6 505.4h0M598.3 505.5h0M605.7 506.1h0M602.5 505.7h0M591.8 504.0h0"/>
<path stroke="#6cddb4" d="M593.2 431.2h0M593.6 429.7h0M562.9 425.9h0M576.6 427.9h0M567.4 428.5h0M559.4 428.9h0M594.7 430.9h0M589.8 429.4h0M574.7 427.9h0M565.8 428.2h0M585.1 429.5h0M570.4 428.2h0M582.8 429.7h0M552.7 427.2h0M588.2 429.3h0M560.2 428.0h0M571.5 428.4h0M554.7 427.2h0M556.6 426.5h0"/>
<path stroke="#76e3d7" d="M577.8 424.7h0M552.2 423.3h0M580.8 425.7h0M588.3 426.7h0M555.0 424.2h0M586.8 426.3h0M554.8 423.9h0M589.7 427.5h0M558.5 424.1h0M578.7 425.7h0M565.4 425.5h0M582.9 425.9h0M591.9 426.6h0M579.8 425.1h0M569.5 424.9h0M586.6 425.9h0M580.8 426.6h0M567.3 425.3h0"/>
<path stroke="#a84bbf" d="M599.2 495.5h0M574.7 494.4h0M576.1 494.8h0M593.7 494.6h0M607.8 496.7h0M610.2 496.9h0M576.3 494.8h0M574.0 493.6h0M598.2 496.2h0M587.1 495.1h0M608.9 496.5h0M589.6 495.8h0"/>
<path stroke="#1f3787" d="M564.0 411.1h0M560.4 409.6h0M560.1 408.7h0M565.6 411.3h0M552.0 408.6h0M566.8 409.8h0M561.1 409.7h0"/>
<path stroke="#72e0c5" d="M590.8 428.0h0M552.2 425.9h0M563.4 427.1h0M552.9 425.3h0M581.4 428.0h0M572.5 426.2h0M574.4 426.9h0M590.2 429.4h0M568.6 426.6h0M565.4 426.0h0M563.2 425.3h0M586.9 428.5h0M576.4 428.3h0"/>
<path stroke="#d99fd6" d="M597.3 505.9h0M599.3 506.5h0M597.1 506.3h0M598.6 507.1h0M605.1 506.9h0M602.2 506.6h0M606.8 506.9h0"/>
<path stroke="#252d99" d="M567.7 412.3h0M556.2 412.4h0M573.4 414.0h0M573.8 412.8h0M555.4 410.9h0M560.6 410.6h0M569.2 412.5h0M570.4 412.7h0M564.1 412.7h0"/>
<path stroke="#e0afdd" d="M601.6 508.5h0M602.3 509.1h0M604.5 507.7h0"/>
<path stroke="#064a26" d="M558.3 402.6h0"/>
</g>
<clipPath id="c21"><rect x="403.50" y="324.53" width="73.38" height="52.50"/></clipPath>
<g clip-path="url(#c21)">
<rect x="402.50" y="323.53" width="75.38" height="54.50" fill="#f9fcfb"/>
</g>
<clipPath id="c22"><rect x="403.50" y="393.09" width="73.38" height="90.67"/></clipPath>
<g clip-path="url(#c22)">
<rect x="402.50" y="392.09" width="75.38" height="92.67" fill="#cccc99"/>
</g>
<clipPath id="c23"><rect x="476.88" y="309.10" width="11.42" height="15.43"/></clipPath>
<g clip-path="url(#c23)">
<rect x="475.88" y="308.10" width="13.42" height="17.43" fill="#ffe0e5"/>
</g>
<clipPath id="c24"><rect x="476.88" y="324.53" width="11.42" height="52.50"/></clipPath>
<g clip-path="url(#c24)">
<rect x="475.88" y="323.53" width="13.42" height="54.50" fill="#f9e4e8"/>
</g>
<clipPath id="c25"><rect x="476.88" y="377.03" width="11.42" height="16.07"/></clipPath>
<g clip-path="url(#c25)">
<rect x="475.88" y="376.03" width="13.42" height="18.07" fill="#ffe0e5"/>
</g>
<clipPath id="c26"><rect x="476.88" y="393.09" width="11.42" height="90.67"/></clipPath>
<g clip-path="url(#c26)">
<rect x="475.88" y="392.09" width="13.42" height="92.67" fill="#ccb989"/>
</g>
<clipPath id="c27"><rect x="476.88" y="483.77" width="11.42" height="32.13"/></clipPath>
<g clip-path="url(#c27)">
<rect x="475.88" y="482.77" width="13.42" height="34.13" fill="#ffe0e5"/>
</g>
<clipPath id="c28"><rect x="488.30" y="324.53" width="87.17" height="52.50"/></clipPath>
<g clip-path="url(#c28)">
<rect x="487.30" y="323.53" width="89.17" height="54.50" fill="#f9fcfb"/>
</g>
<clipPath id="c29"><rect x="488.30" y="393.09" width="87.17" height="90.67"/></clipPath>
<g clip-path="url(#c29)">
<rect x="487.30" y="392.09" width="89.17" height="92.67" fill="#cccc99"/>
<g fill="none" stroke-linecap="round" stroke-width="3.60">
<path stroke="#ca8611" d="M572.3 472.8h0M563.5 472.3h0M570.3 472.3h0M568.6 472.8h0M574.8 473.5h0M564.4 472.6h0M565.9 473.7h0M577.0 472.7h0"/>
<path stroke="#ccbf0c" d="M563.1 461.8h0M561.8 462.2h0M570.8 463.5h0M570.3 462.1h0M560.7 462.4h0M559.3 460.6h0"/>
<path stroke="#bfcb1a" d="M561.1 458.1h0M558.2 457.7h0M563.7 458.2h0M565.9 458.6h0M571.7 459.9h0M574.9 460.5h0M571.6 458.0h0M575.7 458.8h0M574.6 458.6h0M571.4 458.4h0M555.8 457.1h0M556.3 456.9h0M566.3 458.9h0"/>
<path stroke="#4eb831" d="M561.2 433.5h0M562.2 433.9h0M575.5 434.8h0M572.9 435.2h0M555.6 433.3h0M563.8 434.5h0M576.4 434.7h0M552.8 433.2h0M571.1 434.7h0M558.8 433.7h0M554.5 433.2h0M551.2 433.1h0"/>
<path stroke="#b6c921" d="M571.2 456.0h0M559.4 456.7h0M563.8 457.4h0M571.7 456.8h0"/>
<path stroke="#cbc50d" d="M569.4 460.4h0M574.9 462.4h0M556.4 459.2h0M556.5 460.0h0M570.8 461.9h0M560.6 460.0h0M565.5 461.3h0M575.7 461.4h0M565.7 461.7h0"/>
<path stroke="#80bb23" d="M554.0 444.0h0M555.7 444.1h0M567.6 445.0h0M565.0 444.4h0M565.4 445.5h0M570.5 445.5h0M570.7 445.5h0M556.6 443.6h0M572.7 447.5h0"/>
<path stroke="#99c529" d="M567.0 451.8h0M571.7 452.7h0M559.4 450.7h0M560.8 452.1h0M577.1 453.4h0M569.8 451.9h0M572.7 452.6h0M560.2 451.2h0M567.5 452.7h0M564.6 451.5h0M563.4 451.3h0M557.4 451.1h0M554.5 451.6h0"/>
<path stroke="#cd5e16" d="M565.9 476.3h0M567.9 476.2h0M563.9 476.5h0M576.9 479.2h0M563.5 475.5h0M572.2 478.3h0M570.4 477.8h0M576.8 476.5h0M566.0 477.3h0"/>
<path stroke="#cca513" d="M564.6 469.2h0M562.7 469.3h0M560.2 469.2h0M572.9 469.6h0"/>
<path stroke="#3bb198" d="M572.1 419.8h0M561.4 419.1h0M576.9 420.2h0M558.4 418.9h0M556.8 420.3h0M556.6 418.8h0M573.3 421.6h0M565.6 420.6h0"/>
<path stroke="#cc6815" d="M569.9 474.9h0M573.2 475.6h0M575.3 475.2h0"/>
<path stroke="#329999" d="M553.2 415.6h0M552.3 416.2h0M569.1 418.1h0M558.7 416.7h0M564.5 416.8h0M554.9 416.4h0M572.6 419.0h0M558.4 417.0h0M552.5 416.7h0M563.0 417.1h0"/>
<path stroke="#89c225" d="M558.2 447.4h0M573.2 450.0h0M558.8 448.8h0M563.3 448.8h0M576.5 448.5h0M573.6 449.3h0M576.0 449.8h0M556.9 447.7h0M570.5 448.9h0"/>
<path stroke="#4cb95f" d="M564.0 429.9h0M562.7 429.6h0M562.3 429.6h0M557.0 429.4h0M574.4 430.7h0M568.3 429.9h0M556.2 429.1h0M551.4 429.4h0M561.6 430.1h0M558.6 427.9h0M573.2 429.8h0"/>
<path stroke="#43b798" d="M562.7 419.8h0M569.2 421.2h0M566.6 420.8h0M551.4 420.6h0M555.1 421.6h0M575.6 421.2h0M557.8 420.9h0M570.9 422.5h0M552.1 420.2h0M561.1 420.8h0M569.6 422.0h0M553.9 420.7h0M575.6 422.3h0M565.5 420.9h0M572.8 423.3h0M566.4 421.9h0"/>
<path stroke="#373e91" d="M571.6 413.5h0M558.8 411.5h0M576.4 414.2h0M556.5 413.8h0M556.3 411.9h0M559.0 413.1h0M575.0 414.9h0M558.7 413.4h0M562.5 413.6h0M567.8 414.4h0M566.5 414.7h0M550.3 411.8h0M551.6 411.8h0"/>
<path stroke="#4cb83d" d="M551.2 431.9h0M568.4 433.5h0M549.9 431.0h0M568.8 433.1h0M559.4 432.0h0M565.7 433.3h0M566.3 431.9h0M576.1 433.8h0M557.2 432.5h0"/>
<path stroke="#cb9a13" d="M573.2 472.0h0M568.8 471.1h0M573.0 470.4h0M576.1 471.3h0M567.3 471.5h0M565.8 470.3h0M562.3 470.5h0M564.0 471.3h0M566.5 470.9h0"/>
<path stroke="#7bb723" d="M561.7 442.3h0M568.8 443.8h0M563.3 444.1h0M566.8 442.4h0M575.7 444.3h0M573.0 443.9h0M561.1 443.6h0M573.7 443.8h0M562.4 442.5h0M576.7 444.0h0M574.6 443.6h0"/>
<path stroke="#325e98" d="M564.5 414.3h0M570.6 415.3h0M554.1 414.1h0M560.7 415.2h0M560.3 415.1h0M563.3 415.4h0M563.9 415.0h0M573.8 416.0h0M553.2 413.1h0M550.1 413.1h0"/>
<path stroke="#63b727" d="M559.8 437.7h0M551.8 436.4h0M550.9 437.0h0M575.9 439.8h0M563.1 438.2h0M561.2 438.2h0M555.2 438.3h0M571.5 439.4h0M574.2 438.8h0M564.8 438.9h0M565.6 438.9h0M560.1 438.2h0"/>
<path stroke="#ccab12" d="M576.4 469.3h0M569.3 468.3h0M560.8 468.5h0M574.1 469.0h0M570.6 467.7h0M563.0 467.6h0M561.7 467.5h0M567.6 468.4h0M561.9 468.4h0"/>
<path stroke="#aac728" d="M570.4 456.3h0M567.8 456.2h0M565.9 455.2h0M572.8 456.5h0M560.2 454.7h0M568.7 456.8h0M563.8 455.4h0"/>
<path stroke="#3b6b21" d="M559.4 404.8h0M555.3 402.8h0M563.7 406.4h0M552.3 406.7h0M557.2 404.5h0M559.3 404.5h0M553.6 405.6h0M561.3 404.8h0"/>
<path stroke="#4bb849" d="M560.0 430.3h0M554.2 430.4h0M565.6 431.2h0M559.4 431.7h0M568.4 430.6h0M552.6 430.6h0M553.9 429.6h0M551.6 430.0h0M570.8 431.4h0M573.4 432.3h0M551.1 428.7h0M571.7 431.3h0"/>
<path stroke="#cbba0d" d="M565.4 465.0h0M562.9 464.8h0M566.2 464.0h0M564.6 464.1h0M562.5 463.4h0M565.2 464.6h0M572.9 464.2h0M574.0 464.8h0M558.2 463.3h0M570.9 464.0h0"/>
<path stroke="#d04318" d="M567.2 483.6h0M569.2 483.5h0M570.0 481.7h0M574.6 482.9h0"/>
<path stroke="#50bd94" d="M575.5 424.0h0M568.7 423.4h0M563.5 423.4h0M576.4 424.1h0M575.8 424.5h0M572.8 424.3h0M553.9 422.1h0M552.5 422.2h0M556.1 422.3h0M555.9 422.1h0M560.5 423.1h0M562.3 422.7h0"/>
<path stroke="#317699" d="M565.0 415.2h0M571.6 416.6h0M551.5 414.1h0M573.4 416.7h0M571.7 416.6h0M568.6 417.3h0M549.7 414.1h0"/>
<path stroke="#cbb00f" d="M567.2 466.1h0M558.6 466.1h0M574.0 467.5h0M576.6 467.3h0M568.7 465.7h0M576.0 467.1h0M572.7 467.6h0"/>
<path stroke="#34a998" d="M576.4 419.4h0M560.6 418.5h0M553.3 417.7h0M574.9 419.5h0M551.1 417.7h0M566.2 418.8h0M570.0 419.2h0M558.4 418.3h0"/>
<path stroke="#6fb325" d="M568.0 440.1h0M574.2 440.9h0M558.0 440.3h0M566.6 440.2h0M559.3 440.1h0M556.7 439.9h0M575.4 441.4h0M562.7 439.5h0M567.1 440.6h0M569.6 439.7h0"/>
<path stroke="#54b92a" d="M574.8 436.6h0M552.3 435.0h0M573.1 435.3h0M560.6 435.1h0M567.9 435.3h0M556.0 434.1h0M573.2 438.0h0M567.5 435.7h0M570.2 436.6h0"/>
<path stroke="#385d2e" d="M569.7 408.7h0M565.2 409.5h0M554.8 405.3h0M554.2 407.4h0M563.5 408.0h0M561.5 406.8h0M563.0 407.3h0M557.9 408.3h0M559.3 405.8h0M554.3 407.6h0M563.8 405.9h0"/>
<path stroke="#82be23" d="M552.9 446.2h0M563.2 446.3h0M553.9 446.0h0M565.7 446.5h0M558.8 446.1h0M571.8 446.6h0M559.5 446.7h0M570.6 446.1h0M565.1 445.8h0M572.2 447.7h0M567.6 446.2h0"/>
<path stroke="#78b323" d="M571.0 441.9h0M557.0 441.1h0M556.0 440.4h0M569.9 442.9h0M570.2 441.4h0M552.3 440.8h0M563.3 440.5h0"/>
<path stroke="#cd5417" d="M564.4 478.5h0M570.2 480.1h0M569.3 478.8h0M576.6 480.3h0M575.0 479.7h0M573.6 478.6h0M565.5 478.7h0M571.5 480.4h0M570.0 479.6h0"/>
<path stroke="#324c53" d="M564.0 411.1h0M560.4 409.6h0M560.1 408.7h0M565.6 411.3h0M552.0 408.6h0M566.8 409.8h0M561.1 409.7h0"/>
<path stroke="#90c327" d="M567.5 450.6h0M576.8 451.5h0M557.4 448.5h0M568.1 448.9h0M567.7 449.4h0M555.0 448.2h0M563.5 450.1h0M560.5 449.6h0M570.4 450.1h0"/>
<path stroke="#cb7913" d="M572.0 473.2h0M569.4 474.5h0M570.2 474.6h0M576.9 474.7h0M567.7 473.9h0"/>
<path stroke="#313f71" d="M567.7 412.3h0M556.2 412.4h0M573.4 414.0h0M573.8 412.8h0M555.4 410.9h0M560.6 410.6h0M569.2 412.5h0M570.4 412.7h0M564.1 412.7h0"/>
<path stroke="#51bd7b" d="M552.2 425.9h0M563.4 427.1h0M552.9 425.3h0M572.5 426.2h0M574.4 426.9h0M568.6 426.6h0M565.4 426.0h0M563.2 425.3h0M576.4 428.3h0"/>
<path stroke="#a1c62a" d="M561.9 453.3h0M574.4 454.8h0M574.1 454.0h0M557.6 454.3h0M565.6 454.3h0M571.7 453.6h0M569.8 454.1h0M555.7 453.1h0M569.6 453.2h0M564.3 453.3h0"/>
<path stroke="#53bf89" d="M552.2 423.3h0M555.0 424.2h0M554.8 423.9h0M558.5 424.1h0M565.4 425.5h0M569.5 424.9h0M567.3 425.3h0"/>
<path stroke="#4ebb6b" d="M562.9 425.9h0M576.6 427.9h0M567.4 428.5h0M559.4 428.9h0M574.7 427.9h0M565.8 428.2h0M570.4 428.2h0M552.7 427.2h0M560.2 428.0h0M571.5 428.4h0M554.7 427.2h0M556.6 426.5h0"/>
<path stroke="#5db828" d="M572.8 438.1h0M566.9 437.0h0M567.1 436.5h0M569.4 437.1h0M553.4 435.8h0M564.0 436.8h0M558.2 435.9h0M554.9 437.0h0M562.3 436.9h0M557.2 436.0h0"/>
<path stroke="#cd342b" d="M569.1 484.3h0M575.0 484.8h0M572.5 485.3h0"/>
<path stroke="#c8c90f" d="M566.8 459.6h0M563.4 458.7h0M569.4 459.5h0M574.3 459.9h0"/>
<path stroke="#cbb50b" d="M560.6 464.6h0M566.5 465.4h0M577.2 465.4h0"/>
<path stroke="#ce4d17" d="M574.6 480.7h0M565.8 481.7h0M572.9 481.2h0M572.1 482.2h0M576.4 482.1h0M566.5 480.8h0"/>
<path stroke="#3a6021" d="M558.3 402.6h0"/>
</g>
</g>
<clipPath id="c30"><rect x="575.47" y="309.10" width="26.04" height="15.43"/></clipPath>
<g clip-path="url(#c30)">
<rect x="574.47" y="308.10" width="28.04" height="17.43" fill="#d6f8d6"/>
</g>
<clipPath id="c31"><rect x="575.47" y="324.53" width="26.04" height="52.50"/></clipPath>
<g clip-path="url(#c31)">
<rect x="574.47" y="323.53" width="28.04" height="54.50" fill="#daf7dc"/>
</g>
<clipPath id="c32"><rect x="575.47" y="377.03" width="26.04" height="16.07"/></clipPath>
<g clip-path="url(#c32)">
<rect x="574.47" y="376.03" width="28.04" height="18.07" fill="#d6f8d6"/>
</g>
<clipPath id="c33"><rect x="575.47" y="393.09" width="26.04" height="90.67"/></clipPath>
<g clip-path="url(#c33)">
<rect x="574.47" y="392.09" width="28.04" height="92.67" fill="#b3c880"/>
<g fill="none" stroke-linecap="round" stroke-width="3.60">
<path stroke="#82bc2c" d="M603.0 448.4h0M594.4 448.0h0M578.6 445.6h0M579.0 446.1h0M590.7 447.2h0M577.5 446.6h0M581.2 445.9h0M597.3 448.5h0M593.1 447.1h0M587.8 445.8h0M585.7 448.1h0M580.5 446.6h0M589.8 447.3h0M586.1 447.2h0"/>
<path stroke="#b36b22" d="M597.1 484.0h0M595.1 484.8h0M578.0 483.5h0M593.3 483.6h0M585.0 483.9h0M592.6 483.4h0M583.4 483.4h0M587.6 483.6h0M587.6 483.4h0M574.6 482.9h0"/>
<path stroke="#aac52c" d="M588.2 459.3h0M585.1 460.5h0M588.8 460.4h0M581.5 460.3h0M574.9 460.5h0M575.7 458.8h0M574.6 458.6h0M579.0 460.4h0M594.2 460.8h0M590.5 460.3h0M594.0 460.7h0M602.3 461.4h0"/>
<path stroke="#b2bf26" d="M589.8 464.0h0M584.3 463.9h0M578.3 463.4h0M595.3 464.9h0M586.8 464.1h0M586.8 464.1h0M597.8 465.7h0M581.1 462.9h0M602.7 466.4h0"/>
<path stroke="#b2b825" d="M598.4 468.1h0M602.1 468.8h0M583.3 467.8h0M589.2 467.4h0M602.9 469.4h0M581.4 466.8h0M578.5 465.9h0M588.1 466.9h0M579.7 465.9h0M577.2 465.4h0M584.8 467.2h0"/>
<path stroke="#8cc12f" d="M591.7 452.0h0M599.5 453.2h0M576.8 451.5h0M601.0 455.1h0M582.4 451.9h0M593.9 452.6h0M588.0 452.9h0M597.1 454.2h0M602.1 453.3h0M586.6 451.2h0"/>
<path stroke="#88c02d" d="M578.5 449.8h0M586.8 449.2h0M594.1 451.5h0M589.5 451.1h0M600.3 451.6h0M580.7 449.3h0M590.1 451.3h0M599.1 450.4h0M601.9 450.9h0M576.5 448.5h0M590.0 449.5h0M591.6 450.6h0M576.0 449.8h0M598.6 451.2h0M577.7 450.0h0M585.7 450.7h0"/>
<path stroke="#7db72d" d="M585.0 444.0h0M577.9 442.8h0M592.1 443.9h0M592.4 444.7h0M580.7 444.1h0M603.1 445.9h0M599.3 445.5h0M595.5 445.0h0"/>
<path stroke="#84be2c" d="M579.4 447.4h0M584.4 448.4h0M588.8 448.7h0M581.2 448.5h0M595.7 449.1h0M580.0 447.9h0M600.9 449.0h0M592.8 448.6h0"/>
<path stroke="#b47222" d="M589.2 482.2h0M579.0 480.7h0M581.1 481.0h0M584.4 481.8h0M585.3 482.0h0M583.2 482.5h0M587.8 482.2h0M594.4 483.8h0M578.5 482.3h0M574.6 480.7h0M592.1 482.7h0M576.4 482.1h0M580.5 483.0h0"/>
<path stroke="#b2b525" d="M592.9 469.3h0M586.0 467.6h0M603.3 469.2h0M574.0 467.5h0M585.9 469.5h0M597.3 469.4h0M576.6 467.3h0M577.8 467.8h0M592.2 469.5h0M601.2 469.4h0M576.0 467.1h0M596.2 470.0h0M579.6 467.4h0M598.2 469.5h0M587.9 469.9h0M599.8 470.1h0"/>
<path stroke="#60bd7f" d="M577.9 424.0h0M575.5 424.0h0M584.4 425.5h0M583.1 425.6h0M576.4 424.1h0M575.8 424.5h0M580.1 423.9h0"/>
<path stroke="#69b930" d="M585.0 438.8h0M592.3 440.1h0M578.1 438.4h0M589.5 440.2h0M587.8 440.0h0M600.6 440.6h0"/>
<path stroke="#b2c226" d="M597.8 464.0h0M574.9 462.4h0M585.0 463.2h0M598.3 463.9h0M589.0 463.2h0M602.1 464.1h0M593.1 463.5h0M582.5 463.6h0M593.7 462.4h0M579.2 462.0h0M575.7 461.4h0M600.7 464.1h0"/>
<path stroke="#9dc42f" d="M585.3 456.4h0M588.0 456.9h0M592.0 458.1h0M599.4 459.2h0M578.7 456.1h0M590.0 458.2h0M583.4 457.8h0M588.8 456.4h0M588.1 456.5h0M580.9 457.1h0M598.9 458.3h0M577.4 455.5h0M596.7 459.3h0M579.1 456.6h0M585.9 456.6h0"/>
<path stroke="#b2ae25" d="M602.1 473.1h0M582.0 471.2h0M588.8 471.1h0M579.7 470.2h0M600.0 473.3h0M577.7 469.8h0M584.4 471.5h0M583.7 470.9h0M580.7 470.6h0M602.1 472.3h0"/>
<path stroke="#b57823" d="M598.4 482.9h0M600.5 481.7h0M576.6 480.3h0M592.8 480.9h0M584.0 480.3h0M590.3 481.1h0M584.5 481.6h0M595.3 481.0h0M575.0 479.7h0M579.6 479.9h0M592.9 480.6h0"/>
<path stroke="#b58622" d="M600.7 478.2h0M598.2 478.8h0M584.9 477.1h0M586.8 477.4h0M581.7 475.8h0M583.1 477.1h0M575.3 475.2h0"/>
<path stroke="#518180" d="M577.6 417.0h0M579.5 417.2h0M578.7 415.5h0M573.8 416.0h0"/>
<path stroke="#b2b125" d="M576.4 469.3h0M590.6 471.1h0M598.3 470.8h0M595.2 471.1h0M593.4 471.3h0M574.1 469.0h0M584.2 469.2h0M596.1 471.1h0M579.9 469.5h0M596.7 471.7h0"/>
<path stroke="#62b931" d="M589.9 438.3h0M594.3 438.4h0M574.8 436.6h0M584.0 438.4h0M594.7 438.4h0M595.8 438.8h0M580.2 437.3h0M602.2 437.8h0M591.9 437.7h0M580.8 437.3h0M602.1 438.5h0M599.9 438.4h0M577.9 437.0h0M595.7 439.0h0M585.9 438.3h0"/>
<path stroke="#5db944" d="M585.2 433.7h0M598.0 435.0h0M583.5 434.5h0M590.7 435.0h0M576.1 433.8h0M580.1 433.8h0M585.8 435.8h0"/>
<path stroke="#506c80" d="M576.4 414.2h0M575.0 414.9h0"/>
<path stroke="#5cb95b" d="M598.4 433.2h0M590.3 431.4h0M578.9 430.9h0M595.1 433.2h0M598.1 433.3h0M574.4 430.7h0M583.1 431.4h0M585.1 431.3h0M583.5 431.5h0M585.2 431.6h0M588.2 431.9h0M579.4 429.5h0M580.6 431.6h0"/>
<path stroke="#54b080" d="M579.3 420.5h0M576.4 419.4h0M574.9 419.5h0M578.3 420.5h0"/>
<path stroke="#b59c1e" d="M602.1 475.0h0M596.6 476.2h0M591.8 475.4h0M585.9 473.2h0M574.8 473.5h0M587.4 474.5h0M596.4 474.5h0M583.8 473.5h0M585.2 473.6h0M600.6 475.5h0M577.5 471.9h0M596.5 476.2h0M580.8 474.7h0M577.0 472.7h0"/>
<path stroke="#b4921f" d="M588.2 476.5h0M579.4 475.0h0M590.7 476.6h0M599.5 477.2h0M584.3 475.4h0M593.6 476.2h0M593.9 476.5h0M577.5 474.5h0M576.9 474.7h0M583.0 474.7h0"/>
<path stroke="#b2bc25" d="M584.9 466.3h0M589.9 466.8h0M597.2 466.1h0M591.9 465.5h0M594.8 467.4h0M599.8 466.0h0M596.7 467.3h0M595.2 465.4h0M579.8 464.9h0M574.0 464.8h0"/>
<path stroke="#b57f22" d="M602.2 478.6h0M580.3 479.8h0M594.0 479.8h0M579.5 478.4h0M590.5 479.7h0M586.2 478.5h0M601.5 480.3h0M583.7 479.3h0M576.9 479.2h0M602.4 480.0h0M584.8 478.1h0M591.1 478.5h0M598.4 479.7h0M598.6 480.4h0M576.8 476.5h0M589.6 479.6h0M597.6 478.4h0"/>
<path stroke="#77b62e" d="M597.9 443.6h0M598.0 442.7h0M602.1 443.7h0M574.2 440.9h0M593.2 441.9h0M594.9 443.7h0M590.4 441.9h0M582.7 442.5h0M593.5 442.4h0M581.7 442.6h0M575.4 441.4h0M595.0 442.1h0M594.6 443.7h0M587.9 443.2h0M585.0 442.7h0M586.0 442.2h0"/>
<path stroke="#5eb939" d="M599.4 438.4h0M587.3 437.4h0M578.5 436.6h0M575.5 434.8h0M592.3 436.1h0M576.4 434.7h0M599.4 437.6h0M578.1 434.9h0M587.3 435.2h0M596.9 437.1h0M582.0 435.4h0M595.1 435.4h0M579.6 435.4h0M582.8 434.9h0"/>
<path stroke="#b1c428" d="M598.2 462.3h0M593.3 462.4h0M596.6 461.8h0M583.5 461.4h0M586.0 461.1h0M591.1 461.5h0M574.3 459.9h0M583.7 460.8h0M579.2 460.4h0M577.6 461.3h0"/>
<path stroke="#5eba63" d="M593.2 431.2h0M593.6 429.7h0M576.6 427.9h0M594.7 430.9h0M589.8 429.4h0M574.7 427.9h0M585.1 429.5h0M582.8 429.7h0M588.2 429.3h0"/>
<path stroke="#b2a723" d="M599.6 474.4h0M591.8 472.8h0M594.9 473.5h0M576.1 471.3h0M589.3 472.7h0M589.7 473.2h0M580.7 472.3h0M598.6 473.1h0"/>
<path stroke="#61bd78" d="M577.8 424.7h0M580.8 425.7h0M588.3 426.7h0M586.8 426.3h0M589.7 427.5h0M578.7 425.7h0M582.9 425.9h0M591.9 426.6h0M579.8 425.1h0M586.6 425.9h0M580.8 426.6h0"/>
<path stroke="#60bc6d" d="M590.8 428.0h0M581.4 428.0h0M574.4 426.9h0M590.2 429.4h0M586.9 428.5h0M576.4 428.3h0"/>
<path stroke="#519280" d="M579.8 417.6h0"/>
<path stroke="#5cb94c" d="M592.9 434.3h0M578.6 431.7h0M587.0 433.0h0M577.5 432.5h0M593.9 432.9h0M581.2 431.3h0M589.5 432.9h0M579.6 432.7h0M590.2 434.7h0"/>
<path stroke="#57b580" d="M583.7 422.2h0M576.9 420.2h0M581.9 420.8h0M579.7 421.4h0"/>
<path stroke="#96c332" d="M590.2 455.0h0M574.4 454.8h0M584.0 455.0h0M574.1 454.0h0M594.8 456.0h0M588.1 454.9h0M594.6 457.3h0"/>
<path stroke="#91c22f" d="M586.8 455.0h0M600.7 454.0h0M592.2 453.3h0M577.1 453.4h0M596.9 455.7h0M596.2 453.1h0M584.9 452.6h0M578.7 452.4h0M585.5 452.9h0M589.3 454.6h0M601.8 455.8h0M599.3 455.5h0M582.2 453.7h0M583.0 454.7h0M579.0 452.7h0M596.3 454.5h0M579.8 454.2h0"/>
<path stroke="#a4c42e" d="M581.9 459.3h0M577.6 457.9h0M599.0 460.1h0M601.6 458.8h0M594.6 459.3h0M596.4 460.1h0"/>
<path stroke="#6eb830" d="M575.9 439.8h0M601.8 442.0h0M598.0 441.3h0M574.2 438.8h0M587.3 441.5h0"/>
<path stroke="#7fb92c" d="M590.5 445.9h0M575.7 444.3h0M597.9 446.0h0M573.7 443.8h0M599.5 445.8h0M584.6 446.0h0M576.7 444.0h0M581.6 445.6h0M599.5 447.2h0M601.6 446.9h0M595.7 446.8h0M585.9 445.5h0M574.6 443.6h0"/>
<path stroke="#5bb880" d="M575.6 421.2h0M582.6 423.6h0M575.6 422.3h0M584.9 422.8h0M588.5 423.8h0"/>
<path stroke="#506e67" d="M573.8 412.8h0"/>
<path stroke="#b36638" d="M579.1 484.4h0M575.0 484.8h0"/>
</g>
</g>
<clipPath id="c34"><rect x="575.47" y="483.77" width="26.04" height="32.13"/></clipPath>
<g clip-path="url(#c34)">
<rect x="574.47" y="482.77" width="28.04" height="34.13" fill="#d6f8d6"/>
<g fill="none" stroke-linecap="round" stroke-width="3.60">
<path stroke="#d65b31" d="M597.1 484.0h0M595.1 484.8h0M578.0 483.5h0M593.3 483.6h0M585.0 483.9h0M602.0 485.7h0M592.6 483.4h0M583.4 483.4h0M596.2 485.6h0M587.6 483.6h0M587.6 483.4h0M574.6 482.9h0"/>
<path stroke="#9078bf" d="M592.1 497.5h0M602.7 499.1h0M596.1 498.0h0M603.2 498.4h0M599.0 499.4h0M592.2 498.0h0M586.3 497.6h0"/>
<path stroke="#b395c7" d="M591.0 501.6h0M587.8 500.8h0M581.6 500.0h0M600.0 504.0h0M596.9 502.2h0M582.9 500.0h0M583.5 500.7h0M585.2 500.8h0M601.3 502.8h0M588.4 501.6h0"/>
<path stroke="#a186c4" d="M588.3 498.1h0M593.4 500.5h0M599.6 500.9h0M580.2 499.4h0M586.1 499.5h0M596.3 500.1h0M595.7 499.9h0M602.0 501.5h0M600.9 499.3h0M591.1 500.2h0M600.4 500.8h0M587.4 499.8h0M603.2 501.0h0"/>
<path stroke="#af69b8" d="M598.9 495.4h0M589.7 492.8h0M592.0 493.8h0M590.4 492.5h0M596.3 494.6h0M582.4 493.4h0M579.6 493.0h0M584.7 492.4h0M590.4 493.9h0M579.7 493.2h0M577.8 492.7h0M600.3 494.4h0M576.8 491.3h0M602.7 495.1h0"/>
<path stroke="#d66833" d="M589.2 482.2h0M585.3 482.0h0M583.2 482.5h0M587.8 482.2h0M594.4 483.8h0M578.5 482.3h0M592.1 482.7h0M576.4 482.1h0M580.5 483.0h0"/>
<path stroke="#d55660" d="M585.4 486.6h0M592.0 487.1h0M576.3 485.7h0M598.4 487.0h0M586.0 486.6h0M595.0 488.2h0M601.3 488.0h0M590.2 487.0h0M595.6 485.8h0M600.8 487.2h0M575.3 485.9h0M585.0 487.0h0M579.1 484.4h0M582.7 485.7h0M575.0 484.8h0"/>
<path stroke="#bd63b4" d="M597.3 492.6h0M584.9 491.0h0M588.4 491.0h0M601.6 493.1h0M573.9 490.9h0M587.3 491.7h0M581.6 491.9h0M576.7 490.4h0M589.9 490.0h0M586.6 491.3h0M594.4 492.9h0M596.4 492.7h0M602.1 493.0h0M592.8 491.2h0M579.5 490.6h0M580.3 489.6h0M578.9 491.7h0M574.3 490.9h0M583.4 491.2h0"/>
<path stroke="#d57133" d="M598.4 482.9h0"/>
<path stroke="#9973bd" d="M596.4 497.6h0M587.0 495.4h0M577.7 494.7h0M581.1 494.6h0M579.7 495.4h0M584.0 496.4h0M600.2 498.2h0M577.8 496.1h0M593.2 496.2h0M582.3 496.3h0M589.5 497.4h0M597.1 497.2h0M583.7 495.6h0M579.6 496.4h0"/>
<path stroke="#d55683" d="M598.2 489.6h0M579.7 486.9h0M588.7 487.5h0M595.2 490.7h0M600.2 488.9h0M592.2 488.6h0M602.5 490.2h0M593.0 487.6h0M578.0 487.4h0M583.8 486.9h0M585.9 487.1h0M596.4 488.5h0M578.2 487.1h0"/>
<path stroke="#c09fc9" d="M597.5 503.5h0M594.0 503.7h0M594.8 503.7h0M591.0 502.6h0"/>
<path stroke="#ca5aa3" d="M599.0 491.1h0M594.3 489.6h0M589.9 488.6h0M581.3 489.0h0M594.0 490.3h0M582.5 489.0h0M599.2 490.8h0M598.7 492.3h0M575.5 487.9h0M586.5 489.6h0"/>
<path stroke="#caadcb" d="M597.6 505.4h0M598.3 505.5h0M602.5 505.7h0M591.8 504.0h0"/>
<path stroke="#a56db9" d="M599.2 495.5h0M574.7 494.4h0M576.1 494.8h0M593.7 494.6h0M576.3 494.8h0M574.0 493.6h0M598.2 496.2h0M587.1 495.1h0M589.6 495.8h0"/>
<path stroke="#cbb5cc" d="M597.3 505.9h0M599.3 506.5h0M597.1 506.3h0M598.6 507.1h0M602.2 506.6h0"/>
<path stroke="#ccc1cd" d="M601.6 508.5h0M602.3 509.1h0"/>
</g>
</g>
<clipPath id="c35"><rect x="601.51" y="324.53" width="24.79" height="52.50"/></clipPath>
<g clip-path="url(#c35)">
<rect x="600.51" y="323.53" width="26.79" height="54.50" fill="#f9fcfb"/>
</g>
<clipPath id="c36"><rect x="601.51" y="393.09" width="24.79" height="90.67"/></clipPath>
<g clip-path="url(#c36)">
<rect x="600.51" y="392.09" width="26.79" height="92.67" fill="#cccc99"/>
<g fill="none" stroke-linecap="round" stroke-width="3.60">
<path stroke="#80bb23" d="M603.0 448.4h0M606.2 449.5h0M603.5 449.2h0"/>
<path stroke="#5db828" d="M603.9 440.8h0M603.4 440.7h0M600.6 440.6h0"/>
<path stroke="#a1c62a" d="M605.2 458.1h0M608.0 457.7h0M603.9 456.5h0"/>
<path stroke="#aac728" d="M605.4 457.9h0M608.6 459.6h0M603.4 458.6h0M608.5 458.7h0"/>
<path stroke="#cca513" d="M602.1 473.1h0M609.6 473.9h0M603.3 472.5h0M611.5 474.4h0M613.0 473.2h0M600.0 473.3h0M608.7 472.9h0M605.5 472.5h0M602.1 472.3h0M609.1 473.0h0"/>
<path stroke="#c8c90f" d="M609.3 464.5h0M610.5 463.7h0M608.4 462.6h0"/>
<path stroke="#cbb00f" d="M612.5 471.6h0M603.3 469.2h0M609.5 470.4h0M607.6 469.5h0M601.2 469.4h0M612.7 471.1h0M599.8 470.1h0"/>
<path stroke="#cbc50d" d="M610.5 465.0h0M607.7 464.7h0M602.1 464.1h0M606.3 464.1h0M600.7 464.1h0"/>
<path stroke="#cc6815" d="M600.7 478.2h0M608.6 480.1h0M611.5 478.4h0M610.5 480.4h0M606.4 478.7h0"/>
<path stroke="#cbba0d" d="M611.3 467.8h0M608.8 468.0h0M608.2 467.7h0M599.8 466.0h0M611.6 467.8h0"/>
<path stroke="#ca8611" d="M602.1 475.0h0M606.3 476.2h0M605.6 475.0h0M607.7 477.3h0M600.6 475.5h0M611.6 477.0h0"/>
<path stroke="#cd5417" d="M609.4 482.2h0M600.5 481.7h0M605.0 481.7h0M610.3 483.9h0M612.8 483.2h0M607.6 483.6h0M610.8 482.6h0"/>
<path stroke="#ccbf0c" d="M607.2 467.3h0M604.2 465.8h0M607.0 465.9h0M602.7 466.4h0M603.7 465.3h0"/>
<path stroke="#cbb50b" d="M602.1 468.8h0M602.9 469.4h0M606.2 469.1h0"/>
<path stroke="#cd5e16" d="M602.2 478.6h0M601.5 480.3h0M602.4 480.0h0M613.8 481.6h0M604.7 479.8h0M612.2 481.2h0"/>
<path stroke="#cb9a13" d="M607.2 474.4h0M610.3 474.9h0M605.8 474.0h0"/>
<path stroke="#99c529" d="M608.9 455.7h0M600.7 454.0h0M609.5 454.9h0M605.4 455.5h0M601.8 455.8h0M607.6 456.1h0M605.9 455.1h0"/>
<path stroke="#ce4d17" d="M609.3 484.3h0M613.0 484.6h0M605.7 484.4h0M603.6 484.1h0M608.7 485.2h0M604.1 483.8h0"/>
<path stroke="#cb7913" d="M612.8 478.0h0M613.4 478.8h0M605.6 477.5h0M604.9 478.2h0"/>
<path stroke="#bfcb1a" d="M604.9 461.7h0M608.1 461.8h0M606.5 462.4h0M605.1 461.4h0M602.3 461.4h0"/>
<path stroke="#6fb325" d="M602.1 443.7h0M603.4 443.4h0"/>
<path stroke="#90c327" d="M601.0 455.1h0M608.1 453.0h0M602.1 453.3h0"/>
<path stroke="#78b323" d="M606.3 446.1h0M605.5 445.3h0M603.1 445.9h0M605.2 444.4h0"/>
<path stroke="#89c225" d="M600.3 451.6h0M601.9 450.9h0M605.9 452.0h0M607.2 451.4h0M604.5 451.9h0"/>
<path stroke="#b6c921" d="M608.8 461.1h0M601.6 458.8h0M604.0 460.4h0"/>
<path stroke="#82be23" d="M604.6 449.7h0M604.6 449.7h0M600.9 449.0h0"/>
<path stroke="#54b92a" d="M602.2 437.8h0M602.1 438.5h0M599.9 438.4h0"/>
<path stroke="#7bb723" d="M604.4 445.5h0M601.6 446.9h0"/>
<path stroke="#63b727" d="M601.8 442.0h0"/>
<path stroke="#d04318" d="M608.8 485.3h0"/>
</g>
</g>
<path d="M403.50 324.53H626.30" stroke="#000" stroke-width="1.15"/>
<path d="M403.50 377.03H626.30" stroke="#000" stroke-width="1.15"/>
<path d="M403.50 393.09H626.30" stroke="#000" stroke-width="1.15"/>
<path d="M403.50 483.77H626.30" stroke="#000" stroke-width="1.15"/>
<path d="M403.50 351.41H626.30" stroke="#000" stroke-width="1.15" stroke-dasharray="5.6 2.3"/>
<path d="M403.50 441.13H626.30" stroke="#000" stroke-width="1.15" stroke-dasharray="5.6 2.3"/>
<path d="M476.88 515.90V309.10" stroke="#000" stroke-width="1.12"/>
<path d="M488.30 515.90V309.10" stroke="#000" stroke-width="1.12"/>
<path d="M575.47 515.90V309.10" stroke="#000" stroke-width="1.12"/>
<path d="M601.51 515.90V309.10" stroke="#000" stroke-width="1.12"/>
<path d="M482.45 515.90V309.10" stroke="#000" stroke-width="0.95" stroke-dasharray="3.8 1.65"/>
<path d="M588.84 515.90V309.10" stroke="#000" stroke-width="0.95" stroke-dasharray="3.8 1.65"/>
<rect x="403.50" y="309.10" width="222.80" height="206.80" fill="none" stroke="#1a1a1a" stroke-width="0.7"/>
<path d="M403.50 515.90v3.00" stroke="#000" stroke-width="0.8"/>
<text x="403.15" y="527.80" font-size="8.2" text-anchor="middle" letter-spacing="0.12">80.30</text>
<path d="M431.35 515.90v3.00" stroke="#000" stroke-width="0.8"/>
<text x="431.00" y="527.80" font-size="8.2" text-anchor="middle" letter-spacing="0.12">80.32</text>
<path d="M459.20 515.90v3.00" stroke="#000" stroke-width="0.8"/>
<text x="458.85" y="527.80" font-size="8.2" text-anchor="middle" letter-spacing="0.12">80.34</text>
<path d="M487.05 515.90v3.00" stroke="#000" stroke-width="0.8"/>
<text x="486.70" y="527.80" font-size="8.2" text-anchor="middle" letter-spacing="0.12">80.36</text>
<path d="M514.90 515.90v3.00" stroke="#000" stroke-width="0.8"/>
<text x="514.55" y="527.80" font-size="8.2" text-anchor="middle" letter-spacing="0.12">80.38</text>
<path d="M542.75 515.90v3.00" stroke="#000" stroke-width="0.8"/>
<text x="542.40" y="527.80" font-size="8.2" text-anchor="middle" letter-spacing="0.12">80.40</text>
<path d="M570.60 515.90v3.00" stroke="#000" stroke-width="0.8"/>
<text x="570.25" y="527.80" font-size="8.2" text-anchor="middle" letter-spacing="0.12">80.42</text>
<path d="M598.45 515.90v3.00" stroke="#000" stroke-width="0.8"/>
<text x="598.10" y="527.80" font-size="8.2" text-anchor="middle" letter-spacing="0.12">80.44</text>
<path d="M626.30 515.90v3.00" stroke="#000" stroke-width="0.8"/>
<text x="625.95" y="527.80" font-size="8.2" text-anchor="middle" letter-spacing="0.12">80.46</text>
<path d="M403.50 499.99h-3.00" stroke="#000" stroke-width="0.8"/>
<text x="398.30" y="502.79" font-size="8.2" text-anchor="end" letter-spacing="0.12">0.2306</text>
<path d="M403.50 468.18h-3.00" stroke="#000" stroke-width="0.8"/>
<text x="398.30" y="470.98" font-size="8.2" text-anchor="end" letter-spacing="0.12">0.2308</text>
<path d="M403.50 436.36h-3.00" stroke="#000" stroke-width="0.8"/>
<text x="398.30" y="439.16" font-size="8.2" text-anchor="end" letter-spacing="0.12">0.2310</text>
<path d="M403.50 404.55h-3.00" stroke="#000" stroke-width="0.8"/>
<text x="398.30" y="407.35" font-size="8.2" text-anchor="end" letter-spacing="0.12">0.2312</text>
<path d="M403.50 372.73h-3.00" stroke="#000" stroke-width="0.8"/>
<text x="398.30" y="375.53" font-size="8.2" text-anchor="end" letter-spacing="0.12">0.2314</text>
<path d="M403.50 340.92h-3.00" stroke="#000" stroke-width="0.8"/>
<text x="398.30" y="343.72" font-size="8.2" text-anchor="end" letter-spacing="0.12">0.2316</text>
<path d="M403.50 309.10h-3.00" stroke="#000" stroke-width="0.8"/>
<text x="398.30" y="311.90" font-size="8.2" text-anchor="end" letter-spacing="0.12">0.2318</text>
<text x="514.90" y="539.10" font-size="8" text-anchor="middle" font-style="italic" letter-spacing="0.3">M<tspan font-size="5.4" dy="1.6">W</tspan><tspan dy="-1.6">[GeV]</tspan></text>
<text x="364.30" y="413.50" font-size="8" text-anchor="middle" font-style="italic" letter-spacing="0.35" transform="rotate(-90 364.30 413.50)">sin<tspan font-size="5" dy="-2.6">2</tspan><tspan dy="2.6">&#952;</tspan><tspan font-size="5.2" dy="1.6">eff</tspan></text>
<text x="407.80" y="320.70" font-size="8.1" text-anchor="start" font-style="italic" letter-spacing="0.3">world &#8722; avg &#177; 1&#963;</text>
<text x="410.80" y="389.90" font-size="8.1" text-anchor="start" font-style="italic" letter-spacing="0.3">SLD &#177; 1&#963;</text>
<text x="498.10" y="438.50" font-size="8.1" text-anchor="start" font-style="italic" transform="rotate(-90 498.10 438.50)" letter-spacing="0.3">SM &#177; 1&#963;</text>
<text x="611.50" y="442.10" font-size="8.1" text-anchor="start" font-style="italic" transform="rotate(-90 611.50 442.10)" letter-spacing="0.3">CDF &#177; 1&#963;</text>
<linearGradient id="cb3" x1="0" y1="0" x2="0" y2="1"><stop offset="0.0000" stop-color="#fbf7fb"/><stop offset="0.0104" stop-color="#f7eff7"/><stop offset="0.0208" stop-color="#f2e1f1"/><stop offset="0.0312" stop-color="#f0d9ef"/><stop offset="0.0417" stop-color="#ebcceb"/><stop offset="0.0521" stop-color="#e7bfe5"/><stop offset="0.0625" stop-color="#e4b7e1"/><stop offset="0.0729" stop-color="#deaadb"/><stop offset="0.0833" stop-color="#d99fd6"/><stop offset="0.0938" stop-color="#d596d3"/><stop offset="0.1042" stop-color="#d18acd"/><stop offset="0.1146" stop-color="#be7cc9"/><stop offset="0.1250" stop-color="#b272c7"/><stop offset="0.1354" stop-color="#a164c3"/><stop offset="0.1458" stop-color="#9057c0"/><stop offset="0.1562" stop-color="#8650be"/><stop offset="0.1667" stop-color="#944dbf"/><stop offset="0.1771" stop-color="#a34bbf"/><stop offset="0.1875" stop-color="#ac4bbf"/><stop offset="0.1979" stop-color="#bb49c0"/><stop offset="0.2083" stop-color="#cc46bd"/><stop offset="0.2188" stop-color="#d537a9"/><stop offset="0.2292" stop-color="#ea1d8e"/><stop offset="0.2396" stop-color="#ee1064"/><stop offset="0.2500" stop-color="#ed1443"/><stop offset="0.2604" stop-color="#ed1d1f"/><stop offset="0.2708" stop-color="#ed291a"/><stop offset="0.2812" stop-color="#ee2e19"/><stop offset="0.2917" stop-color="#ee3619"/><stop offset="0.3021" stop-color="#ee4019"/><stop offset="0.3125" stop-color="#ef4919"/><stop offset="0.3229" stop-color="#f15b19"/><stop offset="0.3333" stop-color="#f3711b"/><stop offset="0.3438" stop-color="#f4811b"/><stop offset="0.3542" stop-color="#f79819"/><stop offset="0.3646" stop-color="#f9b116"/><stop offset="0.3750" stop-color="#fbbb13"/><stop offset="0.3854" stop-color="#fac314"/><stop offset="0.3958" stop-color="#f9c916"/><stop offset="0.4062" stop-color="#f9ce15"/><stop offset="0.4167" stop-color="#fbd611"/><stop offset="0.4271" stop-color="#fbde0d"/><stop offset="0.4375" stop-color="#fbe20a"/><stop offset="0.4479" stop-color="#fce707"/><stop offset="0.4583" stop-color="#fceb04"/><stop offset="0.4688" stop-color="#fded04"/><stop offset="0.4792" stop-color="#f2ed0c"/><stop offset="0.4896" stop-color="#e5e919"/><stop offset="0.5000" stop-color="#dce620"/><stop offset="0.5104" stop-color="#cee22e"/><stop offset="0.5208" stop-color="#c1e03d"/><stop offset="0.5312" stop-color="#b9de42"/><stop offset="0.5417" stop-color="#addb3c"/><stop offset="0.5521" stop-color="#a1d837"/><stop offset="0.5625" stop-color="#9ad633"/><stop offset="0.5729" stop-color="#8fd42f"/><stop offset="0.5833" stop-color="#84ce23"/><stop offset="0.5938" stop-color="#82cb23"/><stop offset="0.6042" stop-color="#7ec826"/><stop offset="0.6146" stop-color="#78c426"/><stop offset="0.6250" stop-color="#73c126"/><stop offset="0.6354" stop-color="#68be27"/><stop offset="0.6458" stop-color="#60c129"/><stop offset="0.6562" stop-color="#5cc32a"/><stop offset="0.6667" stop-color="#56c62b"/><stop offset="0.6771" stop-color="#4ec929"/><stop offset="0.6875" stop-color="#4aca31"/><stop offset="0.6979" stop-color="#4fcd48"/><stop offset="0.7083" stop-color="#5ad16a"/><stop offset="0.7188" stop-color="#5ed47b"/><stop offset="0.7292" stop-color="#66d895"/><stop offset="0.7396" stop-color="#6adba9"/><stop offset="0.7500" stop-color="#6cddb4"/><stop offset="0.7604" stop-color="#71dfc0"/><stop offset="0.7708" stop-color="#73e2ce"/><stop offset="0.7812" stop-color="#76e3d7"/><stop offset="0.7917" stop-color="#6cdee1"/><stop offset="0.8021" stop-color="#5cd5e7"/><stop offset="0.8125" stop-color="#50d0ea"/><stop offset="0.8229" stop-color="#3fc8ef"/><stop offset="0.8333" stop-color="#31c0f0"/><stop offset="0.8438" stop-color="#30b3ec"/><stop offset="0.8542" stop-color="#3688d6"/><stop offset="0.8646" stop-color="#3165c6"/><stop offset="0.8750" stop-color="#2c50bc"/><stop offset="0.8854" stop-color="#2937b3"/><stop offset="0.8958" stop-color="#252aa3"/><stop offset="0.9062" stop-color="#252d99"/><stop offset="0.9167" stop-color="#1f3787"/><stop offset="0.9271" stop-color="#063e5a"/><stop offset="0.9375" stop-color="#044c38"/><stop offset="0.9479" stop-color="#1d6521"/><stop offset="0.9583" stop-color="#064a26"/><stop offset="0.9688" stop-color="#053a35"/><stop offset="0.9792" stop-color="#122d54"/><stop offset="0.9896" stop-color="#1f286f"/><stop offset="1.0000" stop-color="#242680"/></linearGradient>
<rect x="640.30" y="309.10" width="10.30" height="206.80" fill="url(#cb3)" stroke="#333" stroke-width="0.5"/>
<path d="M650.60 502.29h3.00" stroke="#000" stroke-width="0.8"/>
<text x="656.20" y="505.09" font-size="8.2" text-anchor="start" letter-spacing="0.12">0.15</text>
<path d="M650.60 466.27h3.00" stroke="#000" stroke-width="0.8"/>
<text x="656.20" y="469.07" font-size="8.2" text-anchor="start" letter-spacing="0.12">0.20</text>
<path d="M650.60 430.26h3.00" stroke="#000" stroke-width="0.8"/>
<text x="656.20" y="433.06" font-size="8.2" text-anchor="start" letter-spacing="0.12">0.25</text>
<path d="M650.60 394.24h3.00" stroke="#000" stroke-width="0.8"/>
<text x="656.20" y="397.04" font-size="8.2" text-anchor="start" letter-spacing="0.12">0.30</text>
<path d="M650.60 358.22h3.00" stroke="#000" stroke-width="0.8"/>
<text x="656.20" y="361.02" font-size="8.2" text-anchor="start" letter-spacing="0.12">0.35</text>
<path d="M650.60 322.21h3.00" stroke="#000" stroke-width="0.8"/>
<text x="656.20" y="325.01" font-size="8.2" text-anchor="start" letter-spacing="0.12">0.40</text>
<text x="679.80" y="413.00" font-size="8" text-anchor="middle" font-style="italic" transform="rotate(-90 679.80 413.00)">T</text>
<text x="513.30" y="569.90" font-size="21.5" text-anchor="middle" class='cap' letter-spacing='0.4' font-family='Liberation Serif, serif'>(d)</text>
</svg>
</body></html>
